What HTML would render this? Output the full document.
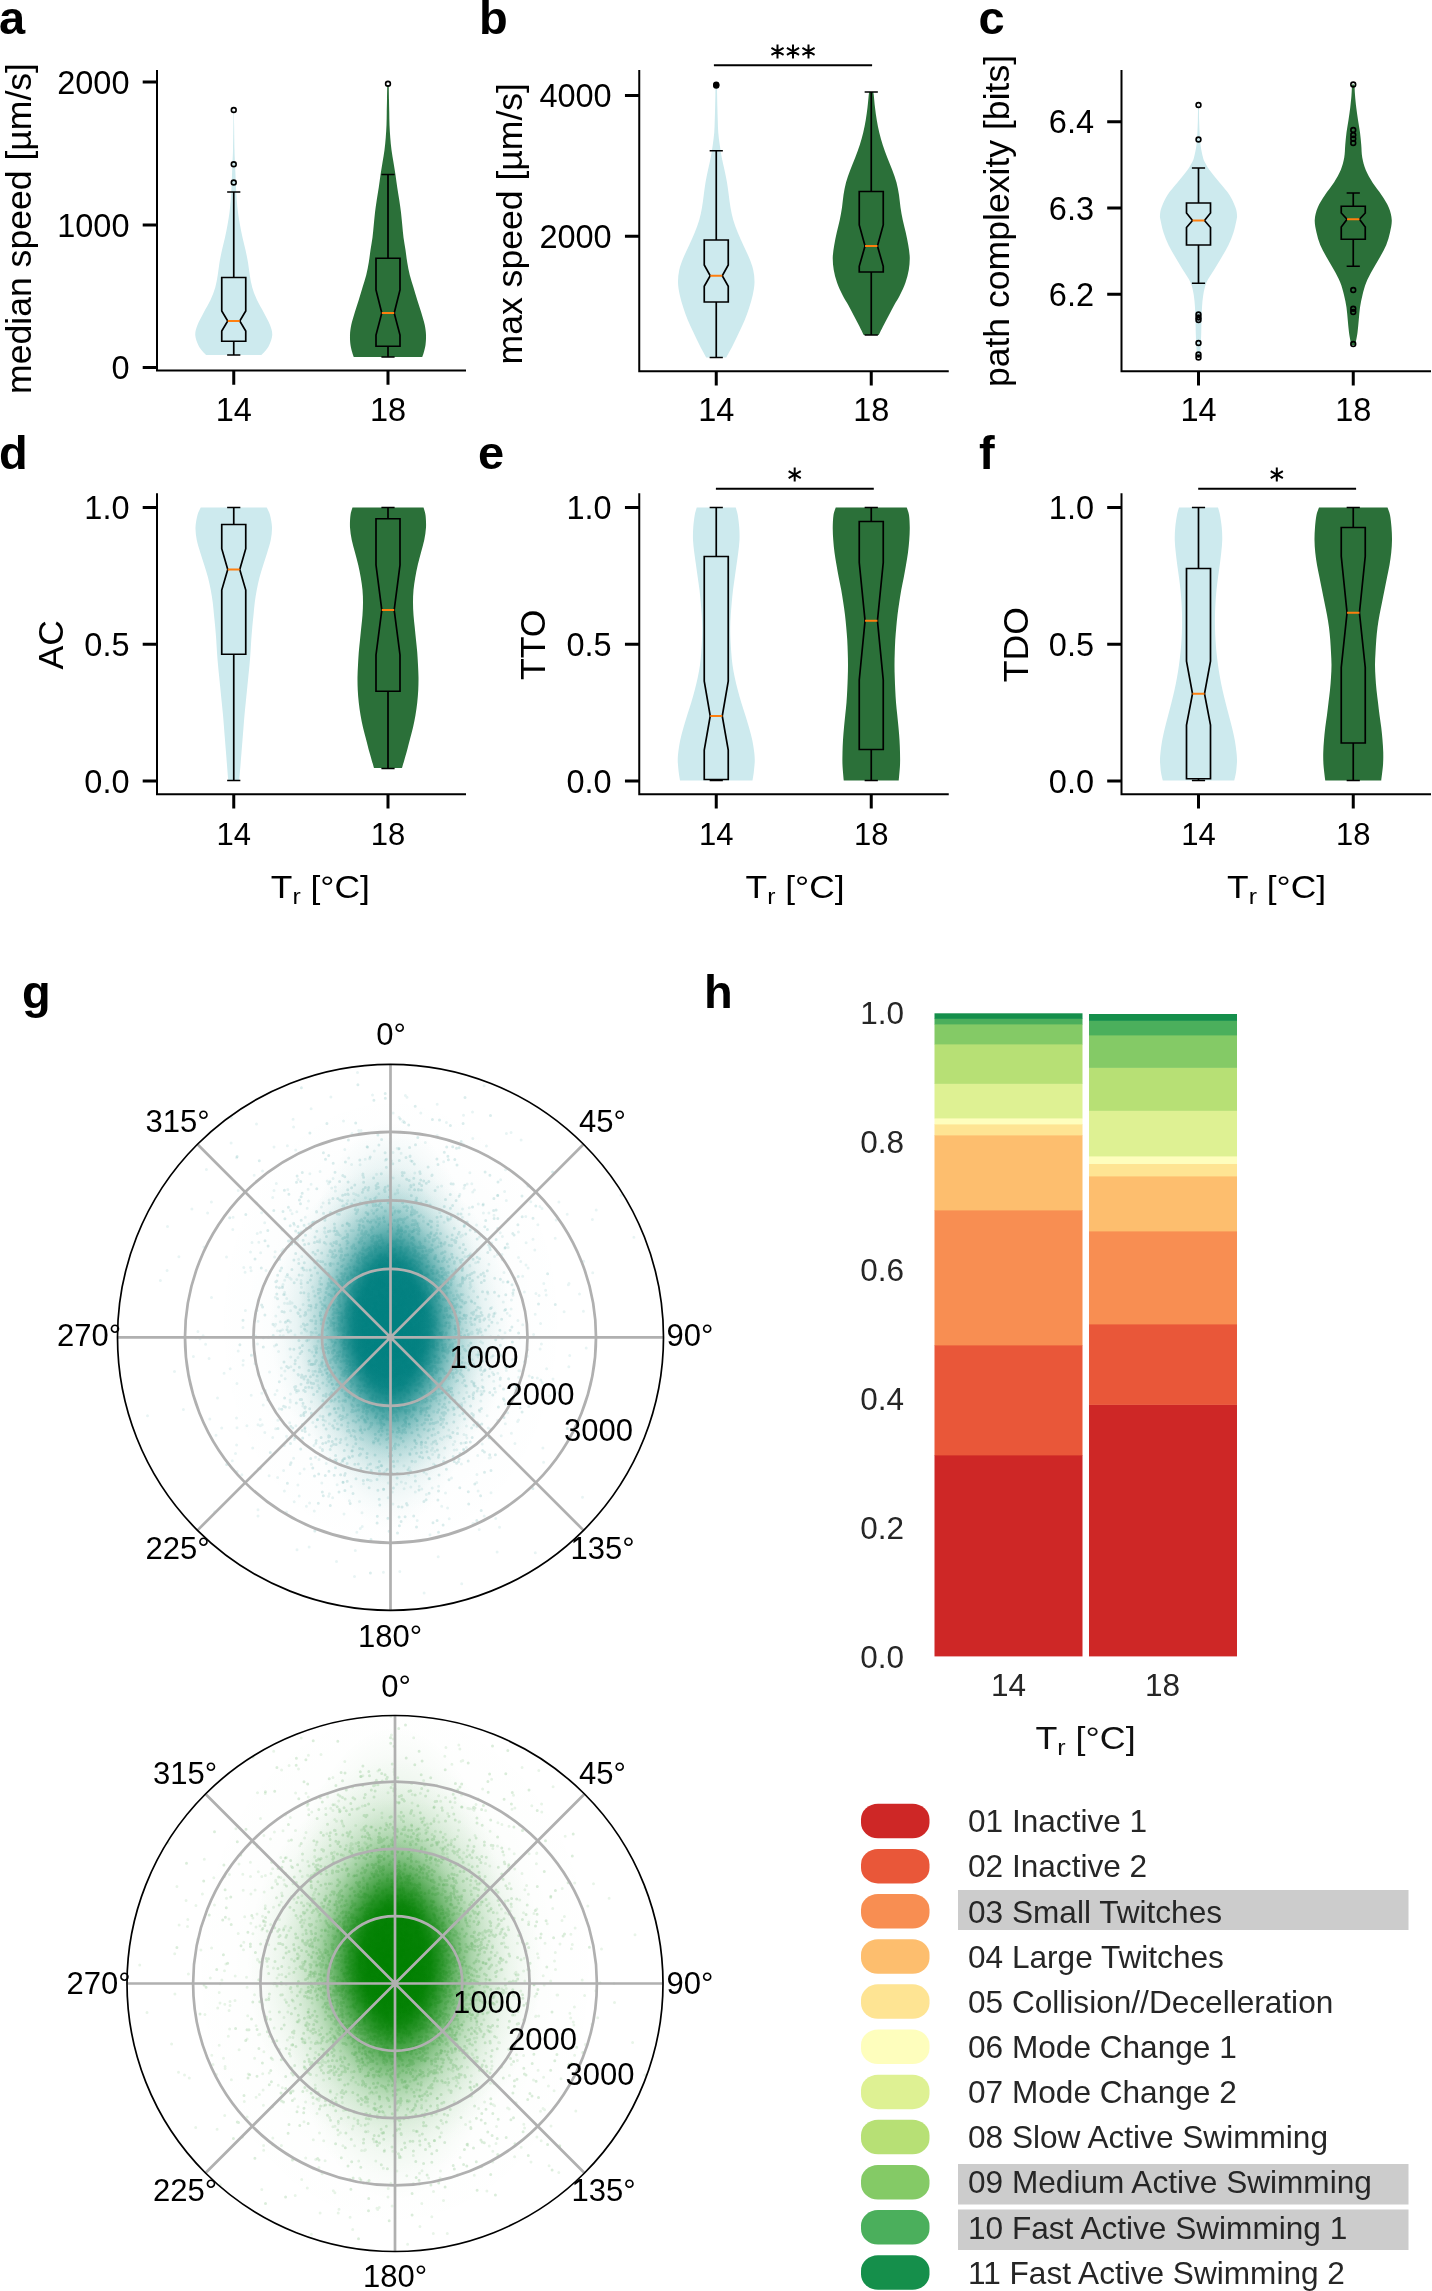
<!DOCTYPE html>
<html><head><meta charset="utf-8"><title>figure</title>
<style>html,body{margin:0;padding:0;background:#fff}svg{display:block;will-change:transform}text{font-family:"Liberation Sans", sans-serif}</style>
</head><body>
<svg width="1432" height="2291" viewBox="0 0 1432 2291">
<rect width="1432" height="2291" fill="#fff"/>
<path d="M233.5 110C233.48 112.5 233.46 118.33 233.38 125C233.29 131.67 233.15 143.75 233 150C232.85 156.25 232.67 158.33 232.5 162.5C232.33 166.67 232.17 170.83 232 175C231.83 179.17 231.71 183.33 231.5 187.5C231.29 191.67 231.08 195.83 230.75 200C230.42 204.17 230.04 208.33 229.5 212.5C228.96 216.67 228.25 220.83 227.5 225C226.75 229.17 225.92 233.33 225 237.5C224.08 241.67 222.92 245.83 222 250C221.08 254.17 220.21 258.33 219.5 262.5C218.79 266.67 218.46 270.83 217.75 275C217.04 279.17 216.46 283.33 215.25 287.5C214.04 291.67 212.42 295.83 210.5 300C208.58 304.17 205.92 308.33 203.75 312.5C201.58 316.67 198.92 321.25 197.5 325C196.08 328.75 195.12 331.67 195.25 335C195.38 338.33 197.04 342.29 198.25 345C199.46 347.71 201.17 349.58 202.5 351.25C203.83 352.92 205.62 354.38 206.25 355L261.25 355C261.88 354.38 263.67 352.92 265 351.25C266.33 349.58 268.04 347.71 269.25 345C270.46 342.29 272.12 338.33 272.25 335C272.38 331.67 271.42 328.75 270 325C268.58 321.25 265.92 316.67 263.75 312.5C261.58 308.33 258.92 304.17 257 300C255.08 295.83 253.46 291.67 252.25 287.5C251.04 283.33 250.46 279.17 249.75 275C249.04 270.83 248.71 266.67 248 262.5C247.29 258.33 246.42 254.17 245.5 250C244.58 245.83 243.42 241.67 242.5 237.5C241.58 233.33 240.75 229.17 240 225C239.25 220.83 238.54 216.67 238 212.5C237.46 208.33 237.08 204.17 236.75 200C236.42 195.83 236.21 191.67 236 187.5C235.79 183.33 235.67 179.17 235.5 175C235.33 170.83 235.17 166.67 235 162.5C234.83 158.33 234.65 156.25 234.5 150C234.35 143.75 234.21 131.67 234.12 125C234.04 118.33 234.02 112.5 234 110Z" fill="#cdeaee"/>
<path d="M387.25 85C387.21 87.5 387.08 95.42 387 100C386.92 104.58 386.83 108.33 386.75 112.5C386.67 116.67 386.67 120.83 386.5 125C386.33 129.17 386.08 133.33 385.75 137.5C385.42 141.67 385.04 145.83 384.5 150C383.96 154.17 383.17 158.33 382.5 162.5C381.83 166.67 381.12 170.83 380.5 175C379.88 179.17 379.38 183.33 378.75 187.5C378.12 191.67 377.38 195.83 376.75 200C376.12 204.17 375.5 208.33 375 212.5C374.5 216.67 374.17 220.83 373.75 225C373.33 229.17 373.04 233.33 372.5 237.5C371.96 241.67 371.12 245.83 370.5 250C369.88 254.17 369.46 258.33 368.75 262.5C368.04 266.67 367.29 270.83 366.25 275C365.21 279.17 363.75 283.33 362.5 287.5C361.25 291.67 360.04 295.83 358.75 300C357.46 304.17 356 308.33 354.75 312.5C353.5 316.67 352.04 321.25 351.25 325C350.46 328.75 350.12 331.67 350 335C349.88 338.33 350.12 342.08 350.5 345C350.88 347.92 351.71 350.5 352.25 352.5C352.79 354.5 353.5 356.25 353.75 357L422.25 357C422.5 356.25 423.21 354.5 423.75 352.5C424.29 350.5 425.12 347.92 425.5 345C425.88 342.08 426.12 338.33 426 335C425.88 331.67 425.54 328.75 424.75 325C423.96 321.25 422.5 316.67 421.25 312.5C420 308.33 418.54 304.17 417.25 300C415.96 295.83 414.75 291.67 413.5 287.5C412.25 283.33 410.79 279.17 409.75 275C408.71 270.83 407.96 266.67 407.25 262.5C406.54 258.33 406.12 254.17 405.5 250C404.88 245.83 404.04 241.67 403.5 237.5C402.96 233.33 402.67 229.17 402.25 225C401.83 220.83 401.5 216.67 401 212.5C400.5 208.33 399.88 204.17 399.25 200C398.62 195.83 397.88 191.67 397.25 187.5C396.62 183.33 396.12 179.17 395.5 175C394.88 170.83 394.17 166.67 393.5 162.5C392.83 158.33 392.04 154.17 391.5 150C390.96 145.83 390.58 141.67 390.25 137.5C389.92 133.33 389.67 129.17 389.5 125C389.33 120.83 389.33 116.67 389.25 112.5C389.17 108.33 389.08 104.58 389 100C388.92 95.42 388.79 87.5 388.75 85Z" fill="#2b7039"/>
<path d="M221.75 341.25 L245.75 341.25 L245.75 331 L239.75 321 L245.75 311 L245.75 277.5 L221.75 277.5 L221.75 311 L227.75 321 L221.75 331 Z" fill="none" stroke="#000" stroke-width="1.7" stroke-linejoin="miter"/>
<path d="M233.75 277.5 V192 M233.75 341.25 V355 M227.15 192 H240.35 M227.15 355 H240.35" stroke="#000" stroke-width="1.7" fill="none"/>
<path d="M227.75 321 H239.75" stroke="#ff7f0e" stroke-width="2"/>
<circle cx="233.75" cy="110" r="2.4" fill="none" stroke="#000" stroke-width="1.6"/>
<circle cx="233.75" cy="164.25" r="2.4" fill="none" stroke="#000" stroke-width="1.6"/>
<circle cx="233.75" cy="182.5" r="2.4" fill="none" stroke="#000" stroke-width="1.6"/>
<path d="M376 346.25 L400 346.25 L400 335 L394.2 313 L400 290 L400 258.25 L376 258.25 L376 290 L381.8 313 L376 335 Z" fill="none" stroke="#000" stroke-width="1.7" stroke-linejoin="miter"/>
<path d="M388 258.25 V174.5 M388 346.25 V357 M381.4 174.5 H394.6 M381.4 357 H394.6" stroke="#000" stroke-width="1.7" fill="none"/>
<path d="M381.8 313 H394.2" stroke="#ff7f0e" stroke-width="2"/>
<circle cx="388" cy="83.75" r="2.4" fill="none" stroke="#000" stroke-width="1.6"/>
<path d="M157 70 V370.5 H466" fill="none" stroke="#000" stroke-width="2" stroke-linejoin="miter"/>
<path d="M142.7 82H157M142.7 225H157M142.7 367.5H157M233.75 370.5V384.8M388 370.5V384.8" stroke="#000" stroke-width="3" fill="none"/>
<text x="129.5" y="93.6" font-size="32.5" text-anchor="end" font-weight="normal" fill="#000">2000</text>
<text x="129.5" y="236.6" font-size="32.5" text-anchor="end" font-weight="normal" fill="#000">1000</text>
<text x="129.5" y="379.1" font-size="32.5" text-anchor="end" font-weight="normal" fill="#000">0</text>
<text x="233.75" y="421.4" font-size="32.5" text-anchor="middle" font-weight="normal" fill="#000">14</text>
<text x="388" y="421.4" font-size="32.5" text-anchor="middle" font-weight="normal" fill="#000">18</text>
<text transform="translate(31.3 228.5) rotate(-90)" font-size="35.6" text-anchor="middle">median speed [µm/s]</text>
<text x="-1" y="34.3" font-size="47" text-anchor="start" font-weight="bold" fill="#000">a</text>
<path d="M715.5 85C715.48 86.67 715.44 91.25 715.38 95C715.31 98.75 715.23 103.33 715.12 107.5C715.02 111.67 714.9 115.83 714.75 120C714.6 124.17 714.58 128.33 714.25 132.5C713.92 136.67 713.33 140.83 712.75 145C712.17 149.17 711.54 153.33 710.75 157.5C709.96 161.67 708.88 165.83 708 170C707.12 174.17 706.21 178.33 705.5 182.5C704.79 186.67 704.33 190.83 703.75 195C703.17 199.17 702.75 203.33 702 207.5C701.25 211.67 700.46 215.83 699.25 220C698.04 224.17 696.42 228.33 694.75 232.5C693.08 236.67 691.12 240.83 689.25 245C687.38 249.17 685.17 253.33 683.5 257.5C681.83 261.67 680.17 265.83 679.25 270C678.33 274.17 677.92 278.33 678 282.5C678.08 286.67 678.88 290.83 679.75 295C680.62 299.17 681.92 303.33 683.25 307.5C684.58 311.67 686.04 315.83 687.75 320C689.46 324.17 691.54 328.33 693.5 332.5C695.46 336.67 697.38 340.83 699.5 345C701.62 349.17 705.12 355.42 706.25 357.5L726.25 357.5C727.38 355.42 730.88 349.17 733 345C735.12 340.83 737.04 336.67 739 332.5C740.96 328.33 743.04 324.17 744.75 320C746.46 315.83 747.92 311.67 749.25 307.5C750.58 303.33 751.88 299.17 752.75 295C753.62 290.83 754.42 286.67 754.5 282.5C754.58 278.33 754.17 274.17 753.25 270C752.33 265.83 750.67 261.67 749 257.5C747.33 253.33 745.12 249.17 743.25 245C741.38 240.83 739.42 236.67 737.75 232.5C736.08 228.33 734.46 224.17 733.25 220C732.04 215.83 731.25 211.67 730.5 207.5C729.75 203.33 729.33 199.17 728.75 195C728.17 190.83 727.71 186.67 727 182.5C726.29 178.33 725.38 174.17 724.5 170C723.62 165.83 722.54 161.67 721.75 157.5C720.96 153.33 720.33 149.17 719.75 145C719.17 140.83 718.58 136.67 718.25 132.5C717.92 128.33 717.9 124.17 717.75 120C717.6 115.83 717.48 111.67 717.38 107.5C717.27 103.33 717.19 98.75 717.12 95C717.06 91.25 717.02 86.67 717 85Z" fill="#cdeaee"/>
<path d="M869.25 92C869.17 92.5 869.04 92.42 868.75 95C868.46 97.58 868 103.33 867.5 107.5C867 111.67 866.46 115.83 865.75 120C865.04 124.17 864.25 128.33 863.25 132.5C862.25 136.67 861.08 140.83 859.75 145C858.42 149.17 856.83 153.33 855.25 157.5C853.67 161.67 851.79 165.83 850.25 170C848.71 174.17 847.12 178.33 846 182.5C844.88 186.67 844.17 190.83 843.5 195C842.83 199.17 842.62 203.33 842 207.5C841.38 211.67 840.62 215.83 839.75 220C838.88 224.17 837.67 228.33 836.75 232.5C835.83 236.67 834.92 240.83 834.25 245C833.58 249.17 832.83 253.33 832.75 257.5C832.67 261.67 833.04 265.83 833.75 270C834.46 274.17 835.54 278.33 837 282.5C838.46 286.67 840.62 291.25 842.5 295C844.38 298.75 846.42 301.67 848.25 305C850.08 308.33 851.75 311.67 853.5 315C855.25 318.33 857.04 321.67 858.75 325C860.46 328.33 862.92 333.33 863.75 335L878.75 335C879.58 333.33 882.04 328.33 883.75 325C885.46 321.67 887.25 318.33 889 315C890.75 311.67 892.42 308.33 894.25 305C896.08 301.67 898.12 298.75 900 295C901.88 291.25 904.04 286.67 905.5 282.5C906.96 278.33 908.04 274.17 908.75 270C909.46 265.83 909.83 261.67 909.75 257.5C909.67 253.33 908.92 249.17 908.25 245C907.58 240.83 906.67 236.67 905.75 232.5C904.83 228.33 903.62 224.17 902.75 220C901.88 215.83 901.12 211.67 900.5 207.5C899.88 203.33 899.67 199.17 899 195C898.33 190.83 897.62 186.67 896.5 182.5C895.38 178.33 893.79 174.17 892.25 170C890.71 165.83 888.83 161.67 887.25 157.5C885.67 153.33 884.08 149.17 882.75 145C881.42 140.83 880.25 136.67 879.25 132.5C878.25 128.33 877.46 124.17 876.75 120C876.04 115.83 875.5 111.67 875 107.5C874.5 103.33 874.04 97.58 873.75 95C873.46 92.42 873.33 92.5 873.25 92Z" fill="#2b7039"/>
<path d="M704.25 302 L728.25 302 L728.25 286.25 L722.25 275.75 L728.25 265 L728.25 240 L704.25 240 L704.25 265 L710.25 275.75 L704.25 286.25 Z" fill="none" stroke="#000" stroke-width="1.7" stroke-linejoin="miter"/>
<path d="M716.25 240 V150.75 M716.25 302 V357.5 M709.65 150.75 H722.85 M709.65 357.5 H722.85" stroke="#000" stroke-width="1.7" fill="none"/>
<path d="M710.25 275.75 H722.25" stroke="#ff7f0e" stroke-width="2"/>
<circle cx="716.25" cy="84.6" r="2.4" fill="none" stroke="#000" stroke-width="1.6"/>
<circle cx="716.25" cy="85.6" r="2.4" fill="none" stroke="#000" stroke-width="1.6"/>
<circle cx="716.25" cy="85.1" r="2.2" fill="#000"/>
<path d="M859.25 272 L883.25 272 L883.25 266.25 L877.45 246 L883.25 225 L883.25 191.5 L859.25 191.5 L859.25 225 L865.05 246 L859.25 266.25 Z" fill="none" stroke="#000" stroke-width="1.7" stroke-linejoin="miter"/>
<path d="M871.25 191.5 V92 M871.25 272 V335 M864.65 92 H877.85 M864.65 335 H877.85" stroke="#000" stroke-width="1.7" fill="none"/>
<path d="M865.05 246 H877.45" stroke="#ff7f0e" stroke-width="2"/>
<path d="M639.25 70 V371.25 H948.75" fill="none" stroke="#000" stroke-width="2" stroke-linejoin="miter"/>
<path d="M624.95 95.5H639.25M624.95 236.25H639.25M716.25 371.25V385.55M871.25 371.25V385.55" stroke="#000" stroke-width="3" fill="none"/>
<text x="611.7" y="107.1" font-size="32.5" text-anchor="end" font-weight="normal" fill="#000">4000</text>
<text x="611.7" y="247.85" font-size="32.5" text-anchor="end" font-weight="normal" fill="#000">2000</text>
<text x="716.25" y="421.4" font-size="32.5" text-anchor="middle" font-weight="normal" fill="#000">14</text>
<text x="871.25" y="421.4" font-size="32.5" text-anchor="middle" font-weight="normal" fill="#000">18</text>
<text transform="translate(522 223.75) rotate(-90)" font-size="35.6" text-anchor="middle">max speed [µm/s]</text>
<text x="479" y="34.3" font-size="47" text-anchor="start" font-weight="bold" fill="#000">b</text>
<path d="M713.9 65.2H872.1" stroke="#000" stroke-width="2.1"/>
<path d="M777.5 44.4V58.4M771.44 47.9L783.56 54.9M771.44 54.9L783.56 47.9M793 44.4V58.4M786.94 47.9L799.06 54.9M786.94 54.9L799.06 47.9M808.5 44.4V58.4M802.44 47.9L814.56 54.9M802.44 54.9L814.56 47.9" stroke="#000" stroke-width="2.0" fill="none"/>
<path d="M1198.12 105C1198.08 107.5 1198 115.42 1197.88 120C1197.75 124.58 1197.6 128.33 1197.38 132.5C1197.15 136.67 1197.06 140.83 1196.5 145C1195.94 149.17 1194.75 154.58 1194 157.5C1193.25 160.42 1193.08 160.42 1192 162.5C1190.92 164.58 1189.92 166.67 1187.5 170C1185.08 173.33 1180.83 178.33 1177.5 182.5C1174.17 186.67 1170.17 190.83 1167.5 195C1164.83 199.17 1162.75 204.17 1161.5 207.5C1160.25 210.83 1160.17 212.92 1160 215C1159.83 217.08 1159.92 217.08 1160.5 220C1161.08 222.92 1162.17 228.33 1163.5 232.5C1164.83 236.67 1166.5 240.83 1168.5 245C1170.5 249.17 1173.08 253.33 1175.5 257.5C1177.92 261.67 1180.5 265.83 1183 270C1185.5 274.17 1188.71 278.33 1190.5 282.5C1192.29 286.67 1193 290.83 1193.75 295C1194.5 299.17 1194.71 303.33 1195 307.5C1195.29 311.67 1195.38 315.83 1195.5 320C1195.62 324.17 1195.62 328.33 1195.75 332.5C1195.88 336.67 1196 340.83 1196.25 345C1196.5 349.17 1197.08 355.42 1197.25 357.5L1199.75 357.5C1199.92 355.42 1200.5 349.17 1200.75 345C1201 340.83 1201.12 336.67 1201.25 332.5C1201.38 328.33 1201.38 324.17 1201.5 320C1201.62 315.83 1201.71 311.67 1202 307.5C1202.29 303.33 1202.5 299.17 1203.25 295C1204 290.83 1204.71 286.67 1206.5 282.5C1208.29 278.33 1211.5 274.17 1214 270C1216.5 265.83 1219.08 261.67 1221.5 257.5C1223.92 253.33 1226.5 249.17 1228.5 245C1230.5 240.83 1232.17 236.67 1233.5 232.5C1234.83 228.33 1235.92 222.92 1236.5 220C1237.08 217.08 1237.17 217.08 1237 215C1236.83 212.92 1236.75 210.83 1235.5 207.5C1234.25 204.17 1232.17 199.17 1229.5 195C1226.83 190.83 1222.83 186.67 1219.5 182.5C1216.17 178.33 1211.92 173.33 1209.5 170C1207.08 166.67 1206.08 164.58 1205 162.5C1203.92 160.42 1203.75 160.42 1203 157.5C1202.25 154.58 1201.06 149.17 1200.5 145C1199.94 140.83 1199.85 136.67 1199.62 132.5C1199.4 128.33 1199.25 124.58 1199.12 120C1199 115.42 1198.92 107.5 1198.88 105Z" fill="#cdeaee"/>
<path d="M1352 84.5C1351.92 86.25 1351.79 91.17 1351.5 95C1351.21 98.83 1350.75 103.33 1350.25 107.5C1349.75 111.67 1349.12 115.83 1348.5 120C1347.88 124.17 1347.04 128.33 1346.5 132.5C1345.96 136.67 1345.62 140.83 1345.25 145C1344.88 149.17 1345 153.33 1344.25 157.5C1343.5 161.67 1342.46 165.83 1340.75 170C1339.04 174.17 1336.62 178.33 1334 182.5C1331.38 186.67 1327.71 190.83 1325 195C1322.29 199.17 1319.46 203.33 1317.75 207.5C1316.04 211.67 1314.96 215.83 1314.75 220C1314.54 224.17 1315.58 228.33 1316.5 232.5C1317.42 236.67 1318.54 240.83 1320.25 245C1321.96 249.17 1324.46 253.33 1326.75 257.5C1329.04 261.67 1331.75 265.83 1334 270C1336.25 274.17 1338.58 278.33 1340.25 282.5C1341.92 286.67 1342.96 290.83 1344 295C1345.04 299.17 1345.88 303.33 1346.5 307.5C1347.12 311.67 1347.33 315.83 1347.75 320C1348.17 324.17 1348.42 328.33 1349 332.5C1349.58 336.67 1350.88 342.92 1351.25 345L1355.25 345C1355.62 342.92 1356.92 336.67 1357.5 332.5C1358.08 328.33 1358.33 324.17 1358.75 320C1359.17 315.83 1359.38 311.67 1360 307.5C1360.62 303.33 1361.46 299.17 1362.5 295C1363.54 290.83 1364.58 286.67 1366.25 282.5C1367.92 278.33 1370.25 274.17 1372.5 270C1374.75 265.83 1377.46 261.67 1379.75 257.5C1382.04 253.33 1384.54 249.17 1386.25 245C1387.96 240.83 1389.08 236.67 1390 232.5C1390.92 228.33 1391.96 224.17 1391.75 220C1391.54 215.83 1390.46 211.67 1388.75 207.5C1387.04 203.33 1384.21 199.17 1381.5 195C1378.79 190.83 1375.12 186.67 1372.5 182.5C1369.88 178.33 1367.46 174.17 1365.75 170C1364.04 165.83 1363 161.67 1362.25 157.5C1361.5 153.33 1361.62 149.17 1361.25 145C1360.88 140.83 1360.54 136.67 1360 132.5C1359.46 128.33 1358.62 124.17 1358 120C1357.38 115.83 1356.75 111.67 1356.25 107.5C1355.75 103.33 1355.29 98.83 1355 95C1354.71 91.17 1354.58 86.25 1354.5 84.5Z" fill="#2b7039"/>
<path d="M1186.5 245 L1210.5 245 L1210.5 227.5 L1204.5 220.5 L1210.5 213 L1210.5 203 L1186.5 203 L1186.5 213 L1192.5 220.5 L1186.5 227.5 Z" fill="none" stroke="#000" stroke-width="1.7" stroke-linejoin="miter"/>
<path d="M1198.5 203 V168 M1198.5 245 V283.25 M1191.9 168 H1205.1 M1191.9 283.25 H1205.1" stroke="#000" stroke-width="1.7" fill="none"/>
<path d="M1192.5 220.5 H1204.5" stroke="#ff7f0e" stroke-width="2"/>
<circle cx="1198.5" cy="105" r="2.4" fill="none" stroke="#000" stroke-width="1.6"/>
<circle cx="1198.5" cy="139.5" r="2.4" fill="none" stroke="#000" stroke-width="1.6"/>
<circle cx="1198.5" cy="314.5" r="2.4" fill="none" stroke="#000" stroke-width="1.6"/>
<circle cx="1198.5" cy="317.5" r="2.4" fill="none" stroke="#000" stroke-width="1.6"/>
<circle cx="1198.5" cy="320" r="2.4" fill="none" stroke="#000" stroke-width="1.6"/>
<circle cx="1198.5" cy="343" r="2.4" fill="none" stroke="#000" stroke-width="1.6"/>
<circle cx="1198.5" cy="354.5" r="2.4" fill="none" stroke="#000" stroke-width="1.6"/>
<circle cx="1198.5" cy="357.5" r="2.4" fill="none" stroke="#000" stroke-width="1.6"/>
<path d="M1341.25 239.25 L1365.25 239.25 L1365.25 227 L1359.45 219.25 L1365.25 213 L1365.25 206.25 L1341.25 206.25 L1341.25 213 L1347.05 219.25 L1341.25 227 Z" fill="none" stroke="#000" stroke-width="1.7" stroke-linejoin="miter"/>
<path d="M1353.25 206.25 V193 M1353.25 239.25 V266.25 M1346.65 193 H1359.85 M1346.65 266.25 H1359.85" stroke="#000" stroke-width="1.7" fill="none"/>
<path d="M1347.05 219.25 H1359.45" stroke="#ff7f0e" stroke-width="2"/>
<circle cx="1353.25" cy="84.5" r="2.4" fill="none" stroke="#000" stroke-width="1.6"/>
<circle cx="1353.25" cy="130" r="2.4" fill="none" stroke="#000" stroke-width="1.6"/>
<circle cx="1353.25" cy="135" r="2.4" fill="none" stroke="#000" stroke-width="1.6"/>
<circle cx="1353.25" cy="138.75" r="2.4" fill="none" stroke="#000" stroke-width="1.6"/>
<circle cx="1353.25" cy="143" r="2.4" fill="none" stroke="#000" stroke-width="1.6"/>
<circle cx="1353.25" cy="290" r="2.4" fill="none" stroke="#000" stroke-width="1.6"/>
<circle cx="1353.25" cy="308.75" r="2.4" fill="none" stroke="#000" stroke-width="1.6"/>
<circle cx="1353.25" cy="312" r="2.4" fill="none" stroke="#000" stroke-width="1.6"/>
<circle cx="1353.25" cy="344" r="2.4" fill="none" stroke="#000" stroke-width="1.6"/>
<path d="M1121.5 70 V371.25 H1431" fill="none" stroke="#000" stroke-width="2" stroke-linejoin="miter"/>
<path d="M1107.2 121.75H1121.5M1107.2 208H1121.5M1107.2 294.25H1121.5M1198.5 371.25V385.55M1353.25 371.25V385.55" stroke="#000" stroke-width="3" fill="none"/>
<text x="1094" y="133.35" font-size="32.5" text-anchor="end" font-weight="normal" fill="#000">6.4</text>
<text x="1094" y="219.6" font-size="32.5" text-anchor="end" font-weight="normal" fill="#000">6.3</text>
<text x="1094" y="305.85" font-size="32.5" text-anchor="end" font-weight="normal" fill="#000">6.2</text>
<text x="1198.5" y="421.4" font-size="32.5" text-anchor="middle" font-weight="normal" fill="#000">14</text>
<text x="1353.25" y="421.4" font-size="32.5" text-anchor="middle" font-weight="normal" fill="#000">18</text>
<text transform="translate(1009 221) rotate(-90)" font-size="35.6" text-anchor="middle">path complexity [bits]</text>
<text x="978.5" y="34.3" font-size="47" text-anchor="start" font-weight="bold" fill="#000">c</text>
<path d="M200.75 507.5C200.21 508.75 198.38 511.67 197.5 515C196.62 518.33 195.62 523.33 195.5 527.5C195.38 531.67 195.96 535.83 196.75 540C197.54 544.17 199 548.33 200.25 552.5C201.5 556.67 202.96 560.83 204.25 565C205.54 569.17 206.92 573.33 208 577.5C209.08 581.67 209.96 585.83 210.75 590C211.54 594.17 212.21 598.33 212.75 602.5C213.29 606.67 213.58 610.83 214 615C214.42 619.17 214.88 623.33 215.25 627.5C215.62 631.67 215.96 635.83 216.25 640C216.54 644.17 216.71 648.33 217 652.5C217.29 656.67 217.62 660.83 218 665C218.38 669.17 218.83 673.33 219.25 677.5C219.67 681.67 220.08 685.83 220.5 690C220.92 694.17 221.33 698.33 221.75 702.5C222.17 706.67 222.62 710.83 223 715C223.38 719.17 223.67 723.33 224 727.5C224.33 731.67 224.67 735.83 225 740C225.33 744.17 225.67 748.33 226 752.5C226.33 756.67 226.62 760.33 227 765C227.38 769.67 228.04 777.92 228.25 780.5L239.25 780.5C239.46 777.92 240.12 769.67 240.5 765C240.88 760.33 241.17 756.67 241.5 752.5C241.83 748.33 242.17 744.17 242.5 740C242.83 735.83 243.17 731.67 243.5 727.5C243.83 723.33 244.12 719.17 244.5 715C244.88 710.83 245.33 706.67 245.75 702.5C246.17 698.33 246.58 694.17 247 690C247.42 685.83 247.83 681.67 248.25 677.5C248.67 673.33 249.12 669.17 249.5 665C249.88 660.83 250.21 656.67 250.5 652.5C250.79 648.33 250.96 644.17 251.25 640C251.54 635.83 251.88 631.67 252.25 627.5C252.62 623.33 253.08 619.17 253.5 615C253.92 610.83 254.21 606.67 254.75 602.5C255.29 598.33 255.96 594.17 256.75 590C257.54 585.83 258.42 581.67 259.5 577.5C260.58 573.33 261.96 569.17 263.25 565C264.54 560.83 266 556.67 267.25 552.5C268.5 548.33 269.96 544.17 270.75 540C271.54 535.83 272.12 531.67 272 527.5C271.88 523.33 270.88 518.33 270 515C269.12 511.67 267.29 508.75 266.75 507.5Z" fill="#cdeaee"/>
<path d="M352.5 507.5C352.17 508.75 350.92 511.67 350.5 515C350.08 518.33 349.79 523.33 350 527.5C350.21 531.67 350.92 535.83 351.75 540C352.58 544.17 353.92 548.33 355 552.5C356.08 556.67 357.29 560.83 358.25 565C359.21 569.17 360.04 573.33 360.75 577.5C361.46 581.67 362.12 585.83 362.5 590C362.88 594.17 363 598.33 363 602.5C363 606.67 362.79 610.83 362.5 615C362.21 619.17 361.67 623.33 361.25 627.5C360.83 631.67 360.42 635.83 360 640C359.58 644.17 359.08 648.33 358.75 652.5C358.42 656.67 358.21 660.83 358 665C357.79 669.17 357.54 673.33 357.5 677.5C357.46 681.67 357.54 685.83 357.75 690C357.96 694.17 358.29 698.33 358.75 702.5C359.21 706.67 359.79 710.83 360.5 715C361.21 719.17 362.04 723.33 363 727.5C363.96 731.67 365.17 735.83 366.25 740C367.33 744.17 368.21 747.83 369.5 752.5C370.79 757.17 373.25 765.42 374 768L402 768C402.75 765.42 405.21 757.17 406.5 752.5C407.79 747.83 408.67 744.17 409.75 740C410.83 735.83 412.04 731.67 413 727.5C413.96 723.33 414.79 719.17 415.5 715C416.21 710.83 416.79 706.67 417.25 702.5C417.71 698.33 418.04 694.17 418.25 690C418.46 685.83 418.54 681.67 418.5 677.5C418.46 673.33 418.21 669.17 418 665C417.79 660.83 417.58 656.67 417.25 652.5C416.92 648.33 416.42 644.17 416 640C415.58 635.83 415.17 631.67 414.75 627.5C414.33 623.33 413.79 619.17 413.5 615C413.21 610.83 413 606.67 413 602.5C413 598.33 413.12 594.17 413.5 590C413.88 585.83 414.54 581.67 415.25 577.5C415.96 573.33 416.79 569.17 417.75 565C418.71 560.83 419.92 556.67 421 552.5C422.08 548.33 423.42 544.17 424.25 540C425.08 535.83 425.79 531.67 426 527.5C426.21 523.33 425.92 518.33 425.5 515C425.08 511.67 423.83 508.75 423.5 507.5Z" fill="#2b7039"/>
<path d="M221.75 654.25 L245.75 654.25 L245.75 590 L239.75 569.5 L245.75 548.75 L245.75 524.5 L221.75 524.5 L221.75 548.75 L227.75 569.5 L221.75 590 Z" fill="none" stroke="#000" stroke-width="1.7" stroke-linejoin="miter"/>
<path d="M233.75 524.5 V507.5 M233.75 654.25 V780.5 M227.15 507.5 H240.35 M227.15 780.5 H240.35" stroke="#000" stroke-width="1.7" fill="none"/>
<path d="M227.75 569.5 H239.75" stroke="#ff7f0e" stroke-width="2"/>
<path d="M376 691.25 L400 691.25 L400 655 L394.2 610 L400 565 L400 518.75 L376 518.75 L376 565 L381.8 610 L376 655 Z" fill="none" stroke="#000" stroke-width="1.7" stroke-linejoin="miter"/>
<path d="M388 518.75 V507.5 M388 691.25 V768.5 M381.4 507.5 H394.6 M381.4 768.5 H394.6" stroke="#000" stroke-width="1.7" fill="none"/>
<path d="M381.8 610 H394.2" stroke="#ff7f0e" stroke-width="2"/>
<path d="M157 493.25 V794.25 H466" fill="none" stroke="#000" stroke-width="2" stroke-linejoin="miter"/>
<path d="M142.7 507.6H157M142.7 644.2H157M142.7 780.9H157M233.75 794.25V808.55M388 794.25V808.55" stroke="#000" stroke-width="3" fill="none"/>
<text x="129.5" y="519.2" font-size="32.5" text-anchor="end" font-weight="normal" fill="#000">1.0</text>
<text x="129.5" y="655.8" font-size="32.5" text-anchor="end" font-weight="normal" fill="#000">0.5</text>
<text x="129.5" y="792.5" font-size="32.5" text-anchor="end" font-weight="normal" fill="#000">0.0</text>
<text x="233.75" y="844.5" font-size="31" text-anchor="middle" font-weight="normal" fill="#000">14</text>
<text x="388" y="844.5" font-size="31" text-anchor="middle" font-weight="normal" fill="#000">18</text>
<text transform="translate(62.5 644.7) rotate(-90)" font-size="35.6" text-anchor="middle">AC</text>
<text x="-1" y="469.3" font-size="47" text-anchor="start" font-weight="bold" fill="#000">d</text>
<text transform="translate(320.3 897.5) scale(1.14 1)" font-size="31" text-anchor="middle">T<tspan dy="6" font-size="21.7">r</tspan><tspan dy="-6"> [°C]</tspan></text>
<path d="M696.75 507.5C696.42 508.75 695.33 511.67 694.75 515C694.17 518.33 693.54 523.33 693.25 527.5C692.96 531.67 692.83 535.83 693 540C693.17 544.17 693.75 548.33 694.25 552.5C694.75 556.67 695.42 560.83 696 565C696.58 569.17 697.17 573.33 697.75 577.5C698.33 581.67 699 585.83 699.5 590C700 594.17 700.38 598.33 700.75 602.5C701.12 606.67 701.5 610.83 701.75 615C702 619.17 702.21 623.33 702.25 627.5C702.29 631.67 702.17 635.83 702 640C701.83 644.17 701.58 648.33 701.25 652.5C700.92 656.67 700.58 660.83 700 665C699.42 669.17 698.62 673.33 697.75 677.5C696.88 681.67 695.83 685.83 694.75 690C693.67 694.17 692.5 698.33 691.25 702.5C690 706.67 688.54 710.83 687.25 715C685.96 719.17 684.67 723.33 683.5 727.5C682.33 731.67 681.12 735.83 680.25 740C679.38 744.17 678.67 749.17 678.25 752.5C677.83 755.83 677.79 757.92 677.75 760C677.71 762.08 677.83 762.92 678 765C678.17 767.08 678.42 769.92 678.75 772.5C679.08 775.08 679.79 779.17 680 780.5L752.5 780.5C752.71 779.17 753.42 775.08 753.75 772.5C754.08 769.92 754.33 767.08 754.5 765C754.67 762.92 754.79 762.08 754.75 760C754.71 757.92 754.67 755.83 754.25 752.5C753.83 749.17 753.12 744.17 752.25 740C751.38 735.83 750.17 731.67 749 727.5C747.83 723.33 746.54 719.17 745.25 715C743.96 710.83 742.5 706.67 741.25 702.5C740 698.33 738.83 694.17 737.75 690C736.67 685.83 735.62 681.67 734.75 677.5C733.88 673.33 733.08 669.17 732.5 665C731.92 660.83 731.58 656.67 731.25 652.5C730.92 648.33 730.67 644.17 730.5 640C730.33 635.83 730.21 631.67 730.25 627.5C730.29 623.33 730.5 619.17 730.75 615C731 610.83 731.38 606.67 731.75 602.5C732.12 598.33 732.5 594.17 733 590C733.5 585.83 734.17 581.67 734.75 577.5C735.33 573.33 735.92 569.17 736.5 565C737.08 560.83 737.75 556.67 738.25 552.5C738.75 548.33 739.33 544.17 739.5 540C739.67 535.83 739.54 531.67 739.25 527.5C738.96 523.33 738.33 518.33 737.75 515C737.17 511.67 736.08 508.75 735.75 507.5Z" fill="#cdeaee"/>
<path d="M835.75 507.5C835.38 508.75 834 511.67 833.5 515C833 518.33 832.79 523.33 832.75 527.5C832.71 531.67 832.96 535.83 833.25 540C833.54 544.17 833.96 548.33 834.5 552.5C835.04 556.67 835.79 560.83 836.5 565C837.21 569.17 837.96 573.33 838.75 577.5C839.54 581.67 840.5 585.83 841.25 590C842 594.17 842.62 598.33 843.25 602.5C843.88 606.67 844.5 610.83 845 615C845.5 619.17 845.88 623.33 846.25 627.5C846.62 631.67 847 635.83 847.25 640C847.5 644.17 847.62 648.33 847.75 652.5C847.88 656.67 848 660.83 848 665C848 669.17 847.88 673.33 847.75 677.5C847.62 681.67 847.46 685.83 847.25 690C847.04 694.17 846.83 698.33 846.5 702.5C846.17 706.67 845.67 710.83 845.25 715C844.83 719.17 844.38 723.33 844 727.5C843.62 731.67 843.25 735.83 843 740C842.75 744.17 842.58 748.33 842.5 752.5C842.42 756.67 842.29 760.33 842.5 765C842.71 769.67 843.54 777.92 843.75 780.5L898.75 780.5C898.96 777.92 899.79 769.67 900 765C900.21 760.33 900.08 756.67 900 752.5C899.92 748.33 899.75 744.17 899.5 740C899.25 735.83 898.88 731.67 898.5 727.5C898.12 723.33 897.67 719.17 897.25 715C896.83 710.83 896.33 706.67 896 702.5C895.67 698.33 895.46 694.17 895.25 690C895.04 685.83 894.88 681.67 894.75 677.5C894.62 673.33 894.5 669.17 894.5 665C894.5 660.83 894.62 656.67 894.75 652.5C894.88 648.33 895 644.17 895.25 640C895.5 635.83 895.88 631.67 896.25 627.5C896.62 623.33 897 619.17 897.5 615C898 610.83 898.62 606.67 899.25 602.5C899.88 598.33 900.5 594.17 901.25 590C902 585.83 902.96 581.67 903.75 577.5C904.54 573.33 905.29 569.17 906 565C906.71 560.83 907.46 556.67 908 552.5C908.54 548.33 908.96 544.17 909.25 540C909.54 535.83 909.79 531.67 909.75 527.5C909.71 523.33 909.5 518.33 909 515C908.5 511.67 907.12 508.75 906.75 507.5Z" fill="#2b7039"/>
<path d="M704.25 779.5 L728.25 779.5 L728.25 750 L722.25 716 L728.25 681.25 L728.25 556.5 L704.25 556.5 L704.25 681.25 L710.25 716 L704.25 750 Z" fill="none" stroke="#000" stroke-width="1.7" stroke-linejoin="miter"/>
<path d="M716.25 556.5 V507.5 M716.25 779.5 V780.5 M709.65 507.5 H722.85 M709.65 780.5 H722.85" stroke="#000" stroke-width="1.7" fill="none"/>
<path d="M710.25 716 H722.25" stroke="#ff7f0e" stroke-width="2"/>
<path d="M859.25 749.5 L883.25 749.5 L883.25 680 L877.45 620.75 L883.25 562.5 L883.25 521.5 L859.25 521.5 L859.25 562.5 L865.05 620.75 L859.25 680 Z" fill="none" stroke="#000" stroke-width="1.7" stroke-linejoin="miter"/>
<path d="M871.25 521.5 V507.5 M871.25 749.5 V780.5 M864.65 507.5 H877.85 M864.65 780.5 H877.85" stroke="#000" stroke-width="1.7" fill="none"/>
<path d="M865.05 620.75 H877.45" stroke="#ff7f0e" stroke-width="2"/>
<path d="M639.25 493.25 V794.25 H948.75" fill="none" stroke="#000" stroke-width="2" stroke-linejoin="miter"/>
<path d="M624.95 507.6H639.25M624.95 644.2H639.25M624.95 780.9H639.25M716.25 794.25V808.55M871.25 794.25V808.55" stroke="#000" stroke-width="3" fill="none"/>
<text x="611.7" y="519.2" font-size="32.5" text-anchor="end" font-weight="normal" fill="#000">1.0</text>
<text x="611.7" y="655.8" font-size="32.5" text-anchor="end" font-weight="normal" fill="#000">0.5</text>
<text x="611.7" y="792.5" font-size="32.5" text-anchor="end" font-weight="normal" fill="#000">0.0</text>
<text x="716.25" y="844.5" font-size="31" text-anchor="middle" font-weight="normal" fill="#000">14</text>
<text x="871.25" y="844.5" font-size="31" text-anchor="middle" font-weight="normal" fill="#000">18</text>
<text transform="translate(545.3 644.7) rotate(-90)" font-size="35.6" text-anchor="middle">TTO</text>
<text x="478" y="469.3" font-size="47" text-anchor="start" font-weight="bold" fill="#000">e</text>
<text transform="translate(795 897.5) scale(1.14 1)" font-size="31" text-anchor="middle">T<tspan dy="6" font-size="21.7">r</tspan><tspan dy="-6"> [°C]</tspan></text>
<path d="M715.9 488.8H873.8" stroke="#000" stroke-width="2.1"/>
<path d="M794.7 467.6V481.6M788.64 471.1L800.76 478.1M788.64 478.1L800.76 471.1" stroke="#000" stroke-width="2.0" fill="none"/>
<path d="M1179 507.5C1178.67 508.75 1177.62 511.67 1177 515C1176.38 518.33 1175.62 523.33 1175.25 527.5C1174.88 531.67 1174.67 535.83 1174.75 540C1174.83 544.17 1175.33 548.33 1175.75 552.5C1176.17 556.67 1176.71 560.83 1177.25 565C1177.79 569.17 1178.46 573.33 1179 577.5C1179.54 581.67 1180.08 585.83 1180.5 590C1180.92 594.17 1181.25 598.33 1181.5 602.5C1181.75 606.67 1181.92 610.83 1182 615C1182.08 619.17 1182.08 623.33 1182 627.5C1181.92 631.67 1181.75 635.83 1181.5 640C1181.25 644.17 1180.92 648.33 1180.5 652.5C1180.08 656.67 1179.58 660.83 1179 665C1178.42 669.17 1177.75 673.33 1177 677.5C1176.25 681.67 1175.42 685.83 1174.5 690C1173.58 694.17 1172.54 698.33 1171.5 702.5C1170.46 706.67 1169.33 710.83 1168.25 715C1167.17 719.17 1166 723.33 1165 727.5C1164 731.67 1163 735.83 1162.25 740C1161.5 744.17 1160.88 749.17 1160.5 752.5C1160.12 755.83 1160.04 757.92 1160 760C1159.96 762.08 1160.08 762.92 1160.25 765C1160.42 767.08 1160.58 769.92 1161 772.5C1161.42 775.08 1162.46 779.17 1162.75 780.5L1234.25 780.5C1234.54 779.17 1235.58 775.08 1236 772.5C1236.42 769.92 1236.58 767.08 1236.75 765C1236.92 762.92 1237.04 762.08 1237 760C1236.96 757.92 1236.88 755.83 1236.5 752.5C1236.12 749.17 1235.5 744.17 1234.75 740C1234 735.83 1233 731.67 1232 727.5C1231 723.33 1229.83 719.17 1228.75 715C1227.67 710.83 1226.54 706.67 1225.5 702.5C1224.46 698.33 1223.42 694.17 1222.5 690C1221.58 685.83 1220.75 681.67 1220 677.5C1219.25 673.33 1218.58 669.17 1218 665C1217.42 660.83 1216.92 656.67 1216.5 652.5C1216.08 648.33 1215.75 644.17 1215.5 640C1215.25 635.83 1215.08 631.67 1215 627.5C1214.92 623.33 1214.92 619.17 1215 615C1215.08 610.83 1215.25 606.67 1215.5 602.5C1215.75 598.33 1216.08 594.17 1216.5 590C1216.92 585.83 1217.46 581.67 1218 577.5C1218.54 573.33 1219.21 569.17 1219.75 565C1220.29 560.83 1220.83 556.67 1221.25 552.5C1221.67 548.33 1222.17 544.17 1222.25 540C1222.33 535.83 1222.12 531.67 1221.75 527.5C1221.38 523.33 1220.62 518.33 1220 515C1219.38 511.67 1218.33 508.75 1218 507.5Z" fill="#cdeaee"/>
<path d="M1319 507.5C1318.58 508.75 1317.17 511.67 1316.5 515C1315.83 518.33 1315.33 523.33 1315 527.5C1314.67 531.67 1314.46 535.83 1314.5 540C1314.54 544.17 1314.83 548.33 1315.25 552.5C1315.67 556.67 1316.29 560.83 1317 565C1317.71 569.17 1318.67 573.33 1319.5 577.5C1320.33 581.67 1321.17 585.83 1322 590C1322.83 594.17 1323.67 598.33 1324.5 602.5C1325.33 606.67 1326.25 610.83 1327 615C1327.75 619.17 1328.46 623.33 1329 627.5C1329.54 631.67 1329.92 635.83 1330.25 640C1330.58 644.17 1330.79 648.33 1331 652.5C1331.21 656.67 1331.5 660.83 1331.5 665C1331.5 669.17 1331.25 673.33 1331 677.5C1330.75 681.67 1330.42 685.83 1330 690C1329.58 694.17 1329 698.33 1328.5 702.5C1328 706.67 1327.54 710.83 1327 715C1326.46 719.17 1325.75 723.33 1325.25 727.5C1324.75 731.67 1324.33 735.83 1324 740C1323.67 744.17 1323.33 748.33 1323.25 752.5C1323.17 756.67 1323.17 760.33 1323.5 765C1323.83 769.67 1324.96 777.92 1325.25 780.5L1381.25 780.5C1381.54 777.92 1382.67 769.67 1383 765C1383.33 760.33 1383.33 756.67 1383.25 752.5C1383.17 748.33 1382.83 744.17 1382.5 740C1382.17 735.83 1381.75 731.67 1381.25 727.5C1380.75 723.33 1380.04 719.17 1379.5 715C1378.96 710.83 1378.5 706.67 1378 702.5C1377.5 698.33 1376.92 694.17 1376.5 690C1376.08 685.83 1375.75 681.67 1375.5 677.5C1375.25 673.33 1375 669.17 1375 665C1375 660.83 1375.29 656.67 1375.5 652.5C1375.71 648.33 1375.92 644.17 1376.25 640C1376.58 635.83 1376.96 631.67 1377.5 627.5C1378.04 623.33 1378.75 619.17 1379.5 615C1380.25 610.83 1381.17 606.67 1382 602.5C1382.83 598.33 1383.67 594.17 1384.5 590C1385.33 585.83 1386.17 581.67 1387 577.5C1387.83 573.33 1388.79 569.17 1389.5 565C1390.21 560.83 1390.83 556.67 1391.25 552.5C1391.67 548.33 1391.96 544.17 1392 540C1392.04 535.83 1391.83 531.67 1391.5 527.5C1391.17 523.33 1390.67 518.33 1390 515C1389.33 511.67 1387.92 508.75 1387.5 507.5Z" fill="#2b7039"/>
<path d="M1186.5 778.75 L1210.5 778.75 L1210.5 725 L1204.5 693.75 L1210.5 661.25 L1210.5 568.5 L1186.5 568.5 L1186.5 661.25 L1192.5 693.75 L1186.5 725 Z" fill="none" stroke="#000" stroke-width="1.7" stroke-linejoin="miter"/>
<path d="M1198.5 568.5 V507.5 M1198.5 778.75 V780.5 M1191.9 507.5 H1205.1 M1191.9 780.5 H1205.1" stroke="#000" stroke-width="1.7" fill="none"/>
<path d="M1192.5 693.75 H1204.5" stroke="#ff7f0e" stroke-width="2"/>
<path d="M1341.25 743 L1365.25 743 L1365.25 667.5 L1359.45 612.75 L1365.25 556.25 L1365.25 527.5 L1341.25 527.5 L1341.25 556.25 L1347.05 612.75 L1341.25 667.5 Z" fill="none" stroke="#000" stroke-width="1.7" stroke-linejoin="miter"/>
<path d="M1353.25 527.5 V507.5 M1353.25 743 V780.5 M1346.65 507.5 H1359.85 M1346.65 780.5 H1359.85" stroke="#000" stroke-width="1.7" fill="none"/>
<path d="M1347.05 612.75 H1359.45" stroke="#ff7f0e" stroke-width="2"/>
<path d="M1121.5 493.25 V794.25 H1431" fill="none" stroke="#000" stroke-width="2" stroke-linejoin="miter"/>
<path d="M1107.2 507.6H1121.5M1107.2 644.2H1121.5M1107.2 780.9H1121.5M1198.5 794.25V808.55M1353.25 794.25V808.55" stroke="#000" stroke-width="3" fill="none"/>
<text x="1094" y="519.2" font-size="32.5" text-anchor="end" font-weight="normal" fill="#000">1.0</text>
<text x="1094" y="655.8" font-size="32.5" text-anchor="end" font-weight="normal" fill="#000">0.5</text>
<text x="1094" y="792.5" font-size="32.5" text-anchor="end" font-weight="normal" fill="#000">0.0</text>
<text x="1198.5" y="844.5" font-size="31" text-anchor="middle" font-weight="normal" fill="#000">14</text>
<text x="1353.25" y="844.5" font-size="31" text-anchor="middle" font-weight="normal" fill="#000">18</text>
<text transform="translate(1027.5 644.7) rotate(-90)" font-size="35.6" text-anchor="middle">TDO</text>
<text x="979" y="469.3" font-size="47" text-anchor="start" font-weight="bold" fill="#000">f</text>
<text transform="translate(1276.5 897.5) scale(1.14 1)" font-size="31" text-anchor="middle">T<tspan dy="6" font-size="21.7">r</tspan><tspan dy="-6"> [°C]</tspan></text>
<path d="M1198.2 488.8H1356.1" stroke="#000" stroke-width="2.1"/>
<path d="M1276.8 467.6V481.6M1270.74 471.1L1282.86 478.1M1270.74 478.1L1282.86 471.1" stroke="#000" stroke-width="2.0" fill="none"/>
<defs>
<clipPath id="cpa"><circle cx="390.5" cy="1337.3" r="273"/></clipPath>
<radialGradient id="ga_0" cx="0.5" cy="0.5" r="0.5">
<stop offset="0" stop-color="#008080" stop-opacity="0.929"/>
<stop offset="0.31" stop-color="#008080" stop-opacity="0.859"/>
<stop offset="0.38" stop-color="#008080" stop-opacity="0.684"/>
<stop offset="0.44" stop-color="#008080" stop-opacity="0.520"/>
<stop offset="0.52" stop-color="#008080" stop-opacity="0.352"/>
<stop offset="0.6" stop-color="#008080" stop-opacity="0.225"/>
<stop offset="0.69" stop-color="#008080" stop-opacity="0.134"/>
<stop offset="0.78" stop-color="#008080" stop-opacity="0.067"/>
<stop offset="0.89" stop-color="#008080" stop-opacity="0.025"/>
<stop offset="1" stop-color="#008080" stop-opacity="0.000"/>
</radialGradient>
<radialGradient id="ga_1" cx="0.5" cy="0.5" r="0.5">
<stop offset="0" stop-color="#008080" stop-opacity="0.929"/>
<stop offset="0.31" stop-color="#008080" stop-opacity="0.859"/>
<stop offset="0.38" stop-color="#008080" stop-opacity="0.684"/>
<stop offset="0.44" stop-color="#008080" stop-opacity="0.520"/>
<stop offset="0.52" stop-color="#008080" stop-opacity="0.352"/>
<stop offset="0.6" stop-color="#008080" stop-opacity="0.225"/>
<stop offset="0.69" stop-color="#008080" stop-opacity="0.134"/>
<stop offset="0.78" stop-color="#008080" stop-opacity="0.067"/>
<stop offset="0.89" stop-color="#008080" stop-opacity="0.025"/>
<stop offset="1" stop-color="#008080" stop-opacity="0.000"/>
</radialGradient>
<radialGradient id="ga_2" cx="0.5" cy="0.5" r="0.5">
<stop offset="0" stop-color="#008080" stop-opacity="0.077"/>
<stop offset="0.04" stop-color="#008080" stop-opacity="0.076"/>
<stop offset="0.08" stop-color="#008080" stop-opacity="0.073"/>
<stop offset="0.12" stop-color="#008080" stop-opacity="0.068"/>
<stop offset="0.17" stop-color="#008080" stop-opacity="0.062"/>
<stop offset="0.21" stop-color="#008080" stop-opacity="0.055"/>
<stop offset="0.25" stop-color="#008080" stop-opacity="0.047"/>
<stop offset="0.29" stop-color="#008080" stop-opacity="0.040"/>
<stop offset="0.33" stop-color="#008080" stop-opacity="0.032"/>
<stop offset="0.38" stop-color="#008080" stop-opacity="0.026"/>
<stop offset="0.42" stop-color="#008080" stop-opacity="0.020"/>
<stop offset="0.46" stop-color="#008080" stop-opacity="0.015"/>
<stop offset="0.5" stop-color="#008080" stop-opacity="0.011"/>
<stop offset="0.54" stop-color="#008080" stop-opacity="0.008"/>
<stop offset="0.58" stop-color="#008080" stop-opacity="0.005"/>
<stop offset="0.62" stop-color="#008080" stop-opacity="0.004"/>
<stop offset="0.67" stop-color="#008080" stop-opacity="0.002"/>
<stop offset="0.71" stop-color="#008080" stop-opacity="0.001"/>
<stop offset="0.75" stop-color="#008080" stop-opacity="0.001"/>
<stop offset="0.79" stop-color="#008080" stop-opacity="0.001"/>
<stop offset="0.83" stop-color="#008080" stop-opacity="0.000"/>
<stop offset="0.88" stop-color="#008080" stop-opacity="0.000"/>
<stop offset="0.92" stop-color="#008080" stop-opacity="0.000"/>
<stop offset="0.96" stop-color="#008080" stop-opacity="0.000"/>
<stop offset="1" stop-color="#008080" stop-opacity="0.000"/>
</radialGradient>
</defs>
<g clip-path="url(#cpa)">
<ellipse cx="390.5" cy="1325.3" rx="91.16" ry="204.05" fill="url(#ga_0)"/>
<ellipse cx="390.5" cy="1325.3" rx="120.84" ry="159.53" fill="url(#ga_1)"/>
<ellipse cx="390.5" cy="1323.3" rx="248" ry="327.36" fill="url(#ga_2)"/>
<path d="M457.5 1433.5h0M393.9 1265.2h0M333.7 1325.7h0M337.4 1214.1h0M400.9 1333.4h0M418.9 1253.8h0M390.8 1318.4h0M312.2 1364.2h0M407.2 1504.9h0M401.1 1312.3h0M454.6 1338.4h0M437.8 1295.5h0M401.8 1401.1h0M426.7 1333.1h0M334.2 1357.1h0M394.5 1378.1h0M401.7 1406.0h0M387.8 1338.6h0M425.2 1240.7h0M369.6 1285.3h0M493.5 1316.2h0M424.4 1370.4h0M375.9 1205.4h0M440.7 1292.4h0M427.8 1224.1h0M367.7 1418.8h0M464.9 1224.3h0M321.2 1319.9h0M428.4 1335.5h0M406.3 1248.1h0M421.0 1408.2h0M367.8 1214.4h0M351.0 1381.2h0M300.3 1316.3h0M339.0 1313.3h0M377.8 1324.5h0M468.6 1355.3h0M459.9 1312.6h0M365.6 1352.1h0M243.0 1320.3h0M398.8 1229.4h0M414.6 1280.8h0M262.6 1307.1h0M339.6 1283.7h0M382.6 1418.4h0M395.9 1321.1h0M410.7 1185.6h0M455.0 1241.4h0M413.3 1237.7h0M339.7 1293.2h0M489.1 1376.3h0M359.1 1301.7h0M330.6 1320.7h0M360.7 1378.2h0M319.9 1297.9h0M346.7 1268.7h0M427.5 1332.9h0M420.9 1413.7h0M450.3 1219.0h0M418.4 1189.4h0M387.2 1469.2h0M380.4 1295.2h0M399.4 1324.7h0M391.9 1265.7h0M446.8 1390.9h0M379.5 1347.2h0M424.7 1401.7h0M410.9 1376.1h0M376.8 1242.0h0M364.7 1400.8h0M441.3 1334.4h0M361.0 1346.7h0M477.0 1426.2h0M355.0 1320.0h0M315.0 1237.0h0M400.3 1325.2h0M440.7 1419.6h0M433.9 1423.6h0M362.1 1237.5h0M416.5 1526.9h0M409.1 1235.8h0M403.1 1431.6h0M336.7 1384.4h0M358.7 1420.0h0M431.3 1346.4h0M494.5 1292.2h0M354.8 1464.3h0M344.9 1490.4h0M388.4 1244.5h0M390.4 1333.2h0M401.0 1308.7h0M446.7 1147.0h0M361.7 1303.4h0M485.1 1171.9h0M372.8 1236.4h0M355.9 1372.0h0M411.9 1432.7h0M359.3 1343.7h0M451.5 1392.0h0M373.0 1409.0h0M342.5 1460.4h0M398.5 1314.7h0M404.6 1387.8h0M481.1 1312.5h0M371.4 1367.9h0M345.2 1194.4h0M434.0 1294.5h0M449.1 1245.3h0M239.9 1344.8h0M398.6 1444.9h0M417.8 1346.8h0M421.0 1295.4h0M394.5 1220.6h0M417.5 1262.1h0M367.3 1376.5h0M438.1 1246.8h0M494.7 1278.3h0M433.9 1395.6h0M402.2 1336.4h0M484.0 1391.0h0M413.7 1184.7h0M351.7 1411.7h0M400.6 1250.7h0M357.1 1300.0h0M426.2 1352.7h0M442.4 1261.2h0M441.8 1285.2h0M375.0 1455.0h0M394.4 1312.7h0M379.6 1294.1h0M471.6 1427.9h0M427.8 1337.3h0M444.7 1317.4h0M414.0 1353.8h0M395.1 1448.6h0M481.8 1423.9h0M291.0 1462.8h0M427.0 1289.1h0M389.2 1409.8h0M451.6 1388.3h0M397.8 1326.0h0M433.8 1316.4h0M343.8 1275.9h0M383.2 1348.6h0M508.2 1219.2h0M415.3 1316.3h0M406.1 1426.2h0M455.1 1311.4h0M361.5 1219.7h0M386.8 1418.1h0M376.7 1376.8h0M427.3 1353.5h0M446.9 1314.7h0M347.4 1234.2h0M438.7 1295.8h0M374.3 1386.7h0M349.5 1457.8h0M425.1 1283.3h0M357.6 1405.5h0M328.9 1274.6h0M390.8 1338.7h0M391.3 1352.7h0M371.6 1314.1h0M456.3 1372.4h0M367.1 1453.6h0M287.0 1329.7h0M425.2 1397.2h0M396.3 1294.1h0M421.0 1308.6h0M415.2 1106.2h0M410.3 1263.2h0M439.4 1380.1h0M428.4 1292.6h0M413.1 1297.3h0M401.7 1313.0h0M345.2 1473.6h0M428.1 1167.0h0M437.0 1217.3h0M378.4 1279.1h0M362.7 1341.6h0M373.6 1213.2h0M390.2 1351.0h0M482.5 1291.8h0M328.7 1294.4h0M424.5 1256.1h0M353.0 1365.4h0M389.9 1340.2h0M357.8 1260.5h0M373.7 1311.6h0M373.1 1356.1h0M419.0 1365.0h0M415.4 1256.0h0M332.3 1384.2h0M391.2 1332.6h0M330.2 1307.2h0M357.3 1257.6h0M357.8 1209.7h0M394.9 1411.9h0M353.7 1330.5h0M333.7 1374.3h0M487.4 1229.5h0M378.7 1431.5h0M409.6 1332.0h0M284.2 1311.9h0M438.2 1432.4h0M423.8 1279.2h0M354.8 1185.0h0M334.6 1408.6h0M384.5 1221.5h0M459.1 1196.2h0M456.1 1298.8h0M408.1 1374.9h0M404.1 1419.9h0M391.3 1298.5h0M356.1 1213.5h0M354.4 1397.9h0M433.4 1429.1h0M532.3 1377.5h0M416.6 1223.4h0M377.9 1490.2h0M418.0 1312.8h0M406.6 1179.2h0M347.1 1223.8h0M279.3 1381.7h0M440.7 1309.9h0M408.5 1246.7h0M414.1 1381.3h0M470.3 1441.9h0M415.9 1313.6h0M347.5 1277.3h0M422.6 1366.3h0M391.5 1449.8h0M424.2 1324.5h0M380.6 1329.2h0M341.1 1248.8h0M408.6 1278.8h0M376.4 1416.1h0M380.5 1423.1h0M390.1 1438.6h0M414.6 1189.7h0M454.9 1307.6h0M288.4 1331.9h0M398.6 1225.2h0M358.9 1364.9h0M463.9 1410.0h0M454.1 1408.5h0M261.3 1268.1h0M400.2 1119.0h0M430.5 1391.0h0M350.2 1294.4h0M341.7 1321.9h0M388.4 1322.7h0M337.4 1352.7h0M372.8 1395.5h0M406.8 1210.5h0M315.5 1328.6h0M365.3 1359.0h0M432.4 1324.8h0M302.9 1232.5h0M420.3 1243.5h0M448.2 1316.4h0M417.5 1256.1h0M385.3 1098.2h0M379.7 1367.0h0M343.9 1259.3h0M387.7 1328.2h0M348.5 1374.7h0M304.9 1408.0h0M317.5 1260.7h0M459.8 1247.7h0M304.5 1329.1h0M342.7 1238.4h0M354.0 1266.8h0M339.8 1245.1h0M474.3 1272.2h0M441.0 1216.5h0M418.8 1228.3h0M366.7 1371.6h0M362.9 1174.0h0M361.8 1311.3h0M420.3 1247.4h0M375.0 1328.1h0M304.7 1315.2h0M347.4 1356.6h0M384.8 1310.6h0M264.9 1315.0h0M371.2 1251.6h0M364.0 1227.3h0M399.6 1373.4h0M421.6 1283.8h0M477.9 1388.2h0M341.2 1312.7h0M305.8 1314.3h0M427.6 1419.7h0M368.7 1187.4h0M381.7 1426.7h0M398.0 1420.2h0M433.5 1441.9h0M421.6 1272.8h0M413.7 1516.1h0M363.6 1182.2h0M499.9 1354.4h0M357.9 1277.2h0M310.4 1376.8h0M397.9 1275.2h0M368.5 1290.8h0M446.0 1309.4h0M462.2 1259.6h0M358.7 1286.6h0M362.5 1316.4h0M443.8 1415.3h0M334.7 1420.4h0M395.4 1444.0h0M381.8 1259.7h0M431.5 1370.7h0M366.7 1325.0h0M397.3 1346.9h0M301.3 1231.7h0M393.4 1343.1h0M363.2 1189.5h0M460.4 1299.9h0M336.1 1444.5h0M449.4 1402.2h0M433.9 1366.5h0M339.9 1325.6h0M409.0 1371.4h0M415.2 1246.7h0M359.0 1298.1h0M380.3 1256.9h0M295.7 1230.9h0M406.5 1322.5h0M420.7 1179.9h0M368.9 1391.0h0M288.5 1241.0h0M303.9 1415.4h0M392.1 1279.7h0M398.3 1316.4h0M437.6 1412.2h0M438.1 1349.4h0M430.2 1385.1h0M451.1 1183.7h0M408.5 1329.3h0M398.8 1304.4h0M386.7 1360.9h0M400.8 1333.0h0M334.7 1227.8h0M351.6 1187.8h0M363.6 1258.8h0M297.1 1175.9h0M366.1 1279.2h0M503.5 1388.9h0M349.9 1285.3h0M337.9 1263.4h0M372.3 1319.6h0M358.1 1385.8h0M424.0 1472.0h0M322.4 1374.7h0M371.0 1201.2h0M374.8 1198.4h0M389.1 1531.3h0M458.4 1461.7h0M452.6 1205.6h0M412.0 1334.1h0M413.1 1244.4h0M287.4 1483.2h0M452.5 1346.6h0M365.0 1337.2h0M326.0 1396.2h0M399.1 1311.9h0M368.1 1318.2h0M397.4 1292.7h0M440.5 1339.3h0M385.6 1257.8h0M453.8 1421.9h0M426.3 1183.2h0M372.4 1398.7h0M392.4 1420.3h0M367.7 1383.8h0M417.8 1137.4h0M369.4 1305.3h0M357.9 1255.4h0M473.2 1314.2h0M431.6 1221.5h0M282.4 1287.4h0M411.7 1268.3h0M418.1 1384.3h0M367.2 1318.8h0M352.1 1405.4h0M482.5 1361.0h0M364.2 1269.7h0M376.0 1390.9h0M351.1 1435.7h0M326.9 1322.7h0M459.0 1458.9h0M369.3 1383.5h0M522.1 1412.1h0M276.5 1344.7h0M514.1 1235.0h0M438.0 1164.6h0M473.1 1259.2h0M432.5 1392.6h0M245.8 1214.6h0M407.7 1207.6h0M389.5 1251.3h0M460.3 1284.6h0M342.9 1372.1h0M454.1 1311.4h0M405.1 1360.8h0M364.8 1233.0h0M418.2 1296.5h0M319.3 1388.3h0M413.1 1334.1h0M351.3 1306.4h0M422.2 1360.2h0M347.6 1254.7h0M408.3 1337.3h0M434.6 1235.3h0M438.4 1457.3h0M439.9 1333.3h0M437.6 1225.5h0M367.4 1479.8h0M305.5 1235.3h0M433.3 1273.4h0M361.1 1238.2h0M478.0 1277.0h0M376.1 1185.5h0M430.5 1322.6h0M416.4 1443.4h0M398.5 1232.7h0M337.8 1329.6h0M459.2 1232.2h0M377.7 1312.3h0M424.7 1255.6h0M406.7 1382.9h0M388.5 1315.8h0M422.7 1367.5h0M455.9 1241.3h0M454.5 1305.9h0M331.3 1281.3h0M326.4 1308.1h0M444.3 1152.3h0M329.0 1381.7h0M374.8 1383.5h0M321.5 1319.3h0M255.0 1259.0h0M429.0 1415.7h0M475.3 1319.0h0M344.9 1294.0h0M290.8 1426.2h0M451.8 1254.2h0M485.7 1220.5h0M419.6 1261.8h0M300.1 1353.4h0M330.2 1414.0h0M343.7 1331.3h0M365.6 1333.6h0M357.6 1385.7h0M422.2 1328.6h0M383.9 1473.1h0M354.3 1289.9h0M430.7 1322.5h0M305.5 1312.5h0M370.5 1247.7h0M400.6 1236.9h0M377.5 1237.0h0M471.7 1301.8h0M413.5 1345.0h0M427.2 1311.8h0M429.7 1332.8h0M263.3 1347.0h0M323.3 1395.5h0M401.9 1295.0h0M259.3 1160.8h0M329.3 1294.5h0M318.7 1474.1h0M414.3 1316.6h0M339.2 1297.5h0M378.1 1289.6h0M386.5 1384.5h0M298.9 1340.5h0M447.8 1219.3h0M380.6 1294.2h0M331.0 1395.5h0M373.5 1410.3h0M411.9 1302.1h0M405.4 1294.7h0M305.2 1431.4h0M409.5 1411.2h0M296.3 1402.9h0M433.4 1320.2h0M280.2 1330.9h0M355.8 1308.6h0M393.4 1254.5h0M383.7 1324.2h0M466.4 1315.6h0M512.8 1233.4h0M383.4 1417.5h0M308.8 1370.4h0M411.0 1277.5h0M378.0 1440.8h0M367.2 1344.5h0M413.0 1415.1h0M283.0 1211.4h0M320.7 1302.0h0M422.4 1386.5h0M375.6 1438.4h0M386.6 1375.8h0M351.0 1386.6h0M353.1 1411.4h0M435.4 1465.4h0M368.4 1235.0h0M433.6 1347.4h0M363.0 1221.6h0M432.1 1175.1h0M366.3 1404.6h0M377.4 1358.1h0M416.0 1368.4h0M445.6 1373.0h0M371.0 1229.7h0M375.7 1273.4h0M411.5 1416.8h0M431.2 1270.4h0M401.0 1323.7h0M366.0 1422.1h0M422.5 1350.8h0M326.9 1123.6h0M352.3 1409.9h0M379.3 1321.4h0M376.8 1359.8h0M390.0 1453.6h0M384.2 1303.3h0M464.4 1380.4h0M426.7 1363.4h0M388.5 1347.4h0M418.4 1331.4h0M292.8 1428.0h0M365.5 1280.1h0M372.7 1268.4h0M344.9 1316.9h0M436.5 1300.8h0M415.1 1220.6h0M429.8 1236.9h0M426.9 1267.0h0M359.3 1227.8h0M324.5 1306.3h0M339.8 1306.4h0M449.6 1259.2h0M374.0 1315.6h0M358.3 1320.8h0M402.6 1402.5h0M352.7 1306.9h0M382.1 1415.9h0M338.4 1336.2h0M430.5 1367.9h0M353.7 1244.7h0M294.2 1282.7h0M377.2 1209.5h0M434.3 1335.7h0M378.0 1283.0h0M415.1 1301.5h0M416.8 1286.8h0M445.5 1199.5h0M334.8 1460.1h0M444.8 1448.0h0M349.3 1378.6h0M442.5 1392.8h0M381.0 1435.1h0M412.1 1224.8h0M518.6 1332.9h0M455.8 1270.6h0M341.9 1390.4h0M433.2 1266.7h0M403.3 1222.3h0M283.6 1406.3h0M331.0 1379.7h0M445.9 1351.5h0M469.4 1350.9h0M405.7 1323.4h0M412.3 1350.1h0M341.8 1319.7h0M371.0 1539.4h0M454.3 1263.3h0M421.4 1190.1h0M393.4 1461.4h0M394.8 1420.8h0M371.4 1358.1h0M410.0 1156.4h0M348.8 1467.4h0M347.2 1414.8h0M479.9 1319.8h0M442.7 1351.1h0M359.6 1367.8h0M413.1 1248.3h0M367.4 1220.8h0M373.0 1320.2h0M339.6 1181.5h0M425.5 1419.6h0M343.2 1328.8h0M355.7 1123.0h0M500.4 1345.3h0M317.3 1419.7h0M428.1 1430.7h0M428.6 1363.6h0M465.2 1302.4h0M402.9 1240.7h0M330.9 1339.3h0M402.6 1202.8h0M409.9 1400.2h0M325.2 1297.5h0M479.7 1258.7h0M420.2 1383.0h0M399.8 1334.4h0M420.0 1345.1h0M398.3 1211.1h0M403.2 1263.4h0M468.3 1491.8h0M448.4 1159.8h0M442.4 1332.3h0M333.9 1230.9h0M445.6 1274.0h0M386.3 1328.3h0M439.5 1119.9h0M454.5 1261.7h0M369.4 1370.3h0M409.6 1147.6h0M421.8 1311.6h0M336.9 1276.7h0M307.5 1382.8h0M467.3 1275.4h0M366.0 1212.5h0M353.8 1245.8h0M391.7 1455.4h0M445.3 1397.6h0M340.0 1386.8h0M353.1 1255.9h0M428.6 1315.6h0M519.7 1337.8h0M374.6 1380.1h0M330.2 1375.0h0M471.7 1312.9h0M363.7 1408.8h0M332.3 1351.7h0M363.1 1346.1h0M349.6 1369.4h0M419.7 1456.7h0M371.5 1356.9h0M298.8 1263.5h0M404.3 1219.2h0M384.9 1255.0h0M415.4 1368.9h0M365.9 1373.2h0M361.6 1332.0h0M417.6 1365.7h0M421.4 1452.4h0M356.9 1311.5h0M295.3 1389.6h0M332.1 1278.1h0M363.9 1355.0h0M375.8 1301.7h0M394.5 1297.8h0M389.3 1248.7h0M361.9 1230.7h0M435.0 1391.9h0M425.0 1348.7h0M359.1 1365.5h0M309.9 1133.1h0M328.7 1436.9h0M403.2 1441.3h0M353.4 1400.2h0M473.3 1398.6h0M405.3 1405.3h0M366.8 1457.4h0M330.5 1265.6h0M391.7 1265.0h0M481.7 1374.4h0M352.4 1450.7h0M461.0 1294.5h0M471.8 1413.4h0M364.4 1280.8h0M406.7 1410.6h0M472.2 1437.6h0M365.3 1187.6h0M302.7 1438.1h0M445.5 1413.3h0M390.4 1329.8h0M415.8 1358.4h0M394.7 1249.5h0M319.2 1335.1h0M382.3 1431.0h0M335.0 1172.3h0M288.3 1320.6h0M477.7 1297.1h0M354.0 1352.1h0M470.6 1405.9h0M436.2 1394.1h0M375.4 1329.9h0M412.0 1461.2h0M275.8 1281.8h0M409.9 1304.8h0M383.8 1303.1h0M340.8 1361.6h0M457.9 1295.9h0M413.4 1407.7h0M356.4 1316.4h0M322.7 1443.5h0M480.0 1308.0h0M494.4 1388.4h0M295.3 1360.5h0M403.6 1361.8h0M426.0 1288.8h0M449.6 1347.2h0M489.1 1314.7h0M260.1 1468.6h0M419.4 1183.5h0M358.9 1262.8h0M439.2 1275.4h0M450.9 1284.8h0M440.5 1276.9h0M328.4 1368.3h0M378.4 1362.7h0M304.6 1244.4h0M372.4 1473.1h0M411.3 1195.5h0M226.7 1464.6h0M407.8 1227.1h0M441.9 1388.2h0M502.2 1338.1h0M364.7 1385.6h0M320.2 1289.3h0M338.5 1279.8h0M323.5 1213.2h0M332.7 1353.0h0M392.1 1317.5h0M415.0 1380.4h0M415.4 1480.9h0M405.3 1352.4h0M365.1 1405.9h0M465.0 1097.5h0M433.1 1239.8h0M408.8 1329.7h0M324.9 1220.3h0M377.1 1522.9h0M326.0 1292.4h0M375.4 1303.0h0M449.0 1479.8h0M388.1 1354.8h0M373.6 1443.1h0M387.6 1375.4h0M380.4 1409.0h0M387.1 1259.1h0M489.9 1175.3h0M399.5 1296.3h0M343.1 1482.2h0M408.1 1291.9h0M344.3 1349.0h0M390.3 1305.0h0M355.9 1439.3h0M401.8 1309.0h0M325.3 1264.2h0M428.6 1266.1h0M424.5 1314.8h0M411.1 1349.8h0M367.8 1303.2h0M386.9 1373.3h0M515.7 1389.6h0M322.3 1492.0h0M384.4 1270.5h0M397.0 1319.0h0M403.7 1321.1h0M389.1 1419.6h0M478.8 1330.8h0M473.1 1394.3h0M452.7 1343.7h0M401.3 1384.0h0M340.5 1327.7h0M331.6 1392.8h0M401.6 1368.6h0M373.0 1264.8h0M440.5 1290.5h0M379.4 1326.0h0M414.8 1327.9h0M336.4 1243.6h0M443.4 1299.4h0M378.0 1256.0h0M439.0 1358.9h0M362.4 1192.3h0M484.3 1280.6h0M329.9 1285.9h0M331.2 1322.7h0M361.7 1233.1h0M426.0 1258.3h0M293.9 1349.2h0M361.9 1240.6h0M303.8 1269.9h0M359.0 1286.5h0M364.3 1419.5h0M445.6 1347.2h0M419.9 1288.6h0M314.8 1363.8h0M462.1 1270.4h0M354.5 1270.1h0M321.7 1365.1h0M334.0 1427.9h0M477.1 1329.8h0M388.3 1258.4h0M437.5 1329.8h0M313.0 1252.3h0M414.9 1285.5h0M413.4 1342.2h0M465.2 1315.8h0M445.6 1407.4h0M459.3 1297.1h0M405.1 1516.8h0M380.4 1277.3h0M396.8 1233.7h0M346.1 1290.8h0M375.8 1399.7h0M333.4 1309.3h0M404.1 1301.1h0M429.1 1493.2h0M334.3 1257.2h0M363.9 1282.0h0M362.3 1355.4h0M481.2 1510.6h0M386.3 1167.2h0M471.7 1324.4h0M369.0 1406.8h0M384.6 1306.2h0M345.0 1393.4h0M434.4 1258.6h0M361.3 1417.5h0M353.1 1291.6h0M350.6 1305.1h0M435.2 1327.9h0M442.3 1369.0h0M285.4 1322.2h0M389.4 1196.9h0M431.2 1319.4h0M364.3 1362.8h0M440.5 1378.2h0M363.2 1320.5h0M517.9 1224.8h0M394.3 1325.8h0M468.6 1370.0h0M402.1 1300.8h0M455.0 1328.6h0M385.5 1336.1h0M426.3 1326.2h0M403.9 1383.8h0M352.9 1305.2h0M394.2 1375.3h0M419.6 1286.7h0M336.8 1294.9h0M364.5 1391.0h0M423.6 1328.2h0M334.4 1224.1h0M396.9 1369.7h0M410.1 1304.0h0M420.2 1173.5h0M450.2 1437.6h0M399.6 1341.6h0M379.7 1391.3h0M342.9 1279.5h0M411.2 1215.1h0M416.1 1358.1h0M389.9 1285.6h0M481.3 1282.6h0M398.5 1384.6h0M389.8 1403.0h0M390.6 1342.8h0M390.1 1373.3h0M356.9 1391.0h0M444.2 1244.1h0M312.7 1222.5h0M349.0 1375.7h0M393.9 1466.3h0M472.5 1206.9h0M370.3 1300.4h0M474.0 1382.9h0M438.7 1261.5h0M496.1 1239.4h0M392.0 1250.2h0M343.9 1342.5h0M343.9 1375.4h0M417.5 1327.6h0M423.6 1408.9h0M447.2 1236.8h0M424.5 1391.2h0M371.0 1293.9h0M453.3 1373.5h0M397.3 1432.2h0M438.9 1455.1h0M370.3 1398.1h0M287.4 1274.4h0M477.3 1249.7h0M382.6 1296.9h0M415.4 1410.0h0M473.8 1311.9h0M408.0 1389.9h0M450.7 1302.2h0M461.0 1214.0h0M405.0 1218.7h0M366.5 1263.3h0M482.6 1450.4h0M431.0 1335.6h0M288.9 1194.2h0M400.2 1378.8h0M417.2 1268.1h0M350.2 1364.4h0M508.6 1378.7h0M388.5 1314.9h0M413.5 1346.8h0M316.2 1440.5h0M414.2 1365.6h0M367.1 1407.5h0M443.1 1268.2h0M443.9 1269.2h0M294.6 1387.0h0M338.9 1281.3h0M341.9 1317.7h0M371.9 1335.5h0M415.0 1447.2h0M414.2 1362.0h0M416.0 1385.1h0M437.3 1345.2h0M330.1 1250.5h0M405.4 1299.3h0M369.2 1283.8h0M353.2 1406.4h0M431.2 1226.9h0M400.4 1322.0h0M366.5 1402.9h0M407.1 1328.9h0M345.9 1395.5h0M403.4 1344.8h0M354.6 1436.8h0M229.7 1217.8h0M304.1 1225.3h0M337.1 1284.8h0M373.2 1338.1h0M460.8 1366.2h0M397.0 1311.8h0M410.2 1384.6h0M352.5 1456.2h0M389.8 1388.3h0M263.3 1337.8h0M370.2 1426.8h0M443.2 1347.6h0M423.2 1299.8h0M343.5 1410.2h0M328.1 1283.4h0M329.9 1251.4h0M369.2 1386.8h0M340.1 1379.0h0M293.9 1260.1h0M345.4 1373.8h0M459.2 1147.7h0M394.3 1446.2h0M391.8 1448.2h0M450.6 1345.0h0M317.5 1273.1h0M470.8 1255.9h0M334.3 1288.9h0M456.2 1331.3h0M311.4 1275.6h0M425.6 1410.6h0M469.8 1362.2h0M414.8 1249.9h0M361.3 1219.8h0M383.1 1354.1h0M393.0 1252.0h0M420.2 1393.0h0M454.8 1159.6h0M265.0 1240.7h0M418.4 1401.5h0M428.4 1326.2h0M403.5 1304.7h0M355.4 1248.5h0M555.3 1304.5h0M419.5 1364.8h0M437.0 1319.6h0M439.0 1475.0h0M357.4 1279.5h0M338.8 1296.4h0M326.9 1348.4h0M425.2 1415.3h0M457.4 1295.0h0M400.4 1263.1h0M393.8 1330.4h0M416.5 1318.8h0M335.2 1399.2h0M383.5 1218.3h0M301.8 1375.0h0M298.1 1374.4h0M469.0 1363.8h0M432.7 1366.5h0M359.6 1340.1h0M293.9 1370.2h0M423.8 1334.6h0M446.7 1310.6h0M302.2 1430.5h0M395.7 1277.0h0M363.7 1295.6h0M401.2 1227.7h0M396.2 1296.7h0M424.3 1299.3h0M423.4 1256.9h0M408.9 1300.7h0M445.6 1351.6h0M443.2 1287.3h0M359.4 1321.2h0M337.4 1302.8h0M455.6 1242.4h0M361.3 1329.3h0M474.8 1484.0h0M362.0 1288.4h0M404.1 1274.1h0M288.4 1367.7h0M409.8 1344.7h0M418.7 1337.4h0M358.2 1370.8h0M388.8 1335.9h0M334.2 1330.0h0M387.9 1258.8h0M351.2 1291.1h0M391.1 1276.3h0M334.1 1328.8h0M328.0 1347.5h0M346.3 1308.4h0M447.9 1156.2h0M321.6 1284.2h0M383.0 1257.5h0M342.0 1276.9h0M338.7 1330.7h0M355.0 1311.3h0M392.5 1374.0h0M358.2 1291.4h0M412.1 1161.3h0M393.3 1255.6h0M435.2 1298.7h0M345.4 1401.4h0M362.1 1257.3h0M413.8 1178.3h0M381.6 1375.9h0M326.1 1394.0h0M374.9 1281.9h0M304.8 1428.7h0M459.1 1297.5h0M409.2 1180.4h0M393.8 1350.9h0M351.3 1275.1h0M379.9 1261.8h0M304.0 1379.0h0M434.9 1366.3h0M427.2 1400.3h0M373.9 1100.3h0M391.1 1280.9h0M330.5 1359.9h0M338.1 1233.4h0M512.9 1293.0h0M398.4 1366.4h0M420.7 1314.9h0M416.3 1315.7h0M366.9 1302.9h0M421.8 1374.3h0M412.5 1209.4h0M378.9 1360.9h0M370.2 1359.8h0M396.2 1412.0h0M273.2 1335.5h0M444.7 1373.4h0M364.0 1306.6h0M372.4 1355.1h0M428.3 1279.7h0M444.7 1357.5h0M283.7 1294.5h0M383.7 1272.6h0M394.9 1319.1h0M385.5 1302.2h0M404.8 1278.7h0M418.4 1190.1h0M393.9 1286.9h0M370.7 1344.3h0M357.9 1084.7h0M315.7 1307.6h0M376.1 1286.7h0M357.2 1374.2h0M390.7 1245.1h0M346.2 1394.0h0M395.7 1350.2h0M391.3 1338.9h0M362.7 1249.9h0M340.4 1257.4h0M480.6 1369.9h0M393.2 1314.8h0M307.9 1380.0h0M301.6 1399.6h0M364.7 1218.1h0M465.5 1249.6h0M376.6 1311.3h0M314.3 1356.1h0M322.3 1308.7h0M332.2 1441.6h0M392.6 1431.8h0M363.3 1340.0h0M417.7 1328.1h0M376.5 1406.8h0M409.6 1328.0h0M432.4 1119.4h0M337.3 1359.3h0M371.7 1302.7h0M314.9 1295.9h0M460.6 1285.9h0M339.2 1301.6h0M444.3 1274.6h0M306.7 1340.7h0M372.6 1334.1h0M303.1 1240.2h0M374.6 1348.3h0M479.6 1425.3h0M448.6 1394.5h0M443.6 1370.9h0M422.7 1293.9h0M365.3 1421.1h0M330.8 1279.9h0M378.8 1337.1h0M355.9 1288.8h0M349.9 1267.3h0M370.4 1573.0h0M330.3 1505.4h0M326.9 1336.4h0M386.7 1369.9h0M374.9 1242.7h0M362.1 1298.7h0M314.4 1316.3h0M395.2 1210.9h0M322.8 1382.9h0M341.9 1273.8h0M360.1 1275.8h0M417.6 1339.9h0M498.8 1295.9h0M409.2 1271.2h0M439.1 1209.5h0M347.8 1306.8h0M532.9 1488.6h0M491.9 1322.2h0M311.2 1364.4h0M445.5 1272.7h0M491.0 1470.4h0M303.9 1292.7h0M376.8 1303.9h0M382.7 1326.1h0M377.3 1516.3h0M366.4 1231.7h0M450.8 1398.1h0M332.1 1256.7h0M345.4 1161.9h0M322.9 1357.2h0M322.4 1304.5h0M376.1 1279.0h0M414.8 1336.2h0M454.3 1348.9h0M359.6 1448.6h0M406.1 1360.2h0M405.5 1298.7h0M342.6 1416.2h0M352.7 1300.3h0M435.8 1398.0h0M391.7 1472.9h0M379.2 1499.3h0M461.3 1337.5h0M378.6 1407.8h0M303.3 1377.0h0M425.7 1442.6h0M462.8 1346.3h0M415.1 1251.3h0M418.9 1265.5h0M320.4 1455.4h0M482.1 1315.2h0M406.5 1503.4h0M321.1 1437.6h0M374.6 1371.2h0M386.6 1439.6h0M453.1 1311.5h0M452.3 1395.3h0M463.4 1244.4h0M435.5 1324.1h0M403.9 1206.8h0M501.6 1319.3h0M414.2 1212.4h0M380.3 1337.1h0M397.0 1239.8h0M408.8 1293.0h0M437.2 1237.7h0M451.5 1245.8h0M332.8 1359.1h0M422.1 1356.1h0M361.5 1301.7h0M343.5 1408.0h0M299.3 1233.0h0M330.2 1362.6h0M313.6 1383.4h0M302.2 1193.2h0M407.6 1354.1h0M371.5 1424.8h0M368.0 1284.3h0M381.1 1424.6h0M381.7 1465.8h0M461.7 1405.7h0M437.6 1421.9h0M415.5 1144.8h0M400.0 1313.5h0M329.9 1181.8h0M397.8 1240.3h0M390.6 1261.2h0M407.9 1250.0h0M402.7 1320.0h0M366.7 1303.4h0M404.5 1122.6h0M290.8 1330.7h0M391.8 1341.4h0M408.1 1249.5h0M457.6 1380.5h0M408.2 1304.8h0M353.6 1278.3h0M410.1 1331.1h0M433.2 1341.6h0M367.5 1411.5h0M316.9 1221.4h0M410.2 1286.7h0M316.5 1211.5h0M390.5 1426.6h0M464.1 1315.4h0M377.0 1260.7h0M488.5 1316.6h0M371.0 1381.1h0M450.0 1325.9h0M454.3 1228.2h0M413.7 1368.5h0M411.8 1373.3h0M399.7 1366.9h0M281.6 1268.1h0M434.8 1239.5h0M344.6 1475.3h0M394.0 1344.0h0M410.0 1454.5h0M376.8 1260.8h0M404.5 1429.6h0M298.3 1313.5h0M370.0 1333.9h0M424.5 1346.9h0M309.0 1305.5h0M383.7 1319.6h0M445.6 1298.8h0M357.6 1310.8h0M392.0 1376.0h0M301.2 1220.2h0M386.2 1393.5h0M387.6 1341.3h0M480.9 1332.0h0M405.7 1320.2h0M441.0 1362.0h0M377.4 1377.2h0M413.8 1287.0h0M429.0 1478.7h0M333.9 1242.4h0M384.7 1308.2h0M402.9 1320.8h0M398.9 1408.7h0M457.0 1165.0h0M418.8 1325.6h0M418.6 1327.4h0M409.2 1306.8h0M357.3 1311.1h0M432.6 1326.4h0M386.8 1418.2h0M435.3 1256.7h0M349.4 1310.5h0M415.8 1401.8h0M302.4 1424.5h0M393.6 1340.0h0M433.5 1344.5h0M400.7 1398.3h0M451.8 1239.5h0M308.7 1243.8h0M404.3 1304.1h0M380.2 1285.9h0M346.7 1363.5h0M388.4 1346.0h0M418.4 1435.1h0M500.4 1279.2h0M457.3 1337.4h0M413.5 1409.2h0M360.2 1313.8h0M441.2 1368.9h0M484.8 1370.6h0M397.4 1314.8h0M421.7 1185.5h0M457.5 1348.3h0M358.6 1330.7h0M418.7 1234.1h0M436.9 1159.0h0M465.8 1302.2h0M403.6 1303.6h0M359.5 1396.7h0M340.9 1317.7h0M418.6 1231.6h0M422.6 1255.8h0M436.0 1297.8h0M457.7 1319.1h0M338.6 1397.1h0M452.7 1395.0h0M314.4 1242.6h0M438.7 1359.6h0M374.7 1309.4h0M399.3 1160.6h0M328.3 1231.6h0M444.3 1294.7h0M282.0 1311.4h0M371.9 1268.5h0M315.3 1254.2h0M405.8 1290.0h0M430.0 1423.8h0M372.7 1203.2h0M339.5 1328.3h0M429.1 1309.0h0M387.8 1339.9h0M453.3 1377.2h0M371.4 1277.7h0M388.5 1276.9h0M339.2 1401.2h0M400.3 1241.1h0M411.6 1243.1h0M339.8 1199.9h0M328.8 1285.8h0M403.0 1315.1h0M404.6 1325.7h0M366.4 1410.9h0M332.5 1245.7h0M495.7 1339.8h0M401.1 1521.6h0M333.6 1444.2h0M387.9 1307.4h0M338.6 1317.5h0M428.2 1321.0h0M365.1 1352.1h0M455.1 1326.1h0M367.9 1292.3h0M409.8 1277.4h0M462.3 1279.7h0M445.4 1308.6h0M427.9 1235.3h0M378.8 1247.0h0M349.2 1319.0h0M328.9 1471.3h0M477.1 1391.1h0M390.5 1278.1h0M301.0 1384.3h0M328.7 1318.3h0M358.6 1322.2h0M476.7 1315.9h0M379.9 1391.8h0M362.9 1175.2h0M350.0 1303.5h0M349.3 1397.2h0M451.8 1245.6h0M392.1 1338.4h0M368.2 1273.7h0M412.5 1291.8h0M483.9 1320.1h0M390.4 1336.8h0M401.3 1290.1h0M420.1 1384.4h0M401.4 1353.3h0M318.3 1289.6h0M394.5 1297.7h0M446.3 1350.5h0M388.6 1271.5h0M369.7 1302.5h0M475.5 1231.4h0M438.1 1293.9h0M473.8 1392.8h0M345.5 1348.7h0M317.1 1375.9h0M382.9 1242.8h0M387.4 1366.5h0M516.3 1386.7h0M409.5 1317.5h0M273.8 1210.5h0M267.8 1230.6h0M441.2 1419.2h0M404.4 1291.8h0M426.1 1499.8h0M398.1 1427.9h0M460.2 1260.2h0M396.8 1259.9h0M407.1 1289.7h0M341.8 1375.1h0M386.6 1304.1h0M434.9 1356.4h0M454.2 1461.5h0M325.4 1358.4h0M298.4 1390.7h0M490.2 1249.7h0M452.9 1374.3h0M410.1 1155.9h0M335.5 1293.7h0M393.5 1332.0h0M432.0 1332.6h0M380.7 1247.5h0M350.5 1307.6h0M505.8 1294.8h0M386.0 1397.9h0M431.6 1370.2h0M395.0 1445.5h0M360.1 1430.1h0M470.8 1343.1h0M362.5 1275.5h0M404.2 1172.8h0M457.0 1258.0h0M326.5 1360.9h0M393.9 1257.3h0M458.4 1233.9h0M360.4 1202.9h0M480.8 1367.3h0M315.7 1361.4h0M358.6 1258.6h0M381.3 1173.8h0M400.3 1322.8h0M467.8 1256.4h0M317.8 1250.5h0M359.9 1386.4h0M506.0 1367.3h0M412.6 1237.6h0M316.8 1231.2h0M424.5 1408.7h0M378.9 1224.2h0M430.1 1314.8h0M351.7 1204.0h0M295.0 1437.6h0M365.6 1345.8h0M415.4 1390.0h0M505.6 1309.5h0M452.4 1257.2h0M315.9 1321.0h0M288.4 1207.2h0M349.9 1370.5h0M378.3 1187.3h0M388.4 1278.6h0M363.0 1278.5h0M384.5 1381.0h0M416.7 1325.4h0M346.8 1203.8h0M489.1 1437.8h0M301.8 1351.6h0M411.0 1331.3h0M399.7 1291.8h0M464.5 1349.2h0M442.3 1344.7h0M400.7 1289.0h0M453.2 1183.9h0M461.4 1306.9h0M403.8 1283.0h0M295.7 1253.6h0M411.7 1288.4h0M415.4 1255.9h0M297.9 1312.7h0M367.8 1264.5h0M464.7 1185.2h0M396.5 1300.6h0M458.3 1332.8h0M408.5 1342.3h0M401.7 1306.1h0M381.9 1386.9h0M505.3 1247.6h0M402.9 1241.1h0M489.7 1454.8h0M402.9 1430.6h0M401.6 1234.0h0M483.0 1204.9h0M336.0 1412.4h0M436.3 1368.4h0M370.9 1269.5h0M329.1 1415.0h0M419.0 1490.0h0M413.9 1365.1h0M362.2 1287.1h0M416.8 1262.8h0M444.4 1404.3h0M325.2 1370.1h0M403.6 1339.5h0M372.9 1411.1h0M401.7 1372.6h0M410.4 1274.8h0M330.2 1449.5h0M479.9 1321.6h0M446.7 1423.2h0M469.1 1396.6h0M384.5 1376.1h0M364.7 1342.1h0M342.2 1200.7h0M343.9 1205.8h0M412.4 1374.7h0M414.6 1265.7h0M389.2 1225.0h0M412.2 1366.7h0M489.8 1247.4h0M382.8 1315.6h0M512.4 1342.1h0M414.7 1211.2h0M383.7 1489.3h0M461.7 1374.7h0M371.6 1255.6h0M403.4 1277.8h0M508.0 1281.8h0M365.8 1380.9h0M403.8 1256.4h0M322.8 1261.8h0M472.5 1280.4h0M382.6 1393.3h0M474.2 1385.7h0M411.2 1278.6h0M343.3 1335.6h0M387.9 1341.4h0M284.9 1218.8h0M432.0 1435.3h0M399.8 1230.2h0M422.0 1258.2h0M376.4 1303.6h0M430.2 1406.1h0M422.8 1251.2h0M446.0 1287.4h0M313.6 1394.5h0M488.7 1245.1h0M371.0 1278.7h0M366.5 1413.8h0M433.2 1337.7h0M399.8 1267.1h0M364.1 1271.4h0M421.8 1374.2h0M372.4 1378.6h0M347.2 1481.3h0M336.1 1283.0h0M386.7 1385.9h0M404.8 1258.0h0M421.0 1383.9h0M333.2 1163.2h0M420.8 1246.3h0M443.6 1461.4h0M457.1 1348.0h0M435.2 1311.5h0M346.6 1314.0h0M369.0 1341.8h0M330.7 1243.7h0M395.7 1331.3h0M393.1 1394.3h0M315.3 1371.3h0M377.2 1320.8h0M446.4 1333.1h0M436.8 1443.7h0M388.1 1186.1h0M364.0 1288.4h0M401.7 1262.7h0M398.0 1341.7h0M290.5 1443.6h0M359.8 1221.1h0M349.9 1379.0h0M552.6 1172.1h0M355.8 1410.8h0M355.6 1327.5h0M368.1 1321.0h0M405.6 1249.1h0M339.3 1214.2h0M402.0 1507.1h0M450.2 1316.1h0M457.3 1370.9h0M374.7 1275.3h0M397.9 1262.4h0M389.1 1355.3h0M326.4 1236.5h0M375.3 1262.3h0M385.4 1347.5h0M408.5 1375.3h0M394.4 1344.9h0M384.6 1329.7h0M386.7 1323.2h0M373.2 1346.5h0M432.7 1423.2h0M471.8 1381.6h0M359.0 1224.8h0M308.8 1299.9h0M400.3 1399.5h0M395.3 1324.1h0M328.3 1376.5h0M487.5 1292.0h0M500.2 1379.2h0M347.8 1371.2h0M402.8 1351.3h0M328.2 1351.6h0M436.5 1233.3h0M415.5 1418.8h0M407.4 1271.6h0M379.9 1379.9h0M419.4 1315.8h0M357.3 1270.1h0M380.9 1234.9h0M410.5 1471.1h0M379.8 1319.6h0M396.7 1368.6h0M376.9 1364.0h0M346.9 1241.0h0M359.9 1361.3h0M357.2 1267.9h0M402.2 1172.5h0M367.1 1146.8h0M358.3 1464.0h0M305.3 1407.1h0M358.9 1281.3h0M371.1 1470.5h0M360.7 1327.9h0M365.3 1303.1h0M427.9 1345.4h0M396.1 1272.0h0M400.3 1306.8h0M388.0 1329.3h0M363.2 1226.1h0M411.0 1186.8h0M436.2 1279.6h0M342.9 1400.7h0M356.5 1327.7h0M343.2 1354.5h0M406.9 1303.2h0M378.7 1205.6h0M448.3 1272.6h0M383.1 1285.9h0M402.4 1305.6h0M370.7 1300.0h0M400.8 1438.2h0M331.6 1400.5h0M394.9 1356.8h0M355.2 1397.3h0M428.8 1181.4h0M300.7 1449.0h0M359.9 1304.5h0M312.0 1320.7h0M392.6 1285.1h0M455.9 1306.6h0M433.1 1325.2h0M399.1 1301.2h0M360.8 1429.3h0M448.1 1410.1h0M355.7 1291.3h0M398.0 1295.8h0M421.3 1444.4h0M361.4 1291.5h0M311.7 1415.5h0M399.3 1347.9h0M355.4 1323.8h0M374.5 1271.4h0M417.2 1420.6h0M454.0 1299.2h0M547.6 1273.8h0M391.2 1224.0h0M375.9 1345.5h0M358.3 1314.9h0M339.9 1290.2h0M326.7 1288.5h0M279.7 1259.2h0M366.0 1310.7h0M454.5 1240.3h0M352.5 1384.1h0M342.6 1294.4h0M301.4 1087.7h0M500.4 1378.1h0M494.0 1313.8h0M315.8 1348.9h0M341.3 1338.6h0M409.9 1365.6h0M348.6 1332.1h0M409.1 1423.9h0M370.5 1463.9h0M422.2 1352.0h0M358.4 1347.4h0M422.0 1247.7h0M423.0 1342.7h0M376.3 1261.3h0M379.6 1373.1h0M477.9 1333.3h0M372.7 1373.9h0M439.2 1378.7h0M381.6 1139.5h0M399.3 1317.5h0M330.6 1325.5h0M338.3 1298.9h0M453.2 1278.5h0M267.8 1399.7h0M383.9 1322.2h0M296.5 1182.3h0M370.7 1281.7h0M397.9 1305.9h0M406.5 1289.8h0M408.2 1283.3h0M414.5 1369.3h0M310.7 1320.4h0M370.6 1321.0h0M484.4 1275.9h0M380.9 1338.9h0M278.0 1428.6h0M420.8 1310.1h0M437.1 1520.4h0M348.1 1422.9h0M478.2 1262.0h0M414.5 1224.7h0M404.0 1271.3h0M420.2 1293.5h0M454.2 1414.4h0M478.1 1316.4h0M374.4 1300.4h0M358.4 1314.9h0M338.8 1303.5h0M432.0 1396.8h0M411.7 1207.0h0M468.2 1460.9h0M435.1 1293.6h0M424.0 1316.4h0M309.7 1408.8h0M435.2 1362.4h0M426.3 1326.5h0M329.6 1436.5h0M374.1 1299.3h0M415.8 1200.5h0M379.3 1367.2h0M378.9 1145.1h0M399.4 1390.0h0M323.3 1495.8h0M400.1 1327.9h0M414.5 1400.4h0M404.4 1318.9h0M409.2 1234.6h0M493.9 1198.6h0M382.6 1266.8h0M397.3 1317.0h0M444.0 1317.4h0M377.0 1479.5h0M339.2 1324.0h0M372.1 1397.8h0M391.2 1415.1h0M353.0 1346.6h0M420.3 1324.9h0M406.4 1206.2h0M416.7 1303.4h0M487.8 1252.6h0M314.5 1476.1h0M490.5 1308.4h0M291.9 1269.5h0M406.2 1356.8h0M442.0 1413.0h0M423.6 1310.9h0M461.1 1443.2h0M410.1 1295.8h0M431.6 1336.1h0M389.6 1332.5h0M450.8 1437.5h0M443.4 1356.0h0M373.3 1205.7h0M380.3 1361.2h0M346.6 1355.5h0M349.5 1343.6h0M251.4 1355.2h0M428.0 1326.1h0M426.2 1250.7h0M395.0 1293.1h0M394.2 1323.0h0M399.3 1267.7h0M368.1 1189.9h0M377.9 1135.1h0M408.0 1469.7h0M366.0 1290.7h0M395.0 1355.8h0M428.6 1284.2h0M375.3 1355.1h0M412.2 1231.8h0M416.5 1453.2h0M300.7 1292.7h0M375.4 1245.6h0M322.4 1449.4h0M400.6 1355.2h0M440.6 1233.4h0M454.3 1276.4h0M445.8 1322.9h0M461.5 1367.0h0M389.9 1399.1h0M359.2 1373.0h0M320.6 1312.6h0M489.8 1392.4h0M341.6 1424.9h0M375.5 1354.8h0M372.7 1371.0h0M364.7 1429.7h0M375.8 1278.7h0M370.6 1222.3h0M426.4 1408.6h0M462.1 1362.4h0M383.7 1424.2h0M465.7 1277.9h0M327.4 1288.0h0M391.3 1408.7h0M447.6 1353.1h0M450.8 1305.5h0M386.4 1159.3h0M365.4 1307.2h0M452.4 1317.7h0M373.7 1335.3h0M373.6 1178.1h0M357.9 1313.6h0M381.4 1275.9h0M368.5 1369.3h0M316.3 1304.8h0M361.3 1306.9h0M394.0 1376.6h0M256.9 1310.5h0M332.9 1198.4h0M400.3 1332.4h0M354.4 1308.1h0M348.7 1430.2h0M479.3 1410.0h0M331.0 1376.5h0M408.5 1330.5h0M383.8 1304.6h0M361.2 1273.6h0M350.2 1503.6h0M419.5 1274.0h0M357.9 1365.3h0M484.4 1452.1h0M342.5 1225.6h0M358.9 1347.2h0M363.9 1281.5h0M497.7 1228.6h0M425.9 1312.7h0M360.9 1468.4h0M325.6 1344.4h0M382.5 1272.4h0M369.4 1330.6h0M524.6 1361.8h0M377.8 1218.9h0M402.7 1384.3h0M535.8 1205.9h0M316.8 1188.8h0M311.4 1413.3h0M385.4 1270.1h0M398.2 1317.3h0M383.5 1411.4h0M435.3 1296.4h0M454.8 1400.5h0M377.8 1289.6h0M371.3 1253.4h0M281.8 1409.2h0M461.2 1141.6h0M375.3 1251.5h0M370.4 1353.3h0M447.2 1361.0h0M427.4 1408.0h0M405.0 1410.6h0M437.2 1272.5h0M429.7 1294.0h0M444.5 1412.5h0M319.8 1369.0h0M341.5 1284.7h0M366.7 1363.6h0M425.5 1320.5h0M284.0 1362.1h0M450.4 1125.4h0M360.1 1279.8h0M403.5 1302.6h0M443.5 1294.0h0M344.8 1176.7h0M294.8 1306.6h0M423.3 1246.4h0M423.8 1292.9h0M435.5 1422.8h0M414.6 1253.4h0M444.6 1338.5h0M393.6 1352.3h0M426.4 1412.2h0M323.0 1416.5h0M403.8 1424.9h0M385.6 1385.0h0M440.9 1424.4h0M375.2 1434.3h0M365.6 1233.8h0M349.2 1225.4h0M463.8 1398.4h0M295.7 1307.2h0M404.2 1340.1h0M363.5 1271.5h0M434.8 1317.2h0M345.0 1344.4h0M357.0 1304.3h0M430.8 1308.3h0M522.2 1216.7h0M340.1 1442.4h0M401.6 1310.9h0M440.8 1309.7h0M340.8 1439.5h0M396.6 1338.8h0M400.1 1320.5h0M346.8 1248.2h0M305.2 1391.5h0M395.2 1307.9h0M314.7 1221.7h0M369.9 1348.5h0M382.0 1317.1h0M345.0 1383.0h0M405.6 1421.7h0M418.1 1247.4h0M358.0 1310.4h0M449.2 1327.8h0M390.2 1430.7h0M436.6 1372.6h0M300.0 1309.7h0M493.8 1374.5h0M456.6 1463.3h0M431.9 1175.4h0M409.8 1309.0h0M345.5 1401.0h0M353.2 1420.7h0M414.6 1286.0h0M347.1 1463.5h0M380.1 1350.7h0M389.7 1260.0h0M373.9 1309.3h0M303.0 1267.9h0M344.0 1348.0h0M398.3 1231.3h0M358.7 1330.7h0M348.3 1194.5h0M435.2 1323.4h0M373.3 1288.0h0M408.1 1291.6h0M392.7 1407.3h0M463.6 1449.2h0M338.9 1320.2h0M324.3 1242.5h0M318.4 1293.2h0M367.3 1249.4h0M385.4 1361.9h0M364.1 1260.1h0M430.4 1305.7h0M401.9 1243.2h0M419.5 1385.9h0M336.4 1241.6h0M369.1 1367.8h0M429.3 1408.0h0M342.8 1175.5h0M344.0 1327.7h0M412.8 1220.4h0M387.6 1295.9h0M413.6 1255.2h0M380.8 1297.3h0M403.3 1323.3h0M410.3 1338.1h0M432.7 1250.0h0M567.3 1428.4h0M319.1 1371.8h0M365.0 1262.6h0M452.7 1146.8h0M349.5 1361.5h0M303.7 1390.2h0M366.4 1322.8h0M466.8 1330.5h0M443.5 1427.3h0M361.5 1292.6h0M460.9 1370.3h0M468.7 1503.9h0M344.4 1317.5h0M414.6 1224.0h0M340.7 1210.7h0M375.6 1330.0h0M476.8 1520.4h0M382.4 1311.6h0M405.3 1352.2h0M387.4 1434.0h0M451.3 1279.6h0M273.0 1324.3h0M466.2 1442.5h0M366.7 1279.7h0M394.1 1276.5h0M342.1 1277.2h0M486.0 1435.0h0M407.1 1391.6h0M363.6 1277.6h0M426.9 1359.3h0M323.1 1419.7h0M277.6 1275.3h0M452.9 1432.6h0M538.5 1304.0h0M383.2 1356.6h0M395.4 1241.8h0M375.5 1296.7h0M441.3 1306.2h0M396.8 1321.3h0M374.6 1405.6h0M366.3 1361.5h0M455.5 1311.5h0M448.5 1287.7h0M407.3 1217.2h0M442.7 1412.9h0M389.3 1202.6h0M374.1 1324.6h0M456.5 1148.2h0M404.5 1332.4h0M313.2 1374.8h0M299.3 1367.2h0M441.5 1253.4h0M334.8 1250.4h0M366.3 1360.4h0M424.6 1291.8h0M419.6 1241.9h0M384.4 1189.8h0M464.2 1226.1h0M344.3 1450.6h0M441.2 1243.5h0M438.5 1532.3h0M406.0 1252.0h0M359.3 1455.2h0M363.4 1261.2h0M522.0 1195.9h0M347.9 1194.1h0M354.1 1286.3h0M414.7 1210.8h0M425.8 1275.5h0M464.7 1279.3h0M390.8 1177.2h0M295.0 1363.7h0M497.6 1195.4h0M375.4 1307.4h0M392.4 1373.6h0M422.7 1380.6h0M256.5 1203.0h0M504.0 1417.6h0M301.1 1283.6h0M413.3 1260.6h0M365.4 1203.3h0M334.2 1475.2h0M396.2 1315.7h0M421.9 1263.8h0M407.9 1316.3h0M424.8 1247.4h0M380.5 1410.5h0M418.3 1253.9h0M286.7 1366.6h0M410.3 1278.2h0M338.0 1317.7h0M403.0 1370.9h0M414.5 1353.0h0M355.5 1350.7h0M386.9 1290.2h0M399.1 1517.0h0M360.6 1302.5h0M394.7 1310.6h0M380.8 1362.3h0M340.9 1368.3h0M443.1 1278.6h0M496.1 1210.0h0M414.2 1333.3h0M406.6 1264.4h0M316.7 1348.6h0M296.8 1390.6h0M430.5 1333.2h0M427.8 1345.6h0M403.0 1321.7h0M355.4 1308.8h0M388.8 1277.9h0M388.0 1231.3h0M411.1 1316.1h0M277.5 1298.7h0M336.2 1312.8h0M477.1 1257.3h0M401.0 1247.2h0M370.6 1377.9h0M411.1 1318.3h0M439.1 1404.0h0M498.0 1182.1h0M310.5 1228.0h0M349.5 1392.4h0M394.3 1276.5h0M374.4 1246.9h0M437.3 1343.4h0M385.2 1187.3h0M357.2 1211.6h0M359.8 1371.0h0M345.6 1371.9h0M340.6 1463.7h0M381.4 1281.8h0M430.3 1387.5h0M338.3 1234.6h0M329.3 1367.4h0M356.2 1284.3h0M406.8 1257.6h0M410.2 1354.6h0M355.3 1254.1h0M450.3 1194.6h0M400.3 1454.8h0M363.0 1234.2h0M422.2 1322.0h0M343.7 1360.9h0M381.6 1427.8h0M427.1 1254.9h0M426.0 1352.2h0M379.5 1240.6h0M428.6 1339.7h0M345.5 1310.7h0M404.4 1394.9h0M473.8 1425.1h0M365.1 1400.4h0M334.2 1312.4h0M417.0 1302.5h0M360.2 1325.0h0M465.8 1367.6h0M347.3 1430.9h0M376.3 1324.9h0M401.1 1331.9h0M343.4 1287.9h0M379.1 1385.3h0M295.8 1386.5h0M465.8 1234.1h0M389.8 1284.8h0M323.6 1425.1h0M414.7 1440.2h0M464.6 1411.4h0M388.4 1381.9h0M415.0 1315.2h0M425.6 1285.9h0M385.1 1365.0h0M438.0 1349.6h0M348.2 1345.8h0M499.9 1330.3h0M430.7 1233.8h0M409.9 1356.0h0M358.7 1327.6h0M383.3 1375.7h0M399.9 1211.2h0M423.9 1501.6h0M317.2 1241.4h0M362.9 1248.7h0M336.6 1338.5h0M503.5 1398.8h0M380.7 1344.6h0M431.1 1368.7h0M377.1 1236.0h0M335.5 1467.7h0M427.9 1348.4h0M434.1 1266.3h0M369.7 1330.0h0M321.7 1253.1h0M404.0 1291.6h0M304.3 1262.7h0M408.4 1302.2h0M460.0 1453.6h0M350.2 1377.1h0M386.6 1270.3h0M430.8 1400.8h0M300.5 1203.7h0M450.7 1388.4h0M439.3 1394.1h0M357.0 1261.4h0M348.1 1371.6h0M435.1 1190.5h0M308.7 1361.2h0M338.9 1355.4h0M339.4 1250.9h0M333.3 1346.3h0M420.7 1271.2h0M370.5 1293.3h0M405.9 1320.1h0M396.5 1278.3h0M387.8 1317.2h0M383.5 1342.8h0M326.8 1373.1h0M455.8 1333.7h0M304.4 1412.6h0M380.8 1334.3h0M397.1 1478.0h0M339.0 1329.9h0M373.7 1381.0h0M433.6 1398.7h0M408.8 1355.6h0M413.8 1367.6h0M417.7 1292.1h0M515.3 1358.9h0M253.1 1336.3h0M404.2 1240.1h0M389.0 1324.3h0M356.9 1350.3h0M316.0 1426.8h0M299.4 1199.9h0M402.4 1175.4h0M438.9 1380.9h0M430.1 1205.1h0M413.7 1250.4h0M433.9 1390.2h0M310.2 1270.1h0M315.9 1443.3h0M452.2 1235.0h0M385.2 1093.5h0M431.1 1361.5h0M339.7 1351.7h0M365.5 1250.2h0M381.6 1336.0h0M448.0 1349.4h0M373.9 1372.8h0M411.2 1327.0h0M415.8 1401.3h0M397.3 1407.0h0M389.4 1293.2h0M330.0 1231.1h0M528.0 1186.0h0M396.5 1344.2h0M351.8 1246.7h0M448.5 1266.2h0M393.9 1313.1h0M356.5 1332.7h0M398.9 1350.0h0M439.3 1297.9h0M416.6 1197.9h0M406.2 1263.0h0M396.9 1240.1h0M462.5 1277.4h0M493.6 1210.6h0M360.0 1379.1h0M488.8 1325.9h0M367.5 1292.6h0M301.1 1196.8h0M533.0 1218.3h0M370.0 1372.6h0M419.4 1324.1h0M387.2 1429.9h0M510.1 1330.2h0M329.2 1202.9h0M376.9 1413.7h0M412.0 1304.4h0M416.6 1343.7h0M400.0 1368.9h0M420.3 1332.0h0M348.0 1347.9h0M332.5 1352.8h0M372.4 1226.9h0M513.6 1290.0h0M441.3 1268.5h0M392.9 1406.6h0M328.1 1328.1h0M462.5 1281.4h0M417.9 1306.3h0M364.5 1277.4h0M395.3 1324.1h0M367.7 1358.5h0M383.4 1343.1h0M429.1 1333.9h0M381.2 1237.2h0M370.2 1156.9h0M321.3 1323.7h0M405.6 1390.5h0M389.6 1189.8h0M411.5 1362.6h0M335.4 1343.1h0M312.0 1223.0h0M391.0 1357.3h0M428.8 1357.9h0M372.4 1351.6h0M414.7 1260.7h0M390.7 1385.4h0M445.0 1251.8h0M400.3 1286.8h0M416.8 1390.7h0M363.0 1332.6h0M397.4 1352.5h0M417.5 1342.7h0M392.2 1387.6h0M237.1 1156.6h0M337.3 1284.7h0M371.7 1347.2h0M359.8 1252.7h0M362.4 1259.2h0M401.5 1389.9h0M414.6 1372.0h0M423.3 1308.5h0M293.7 1223.2h0M353.0 1361.8h0M412.2 1348.6h0M443.3 1285.9h0M383.5 1343.4h0M383.5 1283.8h0M303.3 1324.1h0M423.8 1181.0h0M389.1 1367.5h0M423.9 1368.4h0M371.8 1365.5h0M429.4 1377.8h0M366.1 1342.8h0M400.1 1293.7h0M351.2 1371.6h0M333.8 1388.5h0M320.3 1312.8h0M387.9 1289.9h0M452.3 1303.4h0M391.4 1272.6h0M302.4 1345.4h0M363.1 1411.7h0M434.9 1256.4h0M310.8 1305.6h0M426.1 1295.4h0M474.8 1303.3h0M365.6 1352.2h0M387.3 1400.8h0M376.2 1248.9h0M410.8 1333.7h0M410.1 1311.8h0M484.8 1226.8h0M331.9 1251.7h0M450.4 1208.3h0M370.4 1199.5h0M424.7 1296.8h0M317.2 1391.4h0M369.2 1253.0h0M406.5 1322.9h0M401.7 1363.0h0M325.3 1475.4h0M479.6 1316.3h0M285.4 1407.0h0M358.5 1405.2h0M380.7 1254.3h0M359.8 1160.1h0M337.5 1429.2h0M492.8 1395.1h0M342.6 1337.6h0M412.6 1314.6h0M261.7 1305.0h0M361.3 1364.6h0M316.3 1352.7h0M379.8 1505.0h0M469.1 1255.9h0M336.7 1309.5h0M394.6 1393.7h0M344.9 1337.9h0M382.6 1321.9h0M421.0 1203.1h0M395.9 1289.5h0M385.2 1376.9h0M268.1 1246.0h0M328.7 1435.7h0M465.7 1350.8h0M353.3 1369.0h0M337.7 1198.6h0M439.2 1291.7h0M333.0 1318.5h0M453.2 1355.2h0M385.1 1152.8h0M406.0 1417.6h0M400.3 1274.6h0M380.7 1401.0h0M347.7 1189.8h0M371.9 1423.2h0M514.8 1278.6h0M415.0 1253.5h0M372.2 1240.4h0M341.7 1316.7h0M477.0 1317.3h0M377.9 1318.1h0M344.7 1458.4h0M481.4 1408.5h0M370.0 1334.9h0M299.7 1347.8h0M448.2 1350.7h0M369.8 1247.8h0M370.9 1423.2h0M365.3 1312.8h0M470.2 1230.1h0M276.4 1287.1h0M380.5 1310.0h0M462.5 1283.0h0M396.8 1336.3h0M391.1 1248.9h0M442.6 1407.0h0M299.1 1275.1h0M344.9 1273.5h0M314.8 1531.1h0M408.5 1315.0h0M478.3 1316.4h0M389.3 1456.2h0M347.4 1236.9h0M421.0 1276.8h0M417.9 1233.5h0M290.3 1464.5h0M452.0 1369.6h0M400.8 1300.5h0M431.0 1251.6h0M348.1 1301.8h0M393.7 1281.2h0M340.9 1330.1h0M356.7 1308.1h0M382.0 1320.0h0M341.6 1251.4h0M418.5 1375.4h0M298.4 1375.1h0M460.0 1318.0h0M401.2 1251.9h0M494.1 1218.6h0M462.6 1318.8h0M421.8 1349.9h0M402.6 1426.0h0M358.6 1389.6h0M392.7 1289.3h0M427.8 1333.4h0M367.1 1278.6h0M447.9 1282.6h0M331.3 1295.8h0M459.1 1364.1h0M320.5 1261.5h0M335.7 1461.0h0M311.5 1383.3h0M459.1 1324.2h0M420.0 1303.0h0M400.1 1323.5h0M326.1 1428.9h0M405.6 1432.6h0M402.7 1269.4h0M444.3 1259.8h0M346.7 1361.0h0M437.4 1450.1h0M405.1 1276.0h0M418.0 1338.4h0M352.0 1368.0h0M472.0 1273.3h0M444.3 1463.3h0M518.2 1276.5h0M315.7 1323.4h0M418.1 1296.7h0M433.4 1322.3h0M367.8 1369.2h0M366.8 1205.0h0M395.3 1376.1h0M484.7 1318.7h0M379.3 1461.4h0M374.5 1246.1h0M469.7 1278.2h0M369.1 1487.7h0M332.7 1425.8h0M337.1 1328.1h0M409.1 1410.4h0M346.0 1311.0h0M397.6 1417.4h0M332.7 1367.4h0M399.1 1148.4h0M320.2 1315.2h0M419.5 1351.9h0M340.0 1383.8h0M405.9 1413.3h0M388.2 1202.8h0M433.3 1241.0h0M391.6 1214.7h0M448.9 1389.6h0M371.5 1266.3h0M404.6 1253.5h0M456.1 1200.6h0M308.8 1387.3h0M391.3 1372.7h0M404.0 1297.9h0M355.2 1209.6h0M350.6 1326.1h0M441.4 1339.2h0M343.2 1372.5h0M402.6 1383.1h0M393.7 1365.3h0M335.6 1455.6h0M435.7 1255.4h0M358.8 1229.7h0M340.9 1282.3h0M367.3 1258.0h0M376.1 1373.6h0M322.8 1400.7h0M478.1 1354.6h0M414.4 1213.8h0M375.3 1288.6h0M373.2 1357.3h0M333.9 1323.0h0M270.3 1452.5h0M300.2 1399.5h0M375.7 1370.3h0M350.8 1373.6h0M367.9 1321.2h0M302.3 1172.4h0M462.8 1413.6h0M372.0 1348.6h0M408.7 1125.1h0M376.3 1188.4h0M444.3 1206.6h0M332.1 1341.4h0M466.3 1385.9h0M497.8 1218.5h0M445.1 1296.1h0M392.2 1248.6h0M410.2 1283.5h0M422.4 1342.2h0M384.3 1370.1h0M304.8 1325.3h0M276.8 1294.1h0M394.7 1332.3h0M362.2 1432.7h0M395.1 1338.6h0M363.3 1480.5h0M383.5 1368.7h0M372.0 1409.7h0M411.9 1215.0h0M428.2 1261.4h0M398.7 1371.8h0M457.7 1356.7h0M367.6 1386.3h0M378.9 1338.6h0M366.4 1350.5h0M453.2 1456.4h0M424.2 1429.3h0M344.1 1340.2h0M452.0 1306.5h0M422.6 1298.1h0M353.3 1308.0h0M396.4 1297.2h0M398.5 1506.7h0M333.8 1304.8h0M318.3 1503.2h0M450.1 1308.3h0M362.8 1326.4h0M360.7 1345.5h0M343.5 1295.8h0M445.0 1242.4h0M416.9 1212.2h0M393.0 1410.7h0M360.2 1392.9h0M481.2 1394.8h0M512.0 1284.8h0M399.9 1344.2h0M290.0 1348.9h0M332.9 1253.9h0M403.8 1328.6h0M444.9 1288.9h0M334.1 1345.2h0M342.6 1356.6h0M424.4 1361.1h0M393.6 1358.9h0M321.1 1371.4h0M462.9 1252.4h0M403.3 1261.0h0M371.2 1292.8h0M373.2 1383.9h0M260.9 1208.0h0M424.1 1334.5h0M309.2 1350.2h0M410.4 1277.8h0M511.9 1327.1h0M432.6 1374.7h0M390.1 1365.0h0M371.4 1237.6h0M356.8 1372.7h0M477.1 1238.9h0M484.8 1370.4h0M409.9 1370.3h0M318.5 1336.5h0M366.5 1312.9h0M477.8 1307.3h0M284.4 1190.2h0M459.9 1321.9h0M322.3 1366.3h0M389.8 1304.2h0M371.9 1240.9h0M368.0 1299.5h0M452.6 1349.4h0M360.5 1454.0h0M457.0 1304.4h0M425.8 1295.6h0M363.3 1379.0h0M381.4 1338.2h0M335.8 1362.6h0M439.9 1311.0h0M387.9 1518.2h0M391.2 1295.2h0M387.9 1386.4h0M396.9 1260.6h0M462.6 1268.1h0M458.0 1213.9h0M360.8 1240.6h0M419.7 1296.1h0M333.6 1283.0h0M375.7 1417.6h0M402.0 1433.0h0M441.2 1419.1h0M300.7 1181.6h0M335.8 1234.6h0M319.5 1242.0h0M323.4 1152.8h0M456.7 1237.7h0M410.2 1332.8h0M414.3 1163.9h0M428.4 1457.5h0M445.3 1325.8h0M393.4 1488.1h0M428.8 1371.1h0M429.6 1237.6h0M429.2 1250.1h0M428.3 1360.3h0M351.1 1260.3h0M457.3 1320.6h0M326.1 1365.4h0M356.5 1372.4h0M376.4 1397.1h0M438.9 1305.1h0M419.6 1258.2h0M284.6 1398.1h0M373.6 1259.9h0M463.3 1453.6h0M355.8 1443.7h0M428.2 1274.8h0M376.7 1346.9h0M390.8 1282.9h0M381.9 1307.0h0M443.7 1419.2h0M389.1 1345.1h0M417.3 1363.8h0M426.1 1317.9h0M409.5 1365.6h0M359.3 1370.4h0M342.5 1276.5h0M314.9 1267.8h0M381.3 1309.5h0M438.8 1409.7h0M354.7 1319.0h0M447.2 1261.7h0M328.8 1309.4h0M460.8 1262.3h0M381.7 1207.3h0M336.2 1292.5h0M291.6 1244.3h0M367.9 1309.0h0M362.5 1449.0h0M393.3 1374.7h0M427.9 1437.9h0M392.8 1163.7h0M325.2 1217.7h0M399.3 1431.5h0M311.1 1332.2h0M415.4 1298.9h0M462.0 1300.7h0M432.4 1378.5h0M328.7 1155.6h0M415.8 1221.6h0M395.7 1266.3h0M416.2 1295.3h0M375.4 1305.2h0M404.4 1298.2h0M430.0 1221.0h0M346.8 1315.2h0M360.5 1238.7h0M361.3 1272.8h0M427.3 1394.8h0M380.6 1278.8h0M401.8 1219.5h0M410.2 1323.4h0M276.8 1280.9h0M490.1 1368.6h0M352.1 1248.1h0M325.4 1348.0h0M400.2 1321.3h0M377.4 1347.8h0M420.3 1342.0h0M329.4 1278.9h0M417.3 1429.4h0M446.9 1293.0h0M331.2 1445.9h0M441.6 1276.3h0M473.4 1414.8h0M359.1 1311.4h0M410.7 1305.6h0M356.0 1478.7h0M341.4 1255.2h0M324.3 1300.1h0M341.6 1283.5h0M392.9 1241.6h0M404.7 1231.9h0M353.0 1288.8h0M378.3 1467.2h0M463.1 1123.5h0M493.0 1355.7h0M378.0 1237.1h0M480.9 1274.4h0M380.3 1203.4h0M325.5 1159.3h0M341.4 1285.1h0M393.0 1418.0h0M460.3 1373.6h0M388.6 1438.3h0M395.8 1254.6h0M434.7 1286.3h0M484.5 1472.3h0M366.7 1392.7h0M450.4 1372.4h0M445.3 1310.7h0M337.3 1384.3h0M399.9 1219.0h0M391.7 1282.7h0M490.5 1115.4h0M464.7 1335.5h0M443.4 1350.4h0M336.0 1439.0h0M347.1 1444.7h0M348.4 1139.9h0M379.5 1218.4h0M398.2 1372.8h0M321.7 1407.3h0M379.7 1263.9h0M431.3 1419.4h0M397.9 1219.9h0M455.7 1368.4h0M331.7 1282.3h0M392.9 1412.7h0M328.4 1352.8h0M495.4 1454.7h0M353.2 1430.6h0M363.9 1361.0h0M437.4 1370.4h0M458.0 1406.9h0M430.1 1320.3h0M346.5 1317.5h0M460.8 1336.2h0M369.1 1255.3h0M334.8 1360.8h0M334.4 1350.6h0M387.0 1447.6h0M406.1 1226.2h0M414.7 1339.4h0M371.0 1348.7h0M379.4 1471.0h0M430.5 1361.5h0M329.8 1394.8h0M470.0 1274.8h0M344.7 1237.5h0M357.7 1358.0h0M367.3 1256.4h0M468.3 1334.5h0M370.8 1316.4h0M370.1 1343.8h0M406.0 1157.6h0M446.1 1299.9h0M346.7 1367.2h0M432.2 1333.2h0M400.3 1236.8h0M312.0 1387.8h0M405.6 1367.3h0M360.2 1366.9h0M507.3 1244.1h0M339.2 1300.1h0M480.6 1495.7h0M368.5 1428.7h0M379.2 1313.5h0M347.6 1314.0h0M268.5 1337.2h0M385.0 1191.6h0M391.3 1248.6h0M372.7 1238.6h0M426.3 1201.4h0M352.4 1353.9h0M425.7 1275.6h0M369.1 1370.9h0M483.3 1273.1h0M415.5 1347.9h0M362.4 1416.5h0M449.4 1323.1h0M341.6 1386.3h0M396.7 1415.6h0M280.2 1270.8h0M346.0 1360.6h0M397.1 1320.8h0M432.0 1245.1h0M348.6 1298.0h0M419.8 1171.8h0M441.3 1246.1h0M401.5 1403.2h0M420.5 1411.5h0M382.7 1260.4h0M437.1 1270.8h0M398.1 1231.0h0M467.2 1222.0h0M365.9 1280.0h0M483.1 1387.5h0M355.9 1422.0h0M362.3 1289.2h0M395.1 1278.7h0M398.3 1299.9h0M325.8 1442.8h0M357.9 1279.5h0M445.2 1344.6h0M476.2 1310.1h0M421.3 1409.7h0M418.9 1216.3h0M307.2 1324.5h0M379.8 1365.1h0M358.9 1242.1h0M377.7 1183.6h0M393.2 1242.9h0M397.5 1533.0h0M310.7 1458.5h0M341.2 1419.4h0M338.3 1408.2h0M349.2 1224.5h0M455.6 1349.6h0M445.9 1280.0h0M373.0 1345.9h0M394.0 1323.4h0M401.3 1356.3h0M347.0 1388.4h0M345.2 1371.0h0M341.5 1266.4h0M382.2 1409.3h0M422.0 1424.8h0M465.6 1318.2h0M498.4 1407.1h0M410.1 1369.3h0M367.0 1468.0h0M404.2 1309.8h0M385.8 1318.2h0M387.7 1311.9h0M438.4 1280.3h0M408.6 1392.2h0M418.5 1379.1h0M372.2 1298.7h0M417.7 1225.9h0M361.5 1390.7h0M385.0 1278.3h0M332.1 1322.8h0M406.4 1301.9h0M405.9 1423.8h0M415.5 1367.6h0M397.3 1473.4h0M349.9 1394.1h0M359.4 1301.3h0M413.7 1330.3h0M303.0 1403.3h0M414.0 1239.9h0M392.7 1349.0h0M435.5 1441.0h0M362.3 1253.8h0M350.6 1308.8h0M391.1 1160.8h0M405.6 1231.5h0M379.8 1376.9h0M345.9 1304.1h0M310.4 1280.1h0M334.7 1372.8h0M297.9 1226.4h0M401.6 1230.8h0M448.8 1338.8h0M397.2 1356.6h0M322.2 1362.9h0M445.7 1286.4h0M307.7 1282.6h0M316.3 1360.4h0M421.3 1442.6h0M347.7 1235.3h0M306.4 1228.2h0M485.5 1329.9h0M365.1 1258.0h0M411.4 1238.5h0M380.4 1420.4h0M397.9 1226.7h0M341.9 1345.3h0M376.7 1339.0h0M435.6 1349.6h0M382.3 1239.8h0M376.3 1327.2h0M423.9 1315.3h0M340.6 1474.7h0M353.0 1493.6h0M386.1 1266.2h0M381.4 1280.9h0M443.8 1258.6h0M348.1 1181.9h0M373.0 1349.0h0M370.3 1249.0h0M305.5 1387.6h0M395.9 1370.0h0M330.7 1263.5h0M366.8 1330.6h0M305.6 1412.1h0M391.3 1273.8h0M361.6 1233.5h0M436.1 1297.5h0M337.0 1270.0h0M416.8 1229.4h0M394.6 1398.0h0M359.5 1284.1h0M459.8 1487.7h0M398.1 1272.0h0M372.1 1362.9h0M433.6 1321.9h0M464.5 1419.1h0M385.1 1312.8h0M383.6 1364.8h0M328.1 1273.4h0M365.1 1311.7h0M371.2 1280.8h0M324.7 1228.1h0M376.0 1222.0h0M424.5 1422.9h0M437.9 1499.9h0M410.0 1300.0h0M290.7 1240.3h0M390.0 1328.8h0M337.0 1231.5h0M422.2 1278.2h0M339.2 1304.4h0M379.1 1360.6h0M442.6 1252.7h0M421.6 1394.6h0M373.3 1345.8h0M365.7 1337.0h0M438.5 1491.0h0M451.4 1216.4h0M388.5 1259.4h0M340.2 1415.5h0M342.6 1195.2h0M391.8 1228.7h0M330.5 1212.4h0M353.7 1348.1h0M279.4 1287.8h0M364.4 1282.5h0M342.8 1205.9h0M342.4 1209.4h0M473.5 1364.5h0M487.3 1270.8h0M385.4 1298.0h0M381.3 1300.9h0M404.7 1322.2h0M328.6 1441.2h0M406.5 1365.2h0M426.9 1451.7h0M381.0 1305.4h0M335.9 1255.4h0M316.6 1211.9h0M364.4 1243.2h0M345.3 1255.3h0M399.4 1525.8h0M392.0 1359.6h0M375.8 1365.5h0M442.3 1271.9h0M353.7 1369.8h0M431.6 1288.4h0M336.0 1356.1h0M385.4 1278.5h0M465.6 1367.6h0M358.5 1410.0h0M420.0 1331.8h0M422.6 1457.7h0M345.5 1269.0h0M393.2 1349.7h0M367.1 1293.2h0M324.7 1352.4h0M392.3 1321.1h0M459.8 1353.7h0M463.2 1376.4h0M300.9 1415.6h0M411.5 1211.4h0M410.8 1260.8h0M431.8 1368.6h0M361.9 1417.1h0M433.0 1522.8h0M470.9 1318.2h0M348.1 1242.6h0M375.6 1382.8h0M359.7 1321.9h0M446.4 1469.3h0M320.9 1278.1h0M365.8 1231.4h0M305.6 1376.3h0M413.2 1315.0h0M330.0 1360.7h0M332.9 1314.6h0M385.3 1211.0h0M414.0 1230.4h0M443.1 1525.0h0M363.6 1177.3h0M339.0 1492.0h0M409.7 1349.1h0M453.3 1354.0h0M322.5 1450.6h0M477.4 1422.7h0M433.8 1347.5h0M301.3 1377.2h0M364.4 1333.6h0M365.5 1316.0h0M290.2 1225.7h0M438.5 1362.6h0M368.5 1321.6h0M312.8 1467.9h0" stroke="#008080" stroke-opacity="0.14" stroke-width="3.0" stroke-linecap="round" fill="none"/>
<path d="M441.9 1439.4h0M274.7 1326.0h0M437.6 1221.8h0M407.0 1097.3h0M391.4 1213.1h0M426.3 1494.5h0M400.6 1358.8h0M388.2 1341.7h0M309.0 1364.3h0M363.3 1266.0h0M440.9 1268.3h0M518.5 1419.9h0M275.3 1297.2h0M413.8 1378.6h0M409.7 1427.2h0M388.1 1497.7h0M448.8 1430.1h0M456.4 1291.0h0M405.4 1095.5h0M410.8 1160.8h0M404.0 1465.7h0M444.1 1350.3h0M353.2 1230.7h0M411.5 1326.0h0M347.8 1200.6h0M418.2 1223.4h0M372.5 1094.9h0M436.6 1401.1h0M472.7 1192.0h0M250.5 1251.9h0M491.8 1307.4h0M373.2 1441.4h0M374.6 1406.2h0M362.3 1319.5h0M462.9 1357.8h0M461.7 1403.4h0M371.1 1480.8h0M603.7 1422.4h0M351.3 1403.9h0M415.0 1054.2h0M255.5 1335.7h0M465.2 1367.5h0M243.2 1360.5h0M317.6 1380.8h0M298.0 1357.6h0M473.4 1383.9h0M351.5 1371.2h0M374.4 1306.4h0M535.3 1552.8h0M304.2 1468.9h0M545.6 1290.2h0M400.5 1282.7h0M426.6 1266.3h0M405.6 1324.6h0M351.0 1230.6h0M383.4 1416.2h0M383.9 1284.4h0M388.6 1246.2h0M216.0 1435.3h0M540.6 1323.4h0M428.8 1241.7h0M290.4 1210.2h0M401.3 1482.1h0M444.3 1457.8h0M583.7 1261.2h0M421.3 1272.3h0M350.6 1272.7h0M279.2 1408.8h0M464.5 1443.1h0M243.0 1365.0h0M261.6 1212.8h0M526.0 1265.1h0M381.7 1280.7h0M401.5 1358.6h0M340.1 1294.9h0M357.3 1415.9h0M422.0 1398.5h0M360.3 1528.4h0M396.0 1375.3h0M432.5 1307.6h0M457.9 1285.6h0M302.7 1248.7h0M470.0 1254.8h0M462.5 1382.7h0M338.7 1428.9h0M178.9 1256.7h0M325.4 1315.3h0M320.3 1316.1h0M412.3 1362.3h0M366.0 1276.8h0M402.2 1408.9h0M237.0 1427.8h0M380.9 1465.5h0M276.3 1183.6h0M274.0 1147.1h0M365.0 1337.3h0M388.8 1324.5h0M453.4 1295.4h0M275.7 1324.3h0M448.2 1387.1h0M258.0 1509.7h0M476.9 1474.5h0M328.5 1183.7h0M423.4 1217.0h0M488.0 1293.8h0M374.3 1352.4h0M459.8 1404.2h0M376.7 1284.5h0M510.8 1386.1h0M401.3 1331.9h0M206.4 1169.5h0M236.6 1157.8h0M405.7 1483.2h0M313.6 1291.2h0M283.2 1249.4h0M456.8 1449.8h0M405.6 1297.1h0M568.8 1366.8h0M345.8 1231.0h0M512.5 1359.4h0M413.0 1231.2h0M308.1 1189.3h0M485.3 1354.2h0M434.8 1451.6h0M382.4 1374.6h0M345.1 1295.9h0M314.4 1262.3h0M394.7 1248.9h0M462.4 1235.2h0M437.7 1186.9h0M429.4 1378.9h0M346.0 1417.6h0M311.4 1464.2h0M387.8 1310.6h0M504.8 1248.3h0M252.0 1242.5h0M490.7 1336.7h0M393.1 1112.9h0M336.5 1561.4h0M224.9 1118.0h0M226.5 1256.9h0M306.6 1270.2h0M469.2 1207.7h0M301.4 1287.2h0M318.1 1341.3h0M289.4 1407.4h0M511.4 1433.3h0M409.7 1261.7h0M358.3 1195.5h0M366.6 1307.0h0M447.1 1322.5h0M559.2 1113.5h0M409.9 1231.1h0M415.1 1335.6h0M402.8 1121.8h0M488.9 1212.9h0M362.2 1526.5h0M281.8 1251.1h0M514.9 1443.4h0M338.7 1416.9h0M379.8 1221.9h0M343.5 1121.0h0M407.5 1316.2h0M389.4 1043.4h0M469.1 1214.3h0M403.8 1362.8h0M282.1 1230.0h0M376.4 1310.4h0M447.6 1508.0h0M465.3 1362.9h0M380.2 1429.2h0M537.9 1224.7h0M361.5 1336.6h0M395.7 1349.4h0M260.4 1425.8h0M344.0 1348.5h0M403.2 1366.5h0M364.7 1236.2h0M497.3 1254.6h0M290.1 1301.7h0M455.1 1329.1h0M378.4 1343.7h0M474.6 1319.4h0M309.2 1434.8h0M428.6 1224.5h0M360.1 1164.7h0M490.6 1429.3h0M403.3 1120.9h0M409.0 1413.9h0M277.1 1390.6h0M395.0 1291.2h0M447.9 1373.4h0M528.1 1267.9h0M369.0 1357.2h0M360.5 1426.7h0M444.1 1437.1h0M338.4 1311.5h0M460.3 1306.7h0M303.9 1249.4h0M168.0 1501.2h0M347.1 1244.3h0M319.8 1283.9h0M375.6 1417.3h0M412.8 1278.0h0M325.2 1305.1h0M413.5 1291.2h0M316.4 1332.7h0M272.7 1437.4h0M372.5 1289.7h0M568.4 1284.8h0M433.6 1346.6h0M211.4 1202.0h0M402.8 1359.8h0M349.4 1365.9h0M332.1 1384.0h0M348.3 1293.0h0M235.5 1453.6h0M404.1 1488.7h0M312.8 1422.6h0M533.6 1334.4h0M368.5 1247.6h0M396.3 1246.7h0M438.2 1292.8h0M392.3 1297.2h0M395.7 1276.3h0M378.5 1296.5h0M335.3 1230.4h0M280.2 1336.8h0M408.6 1474.7h0M367.8 1342.0h0M579.5 1293.9h0M481.4 1358.2h0M360.6 1272.0h0M357.5 1282.7h0M394.0 1344.3h0M231.5 1117.7h0M327.1 1379.0h0M367.5 1374.9h0M336.6 1462.4h0M342.4 1260.4h0M236.9 1383.4h0M484.2 1516.0h0M375.9 1211.1h0M533.0 1239.2h0M432.6 1454.5h0M262.2 1424.8h0M464.9 1402.0h0M518.9 1370.7h0M411.7 1449.3h0M344.8 1149.6h0M327.1 1368.6h0M539.9 1206.4h0M252.7 1447.9h0M444.6 1284.2h0M398.4 1312.4h0M365.5 1336.2h0M260.6 1252.8h0M355.9 1206.3h0M438.1 1337.7h0M503.1 1282.1h0M378.7 1329.0h0M243.8 1267.5h0M405.4 1447.1h0M275.8 1316.1h0M264.7 1222.7h0M513.0 1295.3h0M368.1 1213.2h0M326.2 1463.6h0M404.4 1398.1h0M295.7 1150.1h0M424.9 1398.2h0M438.6 1357.7h0M419.6 1309.6h0M393.0 1152.5h0M386.7 1419.8h0M457.6 1428.0h0M392.7 1364.6h0M341.9 1314.3h0M483.2 1371.4h0M653.2 1417.0h0M291.0 1279.0h0M308.3 1340.0h0M357.8 1298.6h0M352.0 1133.5h0M258.1 1321.3h0M393.2 1178.0h0M383.5 1489.3h0M359.5 1501.5h0M362.8 1439.5h0M280.3 1321.7h0M413.0 1348.9h0M447.2 1275.9h0M504.5 1310.6h0M317.6 1419.6h0M306.5 964.0h0M505.5 1169.8h0M522.7 1324.7h0M333.4 1323.5h0M432.8 1270.2h0M290.1 1400.0h0M408.7 1368.6h0M374.1 1220.0h0M369.6 1158.7h0M464.2 1315.0h0M441.3 1384.6h0M437.4 1312.7h0M383.8 1216.5h0M436.9 1135.7h0M287.5 1326.7h0M374.7 1366.2h0M439.1 1368.7h0M399.8 1571.6h0M537.3 1377.9h0M606.6 1435.7h0M363.3 1247.1h0M296.8 1211.8h0M412.2 1276.1h0M508.2 1247.4h0M417.4 1306.9h0M518.5 1257.4h0M451.5 1477.9h0M368.5 1221.9h0M363.8 1254.6h0M433.8 1411.8h0M421.3 1274.2h0M396.6 1436.8h0M254.2 1175.2h0M340.5 1273.2h0M336.5 1459.6h0M556.2 1220.0h0M332.3 1288.9h0M420.5 1271.1h0M442.4 1276.2h0M401.9 1343.1h0M322.1 1361.5h0M358.7 1130.5h0M221.7 1427.9h0M465.8 1322.5h0M404.3 1358.8h0M385.0 1415.5h0M458.7 1320.7h0M499.5 1527.3h0M297.6 1240.0h0M423.5 1221.2h0M409.3 1189.5h0M399.3 1332.0h0M392.1 1307.4h0M401.8 1230.3h0M411.2 1309.9h0M557.1 1392.4h0M432.2 1487.9h0M427.1 1447.4h0M421.8 1442.1h0M376.3 1197.0h0M435.3 1258.9h0M282.6 1286.0h0M494.5 1256.4h0M480.8 1341.8h0M460.5 1332.5h0M452.4 1271.3h0M236.6 1445.0h0M379.5 1279.3h0M507.2 1313.3h0M497.9 1195.3h0M438.7 1322.9h0M405.4 1334.1h0M388.7 1325.2h0M392.0 1271.5h0M407.9 1243.0h0M362.3 1330.6h0M392.5 1328.7h0M372.4 1309.7h0M449.5 1391.6h0M485.7 1299.3h0M330.9 1282.8h0M407.5 1326.2h0M167.1 1270.6h0M348.2 1264.2h0M258.0 1515.9h0M430.0 1534.7h0M275.0 1394.4h0M365.1 1324.8h0M490.5 1457.4h0M309.0 1224.0h0M534.8 1249.9h0M237.2 1471.6h0M282.5 1329.7h0M463.8 1450.6h0M390.4 1360.5h0M360.3 1317.5h0M592.4 1219.4h0M390.9 1266.8h0M313.2 1332.8h0M494.0 1215.3h0M344.0 1514.1h0M422.3 1400.2h0M449.2 1338.9h0M388.6 1285.3h0M349.4 1500.7h0M543.6 1462.2h0M415.3 1492.0h0M334.1 1408.9h0M346.0 1438.0h0M309.9 1360.5h0M352.0 1317.4h0M340.4 1280.5h0M314.3 1346.5h0M449.5 1377.1h0M382.3 1315.0h0M472.9 1523.5h0M372.7 1335.7h0M376.5 1174.2h0M371.9 1308.8h0M409.2 1325.2h0M340.3 1235.5h0M444.2 1222.3h0M269.5 1371.9h0M504.3 1400.5h0M462.2 1269.5h0M305.8 1330.5h0M303.2 1413.8h0M274.6 1257.0h0M367.0 1289.3h0M400.5 1200.3h0M495.7 1518.6h0M419.2 1486.2h0M319.0 1459.5h0M366.5 1289.6h0M295.4 1243.7h0M203.1 1335.8h0M504.8 1359.8h0M466.7 1392.4h0M478.1 1491.1h0M348.3 1396.3h0M432.6 1448.2h0M415.7 1461.5h0M353.3 1313.5h0M413.1 1367.5h0M507.8 1367.2h0M278.6 1306.9h0M260.6 1232.3h0M311.1 1108.7h0M333.1 1178.5h0M353.4 1308.1h0M334.3 1298.2h0M296.4 1392.3h0M426.5 1402.3h0M437.2 1135.5h0M392.1 1264.2h0M283.6 1470.4h0M462.5 1208.9h0M530.8 1201.7h0M437.2 1104.2h0M246.9 1425.8h0M449.5 1435.8h0M325.9 1244.0h0M376.3 1467.6h0M286.9 1321.0h0M393.1 1207.4h0M257.5 1343.9h0M483.3 1204.0h0M459.9 1194.3h0M450.7 1316.8h0M421.7 1371.7h0M378.9 1283.3h0M553.9 1401.8h0M365.5 1312.7h0M301.1 1326.6h0M482.6 1342.9h0M363.5 1483.7h0M238.2 1350.9h0M348.5 1456.4h0M506.4 1133.6h0M414.1 1640.8h0M580.5 1435.3h0M377.4 1244.3h0M400.8 1280.9h0M394.4 1271.3h0M360.9 1371.2h0M380.1 1052.9h0M608.4 1535.9h0M409.8 1394.5h0M375.0 1303.7h0M309.6 1502.9h0M335.8 1391.7h0M294.4 1224.9h0M394.3 1213.1h0M361.0 1243.3h0M393.4 1306.0h0M348.6 1321.9h0M540.1 1349.1h0M392.3 1492.1h0M511.1 1309.1h0M352.7 984.3h0M256.5 1124.0h0M269.1 1475.8h0M160.4 1280.5h0M408.8 1391.7h0M337.1 1484.7h0M367.6 1147.2h0M384.4 1424.8h0M328.6 1496.2h0M427.9 1469.2h0M345.4 1339.3h0M340.8 1385.9h0M397.2 1437.1h0M361.5 1058.0h0M462.7 1302.4h0M472.8 1138.4h0M345.4 1417.6h0M335.3 1187.1h0M347.3 1223.0h0M379.7 1292.8h0M356.0 1335.6h0M567.2 1214.2h0M419.1 1384.1h0M425.9 1397.8h0M241.9 1474.7h0M431.4 1450.3h0M503.6 1337.5h0M387.2 1246.9h0M360.3 1311.9h0M456.1 1269.0h0M191.9 1209.0h0M441.8 1341.1h0M174.5 1371.4h0M405.4 1411.8h0M295.0 1335.1h0M374.9 1249.5h0M433.8 1411.5h0M500.6 1179.7h0M412.3 1259.2h0M318.0 1385.6h0M373.4 1228.7h0M442.4 1325.9h0M367.9 1363.2h0M478.4 1351.8h0M433.6 1463.9h0M342.7 1461.6h0M336.2 1323.0h0M446.4 1122.6h0M287.5 1303.5h0M383.4 1572.3h0M398.6 1338.5h0M397.2 1148.3h0M343.8 1287.2h0M410.4 1374.3h0M428.6 1415.2h0M387.1 1323.0h0M257.2 1233.6h0M463.5 1115.2h0M394.5 1255.9h0M505.5 1404.1h0M224.1 1373.2h0M479.2 1529.5h0M405.7 1322.2h0M258.0 1424.7h0M298.6 1259.2h0M405.7 1366.6h0M258.8 1242.3h0M376.4 1260.8h0M378.0 1323.4h0M472.5 1111.9h0M396.1 1200.5h0M420.3 1436.7h0M302.8 1406.0h0M357.5 1072.5h0M328.6 1406.2h0M362.8 1330.7h0M329.7 1458.6h0M391.4 1377.1h0M344.7 1369.9h0M366.8 1416.7h0M438.5 1272.0h0M381.8 1268.6h0M284.6 1292.2h0M308.9 1339.8h0M387.8 1310.0h0M343.0 1265.6h0M472.3 1359.7h0M374.3 1335.6h0M379.1 1398.1h0M466.4 1447.4h0M311.4 1401.8h0M351.6 1164.6h0M397.8 1230.1h0M280.1 1335.7h0M358.2 1348.8h0M433.4 1355.2h0M586.2 1347.9h0M475.6 1386.3h0M344.1 1298.1h0M290.0 1303.5h0M432.7 1289.7h0M422.0 1320.2h0M395.0 1329.9h0M400.6 1230.9h0M378.8 1193.7h0M428.2 1381.7h0M297.0 1549.7h0M470.5 1253.7h0M325.0 1232.8h0M470.9 1286.6h0M233.1 1217.3h0M405.8 1352.4h0M438.3 1297.1h0M200.0 1338.8h0M416.8 1420.8h0M337.2 1423.8h0M504.6 1191.6h0M399.9 1390.0h0M380.5 1312.7h0M442.7 1422.2h0M371.8 1210.4h0M385.6 1376.3h0M457.3 1364.5h0M417.2 1425.5h0M338.5 1366.9h0M211.5 1297.6h0M375.4 1343.7h0M390.4 1259.9h0M277.8 1420.3h0M369.8 1480.2h0M446.1 1463.0h0M320.1 1447.6h0M495.2 1313.0h0M330.7 1401.7h0M362.8 1363.2h0M442.7 1348.2h0M333.3 1264.0h0M291.2 1279.3h0M450.8 1292.4h0M312.4 1286.9h0M444.6 1256.6h0M424.9 1282.8h0M421.3 1411.4h0M356.9 1220.7h0M305.3 1217.2h0M415.6 1407.5h0M464.0 1188.3h0M236.5 1418.1h0M313.0 1364.4h0M437.2 1357.2h0M407.6 1343.3h0M395.5 1317.8h0M420.8 1113.0h0M397.6 1461.2h0M364.4 1266.0h0M399.9 1304.3h0M399.1 1185.6h0M377.7 1274.2h0M183.4 1409.5h0M321.8 1483.0h0M402.9 1293.0h0M360.9 1430.6h0M447.2 1436.1h0M407.1 1405.9h0M301.8 1256.4h0M375.7 1404.3h0M203.9 1247.0h0M427.1 1287.7h0M284.5 1303.2h0M633.9 1237.2h0M364.7 1420.6h0M396.0 1385.5h0M505.1 1591.7h0M332.8 1305.4h0M399.7 1380.9h0M381.4 1287.5h0M441.6 1186.0h0M441.6 1381.8h0M472.0 1332.1h0M546.2 1295.1h0M492.4 1372.4h0M444.7 1399.1h0M432.2 1273.1h0M278.5 1351.4h0M424.1 1593.1h0M308.2 1309.9h0M290.7 1356.9h0M368.2 1464.8h0M245.4 1310.5h0M425.0 1294.5h0M286.7 1298.6h0M290.6 1310.8h0M400.2 1348.8h0M461.1 1235.9h0M190.7 1113.5h0M314.3 1511.1h0M307.2 1208.3h0M439.7 1325.3h0M420.9 1215.1h0M450.3 1315.6h0M415.1 1441.5h0M420.0 1230.4h0M359.2 1132.9h0M400.4 1352.6h0M482.0 1351.9h0M440.9 1384.6h0M458.4 1219.4h0M412.6 1237.4h0M432.3 1538.8h0M424.4 1394.1h0M478.3 1203.9h0M376.2 1346.2h0M401.8 1385.4h0M357.0 1270.9h0M470.7 1333.1h0M507.5 1282.3h0M506.3 1200.5h0M297.9 1238.9h0M390.4 1142.8h0M406.7 1297.2h0M232.3 1460.7h0M414.1 1228.4h0M372.8 1387.4h0M272.7 1197.4h0M412.6 1330.5h0M312.0 1351.9h0M245.1 1272.3h0M425.3 1142.5h0M282.7 1229.4h0M495.8 1249.6h0M477.7 1455.6h0M348.7 1158.0h0M341.1 1260.2h0M379.2 1337.7h0M189.6 1376.6h0M541.4 1344.1h0M446.1 1295.7h0M264.8 1432.4h0M354.4 1289.2h0M436.6 1355.6h0M439.8 1212.4h0M502.1 1259.8h0M435.6 1247.9h0M380.4 1255.9h0M480.8 1401.0h0M558.8 1054.2h0M286.5 1512.0h0M474.6 1324.4h0M290.3 1402.1h0M520.3 1407.8h0M313.1 1221.9h0M464.2 1226.3h0M368.9 1384.1h0M464.0 1303.7h0M355.9 1238.7h0M461.7 1583.8h0M345.7 1439.1h0M558.9 1202.1h0M434.5 1360.0h0M290.9 1366.8h0M413.8 1409.1h0M251.2 1395.2h0M361.1 1439.1h0M482.2 1380.1h0M439.4 1388.9h0M258.3 1468.8h0M368.7 1276.1h0M387.8 1400.5h0M371.9 1232.3h0M292.1 1213.7h0M360.4 1437.9h0M431.8 1249.3h0M435.9 1321.3h0M243.0 1327.4h0M468.5 1345.5h0M360.3 1225.2h0M419.4 1294.1h0M439.2 1239.6h0M431.2 1232.2h0M368.9 1349.3h0M440.8 1464.3h0M402.0 1387.8h0M374.3 1150.9h0M405.4 1422.2h0M365.0 1237.2h0M354.5 1293.4h0M293.1 1119.2h0M410.4 1252.4h0M392.9 1504.0h0M410.7 1296.2h0M443.7 1315.4h0M265.5 1390.6h0M435.7 1257.7h0M469.8 1287.9h0M434.3 1357.4h0M447.4 1307.4h0M299.9 1473.4h0M207.6 1212.9h0M408.7 1269.2h0M258.7 1375.5h0M391.9 1048.3h0M450.8 1338.8h0M377.8 1369.2h0M433.4 1284.7h0M335.0 1341.8h0M527.3 1356.2h0M437.2 1229.8h0M281.3 1368.1h0M319.3 1365.6h0M423.0 1312.3h0M476.6 1224.9h0M360.6 1353.7h0M467.1 1184.0h0M342.0 1405.4h0M205.6 1344.3h0M298.1 1179.4h0M425.0 1378.1h0M389.3 1308.7h0M517.9 1320.6h0M469.9 1266.1h0M299.2 1496.1h0M437.0 1361.9h0M353.5 1193.4h0M251.1 1270.8h0M388.3 1482.9h0M505.3 1423.8h0M471.1 1300.6h0M448.3 1220.4h0M440.3 1417.1h0M400.1 1411.1h0M266.0 1270.4h0M459.8 1415.6h0M289.7 1422.7h0M501.7 1039.0h0M403.7 1303.3h0M385.4 1299.6h0M462.9 1294.4h0M476.3 1354.7h0M376.6 1216.4h0M290.3 1322.0h0M280.6 1419.7h0M389.8 1366.1h0M520.7 1261.5h0M343.5 1459.0h0M497.8 1373.3h0M366.1 1388.0h0M337.9 1357.0h0M388.9 1335.0h0M409.4 1424.3h0M364.9 1422.1h0M283.4 1335.7h0M392.7 1307.0h0M217.5 1397.9h0M263.2 1405.1h0M405.8 1418.9h0M209.8 1419.0h0M309.9 1173.7h0M284.7 1280.3h0M445.6 1335.3h0M389.2 1228.6h0M511.9 1364.6h0M493.7 1381.3h0M542.9 1447.9h0M395.2 1368.5h0M441.8 1392.8h0M380.0 1443.9h0M378.6 1317.0h0M395.9 1244.5h0M479.3 1424.8h0M362.0 1512.8h0M469.7 1265.4h0M284.9 1294.2h0M429.8 1478.4h0M440.4 1438.6h0M583.4 1311.2h0M528.8 1406.4h0M356.8 1532.2h0M439.0 1296.5h0M287.4 1439.3h0M277.6 1477.6h0M325.4 1421.0h0M482.2 1444.1h0M454.2 1449.9h0M434.2 1326.1h0M421.5 1447.4h0M518.6 1377.2h0M452.6 1407.5h0M455.9 1381.6h0M294.4 1439.5h0M356.6 1292.7h0M323.5 1320.4h0M275.1 1251.8h0M306.4 1506.3h0M365.4 1197.7h0M507.6 1412.7h0M287.4 1145.8h0M438.6 1486.3h0M470.2 1284.6h0M405.1 1322.0h0M443.7 1161.7h0M526.1 1242.7h0M480.0 1411.5h0M569.7 1355.6h0M250.5 1267.6h0M339.6 1280.4h0M518.4 1232.1h0M441.7 1334.6h0M473.9 1523.5h0M445.3 1390.3h0M329.1 1199.9h0M351.6 1451.0h0M395.9 1356.8h0M399.1 1429.4h0M394.9 1380.2h0M480.2 1328.7h0M195.6 1337.7h0M491.0 1492.7h0M254.9 1363.8h0M354.4 1200.1h0M298.2 1233.1h0M260.2 1419.6h0M500.2 1232.7h0M326.6 1407.0h0M462.4 1329.0h0M448.9 1378.4h0M540.8 1379.9h0M431.0 1285.7h0M365.3 1257.6h0M382.3 1274.0h0M497.5 1322.9h0M491.2 1357.3h0M355.1 1431.4h0M331.7 1187.9h0M372.3 1398.5h0M374.3 1441.5h0M347.6 1377.6h0M430.8 1248.6h0M353.1 1446.7h0M335.3 1289.4h0M363.4 1301.1h0M197.9 1331.4h0M524.4 1292.1h0M320.1 1416.0h0M301.8 1268.1h0M238.2 1190.6h0M209.1 1358.5h0M329.4 1493.8h0M334.2 1317.4h0M542.0 1208.4h0M329.4 1423.8h0M341.6 1320.8h0M479.5 1236.9h0M397.8 1192.7h0M396.0 1349.7h0M356.6 1276.6h0M321.1 1347.9h0M428.7 1252.4h0M415.5 1390.8h0M309.9 1382.0h0M349.3 1322.3h0M378.0 1316.3h0M230.2 1368.7h0M348.4 1309.8h0M472.2 1333.6h0M415.5 1250.9h0M294.2 1501.7h0M285.1 1378.8h0M301.4 1333.0h0M277.5 1330.8h0M357.1 1304.9h0M343.0 1418.4h0M358.1 1234.9h0M366.8 1348.4h0M466.2 1435.3h0M440.6 1333.2h0M274.0 1190.4h0M462.7 1278.3h0M374.3 1235.4h0M311.2 1307.2h0M473.4 1416.8h0M382.1 1337.6h0M421.8 1488.9h0M482.1 1386.6h0M366.3 1364.7h0M354.1 1285.9h0M438.2 1556.7h0M303.1 1304.4h0M311.2 1335.3h0M431.3 1331.4h0M417.4 1390.1h0M309.1 1546.9h0M440.7 1242.4h0M463.9 1434.4h0M379.8 1418.4h0M408.8 1414.0h0M455.6 1320.6h0M386.2 1345.8h0M329.4 1413.8h0M397.5 1190.1h0M417.2 1622.7h0M296.8 1279.5h0M429.5 1429.6h0M340.8 1305.4h0M431.7 1444.1h0M349.8 1432.4h0M385.3 1160.2h0M441.7 1506.2h0M463.3 1144.0h0M409.2 1467.5h0M396.7 1484.3h0M232.8 1229.4h0M327.8 1255.4h0M447.3 1217.3h0M305.0 1427.5h0M365.2 1159.2h0M434.5 1296.4h0M355.8 1364.0h0M425.2 1301.5h0M292.1 1302.9h0M365.6 1273.7h0M394.0 1362.0h0M378.0 1356.6h0M422.0 1364.7h0M474.4 1189.9h0M326.8 1385.4h0M621.0 1195.3h0M426.3 1285.4h0M425.3 1446.7h0M381.9 1422.6h0M478.9 1355.6h0M422.6 1316.8h0M399.0 1117.3h0M427.1 1273.5h0M387.8 1322.1h0M389.9 1251.7h0M379.5 1259.1h0M328.5 1339.1h0M461.4 1464.1h0M377.5 1423.3h0M535.2 1314.2h0M368.5 1352.6h0M308.4 1296.4h0M430.8 1325.6h0M404.2 1373.8h0M321.4 1207.1h0M354.9 1285.2h0M505.0 1332.7h0M373.1 1346.7h0M324.5 1231.8h0M454.8 1441.6h0M193.4 1356.4h0M470.5 1322.0h0M582.5 1497.3h0M333.7 1349.8h0M352.2 1288.1h0M470.2 1282.3h0M503.3 1301.9h0M449.2 1518.8h0M312.8 1371.3h0M495.4 1392.1h0M476.8 1482.4h0M343.1 1351.8h0M362.2 1354.3h0M261.8 1393.3h0M484.1 1085.7h0M395.1 1194.0h0M379.5 1388.7h0M520.0 1370.8h0M389.9 1442.4h0M517.6 1421.4h0M401.3 1271.7h0M434.4 1357.2h0M306.7 1331.1h0M553.0 1379.0h0M464.9 1256.8h0M404.8 1383.2h0M417.2 1520.6h0M295.9 1425.7h0M355.9 1194.5h0M275.7 1428.7h0M361.1 1130.5h0M491.8 1243.0h0M449.7 1351.8h0M442.3 1349.7h0M415.2 1461.7h0M397.9 1351.1h0M342.9 1482.2h0M319.9 1239.7h0M408.6 1321.7h0M370.6 1275.1h0M453.2 1444.6h0M542.2 1382.6h0M394.0 1391.4h0M449.2 1339.8h0M396.5 1380.8h0M485.1 1369.6h0M370.9 1335.9h0M502.4 1236.5h0M409.7 1453.2h0M511.4 1299.9h0M355.3 1550.6h0M345.4 1386.3h0M501.2 1435.7h0M310.5 1310.0h0M289.9 1277.9h0M462.4 1217.2h0M488.3 1428.0h0M354.5 1576.4h0M529.2 1375.9h0M429.8 1458.7h0M287.8 1189.5h0M543.8 1283.5h0M506.3 1370.5h0M569.0 1283.6h0M343.4 1343.0h0M521.1 1139.9h0M411.2 1373.8h0M448.9 1317.9h0M433.8 1379.1h0M440.2 1325.1h0M549.7 1395.8h0M382.6 1295.9h0M396.0 1333.7h0M293.6 1127.1h0M403.1 1328.5h0M400.2 1351.0h0M478.1 1357.1h0M473.6 1291.3h0M378.7 1439.1h0M486.4 1146.0h0M416.7 1201.1h0M347.3 1279.0h0M397.5 1222.3h0M527.5 1349.8h0M371.8 1220.5h0M377.5 1226.7h0M420.5 1375.4h0M422.2 1403.3h0M415.2 1476.1h0M497.6 1420.3h0M407.3 1312.8h0M451.4 1282.6h0M320.1 1171.4h0M466.4 1426.1h0M315.5 1457.3h0M418.9 1278.2h0M316.3 1380.5h0M427.3 1408.1h0M400.0 1247.7h0M592.7 1272.8h0M345.0 1399.7h0M364.8 1274.5h0M333.6 1288.1h0M435.1 1434.4h0M386.0 1399.9h0M353.9 1275.1h0M335.4 1191.1h0M323.1 1202.9h0M371.1 1381.7h0M385.7 1331.8h0M498.3 1335.9h0M398.3 1039.1h0M330.9 1096.9h0M564.1 1311.7h0M293.0 1060.6h0M480.9 1391.3h0M422.3 1350.0h0M422.6 1411.0h0M432.7 1278.5h0M334.0 1401.2h0M308.5 1293.7h0M469.9 1172.7h0M475.6 1262.7h0M502.0 1254.6h0M392.3 1214.4h0M319.7 1281.2h0M284.4 1490.9h0M458.8 1392.8h0M493.8 1440.5h0M411.4 1213.8h0M340.3 1341.7h0M425.0 1238.5h0M388.9 1224.3h0M370.4 1322.5h0M358.9 1318.9h0M262.5 1171.0h0M482.3 1335.7h0M332.6 1497.7h0M422.5 1278.5h0M361.5 1390.6h0M455.9 1341.9h0M406.9 1316.3h0M509.9 1315.8h0M284.9 1371.0h0M362.6 1406.3h0M489.1 1458.0h0M522.7 1276.2h0M287.4 1276.5h0M437.7 1260.9h0M359.8 1276.5h0M413.7 1322.5h0M395.5 1307.7h0M167.5 1226.4h0M466.9 1437.9h0M489.5 1319.7h0M330.6 1347.9h0M371.5 1365.8h0M290.5 1393.9h0M370.5 1336.5h0M231.1 1142.9h0M460.8 1236.7h0M430.0 1327.7h0M214.6 1511.7h0M371.8 1245.4h0M321.4 1363.3h0M310.7 1364.1h0M482.3 1393.4h0M371.3 1404.8h0M500.0 1385.8h0M487.1 1415.7h0M375.5 1203.8h0M401.1 1153.3h0M398.7 1262.6h0M511.1 1132.4h0M375.6 1322.7h0M444.9 1058.7h0M302.2 1275.3h0M464.8 1385.6h0M407.1 1418.8h0M435.1 1372.1h0M596.2 1209.9h0M497.1 1552.1h0M408.7 1399.8h0M488.9 1264.2h0M389.0 1356.1h0M347.6 1426.6h0M366.8 1336.0h0M316.5 1345.9h0M361.0 1380.2h0M408.3 1272.3h0M525.8 1216.4h0M439.3 1242.5h0M379.7 1475.3h0M370.0 1280.8h0M410.8 1487.0h0M347.5 1334.2h0M301.1 1280.4h0M351.1 1390.3h0M392.0 1265.9h0M293.6 1458.3h0M395.8 1355.7h0M386.2 1415.2h0M416.8 1400.1h0M329.6 1264.0h0M426.5 1473.9h0M313.9 1445.5h0M325.2 1329.8h0M436.3 1273.7h0M281.4 1375.5h0M398.9 1258.4h0M284.4 1445.6h0M354.1 1308.1h0M286.5 1436.2h0M395.2 1362.0h0M501.1 1355.7h0M308.5 1201.0h0M414.8 1172.9h0M539.1 1295.6h0M351.2 1486.5h0M385.7 1471.1h0M324.8 1269.3h0M546.6 1368.7h0M535.9 1293.6h0M386.6 1352.9h0M400.0 1253.0h0M483.4 1212.9h0M359.6 1242.9h0M147.5 1415.8h0M391.6 1227.3h0M473.1 1396.5h0M504.0 1272.4h0M398.7 1149.1h0M555.2 1238.2h0M376.9 1331.6h0M372.3 1336.8h0M459.0 1306.8h0M445.5 1492.9h0M398.8 1212.4h0M274.4 1346.0h0M311.1 1184.2h0M379.5 1266.0h0M288.7 1246.2h0M297.9 1484.9h0M363.8 1385.7h0M419.5 1359.9h0M286.1 1276.7h0M440.0 1400.6h0M471.8 1183.7h0M316.2 1351.5h0M283.0 1284.4h0M327.2 1181.0h0M468.6 1297.1h0M421.6 1312.2h0M320.7 1291.7h0M453.5 1409.7h0M327.2 1373.6h0M459.5 1359.9h0" stroke="#008080" stroke-opacity="0.09" stroke-width="3.0" stroke-linecap="round" fill="none"/>
</g>
<path d="M390.5 1064.3L390.5 1610.3M583.54 1144.26L197.46 1530.34M663.5 1337.3L117.5 1337.3M583.54 1530.34L197.46 1144.26" stroke="#b0b0b0" stroke-width="2.7" fill="none"/>
<circle cx="390.5" cy="1337.3" r="68.5" fill="none" stroke="#b0b0b0" stroke-width="2.7"/>
<circle cx="390.5" cy="1337.3" r="137" fill="none" stroke="#b0b0b0" stroke-width="2.7"/>
<circle cx="390.5" cy="1337.3" r="205.5" fill="none" stroke="#b0b0b0" stroke-width="2.7"/>
<circle cx="390.5" cy="1337.3" r="273" fill="none" stroke="#000" stroke-width="1.7"/>
<text x="391" y="1045" font-size="31" text-anchor="middle" font-weight="normal" fill="#000">0°</text>
<text x="602.5" y="1132" font-size="31" text-anchor="middle" font-weight="normal" fill="#000">45°</text>
<text x="690" y="1346" font-size="31" text-anchor="middle" font-weight="normal" fill="#000">90°</text>
<text x="602.5" y="1558.5" font-size="31" text-anchor="middle" font-weight="normal" fill="#000">135°</text>
<text x="390" y="1647" font-size="31" text-anchor="middle" font-weight="normal" fill="#000">180°</text>
<text x="177.5" y="1558.5" font-size="31" text-anchor="middle" font-weight="normal" fill="#000">225°</text>
<text x="89" y="1346" font-size="31" text-anchor="middle" font-weight="normal" fill="#000">270°</text>
<text x="177.5" y="1132" font-size="31" text-anchor="middle" font-weight="normal" fill="#000">315°</text>
<text x="484" y="1367.5" font-size="31" text-anchor="middle" font-weight="normal" fill="#000">1000</text>
<text x="540" y="1404.5" font-size="31" text-anchor="middle" font-weight="normal" fill="#000">2000</text>
<text x="598.5" y="1441" font-size="31" text-anchor="middle" font-weight="normal" fill="#000">3000</text>
<defs>
<clipPath id="cpb"><circle cx="395" cy="1983.5" r="268"/></clipPath>
<radialGradient id="gb_0" cx="0.5" cy="0.5" r="0.5">
<stop offset="0" stop-color="#008000" stop-opacity="0.929"/>
<stop offset="0.24" stop-color="#008000" stop-opacity="0.859"/>
<stop offset="0.3" stop-color="#008000" stop-opacity="0.700"/>
<stop offset="0.37" stop-color="#008000" stop-opacity="0.520"/>
<stop offset="0.44" stop-color="#008000" stop-opacity="0.368"/>
<stop offset="0.51" stop-color="#008000" stop-opacity="0.252"/>
<stop offset="0.59" stop-color="#008000" stop-opacity="0.157"/>
<stop offset="0.68" stop-color="#008000" stop-opacity="0.094"/>
<stop offset="0.78" stop-color="#008000" stop-opacity="0.051"/>
<stop offset="0.89" stop-color="#008000" stop-opacity="0.020"/>
<stop offset="1" stop-color="#008000" stop-opacity="0.000"/>
</radialGradient>
<radialGradient id="gb_1" cx="0.5" cy="0.5" r="0.5">
<stop offset="0" stop-color="#008000" stop-opacity="0.929"/>
<stop offset="0.24" stop-color="#008000" stop-opacity="0.859"/>
<stop offset="0.3" stop-color="#008000" stop-opacity="0.700"/>
<stop offset="0.37" stop-color="#008000" stop-opacity="0.520"/>
<stop offset="0.44" stop-color="#008000" stop-opacity="0.368"/>
<stop offset="0.51" stop-color="#008000" stop-opacity="0.252"/>
<stop offset="0.59" stop-color="#008000" stop-opacity="0.157"/>
<stop offset="0.68" stop-color="#008000" stop-opacity="0.094"/>
<stop offset="0.78" stop-color="#008000" stop-opacity="0.051"/>
<stop offset="0.89" stop-color="#008000" stop-opacity="0.020"/>
<stop offset="1" stop-color="#008000" stop-opacity="0.000"/>
</radialGradient>
<radialGradient id="gb_2" cx="0.5" cy="0.5" r="0.5">
<stop offset="0" stop-color="#008000" stop-opacity="0.086"/>
<stop offset="0.04" stop-color="#008000" stop-opacity="0.085"/>
<stop offset="0.08" stop-color="#008000" stop-opacity="0.082"/>
<stop offset="0.12" stop-color="#008000" stop-opacity="0.076"/>
<stop offset="0.17" stop-color="#008000" stop-opacity="0.070"/>
<stop offset="0.21" stop-color="#008000" stop-opacity="0.062"/>
<stop offset="0.25" stop-color="#008000" stop-opacity="0.053"/>
<stop offset="0.29" stop-color="#008000" stop-opacity="0.045"/>
<stop offset="0.33" stop-color="#008000" stop-opacity="0.036"/>
<stop offset="0.38" stop-color="#008000" stop-opacity="0.029"/>
<stop offset="0.42" stop-color="#008000" stop-opacity="0.022"/>
<stop offset="0.46" stop-color="#008000" stop-opacity="0.017"/>
<stop offset="0.5" stop-color="#008000" stop-opacity="0.012"/>
<stop offset="0.54" stop-color="#008000" stop-opacity="0.009"/>
<stop offset="0.58" stop-color="#008000" stop-opacity="0.006"/>
<stop offset="0.62" stop-color="#008000" stop-opacity="0.004"/>
<stop offset="0.67" stop-color="#008000" stop-opacity="0.003"/>
<stop offset="0.71" stop-color="#008000" stop-opacity="0.002"/>
<stop offset="0.75" stop-color="#008000" stop-opacity="0.001"/>
<stop offset="0.79" stop-color="#008000" stop-opacity="0.001"/>
<stop offset="0.83" stop-color="#008000" stop-opacity="0.000"/>
<stop offset="0.88" stop-color="#008000" stop-opacity="0.000"/>
<stop offset="0.92" stop-color="#008000" stop-opacity="0.000"/>
<stop offset="0.96" stop-color="#008000" stop-opacity="0.000"/>
<stop offset="1" stop-color="#008000" stop-opacity="0.000"/>
</radialGradient>
</defs>
<g clip-path="url(#cpb)">
<ellipse cx="395" cy="1963.5" rx="111.8" ry="237.38" fill="url(#gb_0)"/>
<ellipse cx="395" cy="1963.5" rx="148.2" ry="185.59" fill="url(#gb_1)"/>
<ellipse cx="395" cy="1967.5" rx="272" ry="353.6" fill="url(#gb_2)"/>
<path d="M535.3 1910.5h0M418.7 1980.1h0M445.1 1846.9h0M370.1 1902.9h0M330.5 1894.9h0M364.3 1942.8h0M340.6 2003.8h0M362.1 1692.5h0M466.4 1933.8h0M350.4 1990.6h0M408.8 1972.0h0M343.7 1984.0h0M302.8 2091.6h0M319.1 1949.7h0M396.1 1986.3h0M380.2 2009.0h0M176.9 1947.4h0M377.6 1919.0h0M479.0 1872.3h0M382.2 1781.1h0M403.6 1816.1h0M292.5 2159.9h0M429.6 1955.4h0M397.4 1831.3h0M323.4 1992.9h0M258.8 1979.8h0M281.8 1966.6h0M319.5 2109.0h0M448.9 1911.2h0M272.1 1887.7h0M383.6 1869.5h0M404.4 2042.5h0M383.7 1918.3h0M434.7 1930.3h0M438.8 1928.4h0M485.6 1931.9h0M322.6 1964.7h0M348.6 1874.3h0M379.5 2021.8h0M255.4 1952.5h0M378.0 1943.7h0M436.3 1842.4h0M427.7 1936.8h0M394.3 1937.6h0M367.5 1911.2h0M412.9 2141.2h0M452.3 2032.2h0M422.3 1916.3h0M425.4 2139.4h0M310.6 2031.1h0M450.8 1983.7h0M437.3 2080.9h0M524.4 2073.9h0M490.8 1989.6h0M440.7 1976.3h0M408.6 1921.1h0M432.2 2088.1h0M381.6 1984.3h0M429.3 1964.4h0M448.7 1985.3h0M321.0 1873.7h0M436.2 2018.4h0M459.3 1985.6h0M404.9 1827.1h0M477.2 1884.1h0M455.9 1865.2h0M352.7 1978.0h0M367.2 1904.0h0M447.4 2023.6h0M417.1 1935.7h0M343.4 1923.8h0M361.7 1963.0h0M440.0 1950.8h0M345.8 1912.0h0M471.2 1979.9h0M408.0 1990.2h0M429.8 1978.2h0M465.2 2036.7h0M223.4 1954.7h0M572.3 1855.9h0M402.2 2060.2h0M394.6 2082.5h0M318.5 1858.9h0M383.4 1903.4h0M330.1 2016.4h0M411.1 1968.2h0M370.5 1990.2h0M387.7 1904.5h0M425.8 1999.5h0M399.9 2027.3h0M328.5 1955.0h0M363.5 2082.2h0M425.5 2149.6h0M489.4 1935.6h0M329.3 2009.1h0M378.0 1953.9h0M331.3 2019.2h0M406.2 2002.2h0M413.6 1889.8h0M260.6 1944.1h0M356.9 1922.0h0M452.6 1958.9h0M485.6 1983.1h0M436.3 2011.1h0M443.3 1859.3h0M460.4 1976.8h0M336.4 2020.3h0M415.7 2078.2h0M438.9 1999.0h0M297.0 2111.7h0M484.2 2034.2h0M422.7 2072.2h0M343.0 2027.8h0M396.4 1881.3h0M417.1 1997.8h0M497.2 2048.7h0M298.8 1798.7h0M390.3 1949.5h0M338.8 1842.1h0M383.3 1867.9h0M353.5 2041.6h0M409.3 1902.6h0M327.6 1951.4h0M499.0 1923.9h0M498.9 1899.8h0M382.4 2027.3h0M348.6 1972.2h0M313.7 2024.4h0M464.5 1911.6h0M406.1 1932.3h0M265.5 2203.5h0M432.7 2038.6h0M418.3 1982.4h0M537.2 1810.4h0M376.2 1931.3h0M382.5 2027.3h0M351.7 1853.3h0M327.2 2006.8h0M452.1 2037.0h0M490.8 1922.8h0M454.5 2026.4h0M385.0 1902.7h0M447.7 1908.9h0M377.3 1883.7h0M499.8 1962.9h0M365.0 1946.1h0M381.3 1975.1h0M292.5 1867.4h0M425.3 2060.6h0M334.2 1977.1h0M360.3 1771.7h0M376.2 1874.0h0M447.2 1949.3h0M392.6 1841.5h0M403.5 1799.8h0M408.1 2085.9h0M322.1 2040.7h0M479.3 1950.1h0M461.9 1974.5h0M365.3 1794.4h0M330.1 1839.4h0M537.9 1989.6h0M384.5 1851.0h0M498.3 1867.3h0M484.1 2060.8h0M399.3 1910.4h0M392.1 1853.3h0M433.9 2112.4h0M448.5 2057.7h0M352.9 1993.9h0M333.4 1928.6h0M438.7 2183.0h0M399.2 1970.5h0M281.2 1982.5h0M340.3 1846.6h0M305.5 1979.6h0M371.0 2025.9h0M380.8 1967.1h0M483.1 2036.7h0M441.1 2094.6h0M408.1 1882.0h0M347.1 1832.7h0M416.2 1932.6h0M425.7 2039.4h0M346.1 1983.3h0M471.4 1974.7h0M451.1 1950.5h0M337.8 1947.5h0M281.4 2028.7h0M363.8 2083.7h0M320.8 1978.4h0M415.6 1950.0h0M418.0 1902.1h0M330.1 1845.6h0M360.8 1896.9h0M409.3 1935.5h0M355.0 1903.8h0M280.1 1935.6h0M420.0 1851.9h0M379.4 2026.0h0M352.9 1984.0h0M369.1 2180.6h0M479.5 2070.3h0M353.5 2023.9h0M385.0 1998.9h0M360.1 1981.2h0M348.4 1993.0h0M501.8 1848.1h0M314.9 2011.3h0M443.2 1934.8h0M430.8 2004.6h0M428.5 2087.8h0M355.5 2025.0h0M407.2 1907.3h0M425.5 1853.9h0M304.5 2061.4h0M327.5 2115.3h0M458.4 1921.9h0M341.1 1772.6h0M390.3 1824.2h0M490.7 1820.1h0M398.7 1728.4h0M373.4 2083.5h0M367.5 1895.2h0M365.6 2000.1h0M449.1 1946.4h0M269.4 1994.1h0M454.3 2169.1h0M405.0 1982.2h0M361.5 2032.9h0M503.1 1879.3h0M399.7 1875.6h0M352.5 1950.7h0M424.9 1893.5h0M376.5 2087.2h0M425.6 2028.3h0M419.0 1950.3h0M420.4 2012.8h0M394.6 2057.3h0M394.9 2046.3h0M396.0 2031.2h0M353.3 1917.6h0M323.5 2072.9h0M426.0 1985.6h0M432.6 1894.0h0M400.8 1922.3h0M280.3 1943.6h0M341.1 2092.6h0M348.8 1912.4h0M454.9 1966.1h0M312.7 1987.1h0M348.4 2117.2h0M329.6 1901.6h0M226.3 1907.7h0M509.7 1956.0h0M335.7 1992.4h0M376.8 1963.4h0M547.6 2144.4h0M492.8 2113.5h0M338.1 1794.8h0M440.3 2001.8h0M397.4 1956.6h0M438.8 2016.9h0M410.7 2010.4h0M382.3 1934.4h0M480.5 1945.3h0M517.2 2024.1h0M398.7 2065.9h0M364.4 1950.5h0M373.8 1967.1h0M436.8 2150.5h0M426.9 1873.4h0M344.1 1807.8h0M439.5 2044.6h0M415.2 1999.0h0M427.2 2004.8h0M434.5 1987.1h0M334.2 2050.2h0M477.0 1823.0h0M380.6 1867.3h0M426.0 1941.9h0M482.3 2065.1h0M366.2 1925.2h0M358.8 2017.8h0M337.5 2005.7h0M309.0 2059.3h0M424.1 1865.1h0M346.6 1979.5h0M412.0 1715.5h0M407.2 2100.4h0M367.3 1847.9h0M469.6 1988.3h0M406.7 2021.5h0M319.3 1908.0h0M325.3 1867.1h0M375.0 1874.1h0M493.6 2011.3h0M445.5 1821.0h0M381.3 1953.6h0M404.6 2006.3h0M345.6 1886.2h0M453.2 2165.4h0M522.3 1942.1h0M346.4 1983.6h0M423.6 2122.5h0M380.3 1901.5h0M458.7 1903.3h0M341.9 2014.0h0M382.8 1874.3h0M378.5 1930.6h0M380.9 1902.0h0M430.3 1935.6h0M357.8 2060.1h0M337.9 2033.2h0M430.7 1940.9h0M407.8 1836.6h0M409.8 1876.2h0M342.0 1989.8h0M349.7 1978.5h0M419.8 2058.6h0M419.0 2058.0h0M348.7 1934.6h0M434.2 2070.4h0M422.2 1920.6h0M329.3 1883.7h0M463.1 1881.3h0M380.5 2022.3h0M421.3 1905.5h0M515.9 1981.3h0M411.7 2038.1h0M375.6 2027.5h0M386.1 1889.7h0M336.7 2000.2h0M400.8 1953.2h0M367.0 1945.5h0M443.0 2062.8h0M379.4 1989.7h0M281.9 1867.2h0M352.0 1888.0h0M436.9 1785.8h0M424.4 2026.5h0M528.6 1924.4h0M422.3 2095.8h0M451.5 1885.8h0M373.4 1867.4h0M399.0 2026.8h0M477.2 2015.8h0M449.0 2059.1h0M345.2 2025.6h0M453.8 1951.7h0M337.1 1980.8h0M404.3 2027.3h0M286.7 1935.2h0M517.0 2079.3h0M385.9 1942.0h0M378.8 1883.5h0M367.4 1963.8h0M322.5 1960.8h0M411.0 1856.4h0M367.6 1833.0h0M397.4 1986.4h0M363.7 1973.6h0M428.2 2026.4h0M314.3 1939.6h0M308.0 1803.9h0M456.4 2033.2h0M471.4 2033.8h0M364.5 1985.6h0M362.3 2084.9h0M252.8 2002.1h0M361.4 2029.4h0M467.4 1912.6h0M477.2 2061.3h0M299.8 2125.5h0M323.7 1850.3h0M451.8 1905.1h0M408.4 1963.5h0M333.4 2105.8h0M484.5 1974.1h0M490.1 1966.8h0M410.5 1941.3h0M315.3 1937.9h0M337.5 2002.8h0M404.0 1917.9h0M472.3 1999.7h0M504.9 1933.8h0M371.7 1903.8h0M409.2 1953.6h0M397.2 2119.0h0M443.1 1913.8h0M419.5 1945.0h0M376.6 1949.1h0M399.1 2023.0h0M456.1 1971.0h0M346.3 1967.4h0M383.6 1944.5h0M321.9 1956.0h0M285.7 2076.6h0M439.3 2032.3h0M338.9 1988.3h0M472.1 1949.1h0M330.7 1958.0h0M258.9 2048.4h0M421.3 1849.2h0M437.2 2066.0h0M433.7 2025.0h0M487.8 1986.9h0M479.7 1950.2h0M353.8 1939.8h0M332.3 2001.5h0M352.9 1999.2h0M414.1 2108.2h0M501.4 1920.5h0M384.7 1953.3h0M358.0 2123.4h0M469.5 1949.0h0M312.1 1912.5h0M396.7 2103.2h0M318.1 2092.5h0M309.0 1997.7h0M325.3 1930.8h0M251.5 2019.1h0M396.9 1877.8h0M266.9 1961.3h0M393.4 1842.4h0M424.0 1956.5h0M326.5 1898.0h0M247.0 2029.7h0M453.5 1950.1h0M318.9 1869.7h0M376.1 1890.5h0M411.6 1891.5h0M448.5 2068.9h0M358.6 1896.4h0M216.7 1969.4h0M416.9 1885.4h0M461.3 1908.6h0M323.4 2037.3h0M421.7 1788.5h0M352.3 1855.6h0M381.0 1981.9h0M366.6 1979.4h0M448.2 1938.5h0M317.9 1881.8h0M444.3 2114.2h0M383.8 1998.8h0M345.7 1916.3h0M451.9 1922.1h0M404.6 1976.8h0M463.7 1986.5h0M390.7 1940.3h0M362.1 2053.5h0M522.5 1830.5h0M455.6 1880.8h0M357.0 1939.7h0M367.5 1933.9h0M357.9 2120.5h0M307.1 1910.0h0M347.6 1982.5h0M316.7 1964.9h0M401.0 2133.5h0M432.7 1961.1h0M400.4 2124.4h0M387.5 1907.1h0M357.0 1934.9h0M447.0 1880.6h0M359.5 1964.0h0M338.7 2021.8h0M370.6 2008.8h0M424.8 2094.0h0M498.0 1892.2h0M315.5 1866.7h0M422.5 2011.4h0M394.1 1963.1h0M485.1 2042.7h0M407.6 2019.5h0M304.5 2067.5h0M517.7 1979.0h0M368.6 2072.8h0M364.9 1975.0h0M431.0 1953.7h0M436.7 1801.2h0M249.0 2029.8h0M426.3 1986.2h0M371.5 1971.0h0M421.1 1869.2h0M409.9 1900.1h0M519.3 1998.3h0M411.1 2053.8h0M451.2 2048.7h0M356.2 1980.3h0M447.8 1986.5h0M402.3 1918.9h0M406.3 2085.8h0M323.4 1850.9h0M323.4 1835.2h0M470.9 2128.4h0M424.7 1975.3h0M477.4 2057.5h0M259.7 1961.9h0M541.1 1934.1h0M352.9 1914.9h0M488.9 1930.3h0M420.3 2070.4h0M406.2 1969.6h0M333.5 1862.5h0M459.5 1857.3h0M459.1 2074.2h0M484.6 1952.3h0M345.2 1976.2h0M472.4 2014.5h0M423.8 1957.4h0M450.2 1801.8h0M325.5 2100.7h0M423.3 2027.9h0M282.2 1895.8h0M369.7 1959.2h0M465.7 1919.8h0M402.8 1906.4h0M381.7 1999.7h0M419.9 2052.5h0M320.6 2034.2h0M422.1 1900.4h0M472.9 1911.0h0M373.5 2013.0h0M479.4 1933.2h0M482.8 2002.3h0M349.8 2029.9h0M399.2 1906.7h0M386.4 2074.0h0M416.0 1946.9h0M443.3 1848.9h0M434.0 2081.1h0M326.7 1874.2h0M344.4 1950.3h0M350.8 1966.5h0M336.1 1991.8h0M429.2 2006.3h0M361.5 2038.8h0M303.3 1912.3h0M390.7 2076.7h0M372.5 2020.0h0M492.1 2135.4h0M498.0 1900.6h0M411.2 2010.9h0M435.2 2011.8h0M388.5 1972.2h0M314.0 2029.3h0M414.6 1919.3h0M501.8 1969.2h0M357.0 2018.5h0M421.8 2023.6h0M390.3 2033.4h0M402.8 2070.7h0M415.0 1899.3h0M335.3 2017.1h0M451.1 1844.8h0M431.8 1962.6h0M412.1 1900.0h0M329.9 1918.8h0M347.8 1933.2h0M401.8 1972.2h0M507.4 1888.6h0M369.8 1976.8h0M432.2 1881.2h0M310.8 1990.3h0M418.1 2018.0h0M433.7 1838.9h0M458.6 1958.2h0M518.8 1935.6h0M268.5 1958.8h0M407.0 1995.5h0M408.0 1923.8h0M297.4 1953.9h0M376.8 1912.7h0M399.1 1942.8h0M276.5 1897.8h0M346.2 1946.5h0M491.7 1965.1h0M427.9 1790.7h0M466.9 1922.9h0M426.9 1876.9h0M393.5 2036.9h0M394.0 1987.0h0M350.8 1908.0h0M411.4 1952.6h0M403.1 1912.1h0M372.7 2031.5h0M478.4 1934.7h0M357.5 1978.6h0M449.9 1991.8h0M459.2 1952.4h0M339.2 1809.4h0M445.4 1989.8h0M357.6 1997.9h0M327.7 2054.8h0M456.2 2066.6h0M369.7 2088.0h0M443.9 2102.2h0M295.9 2046.5h0M472.5 1944.5h0M451.8 1978.4h0M481.2 1948.6h0M398.7 1869.8h0M516.7 1899.1h0M334.2 1892.9h0M400.8 1973.8h0M421.5 2099.5h0M454.0 1846.8h0M406.3 1953.5h0M440.3 1979.3h0M474.2 1980.5h0M511.1 1888.8h0M464.6 2046.2h0M353.2 1856.8h0M357.6 2000.8h0M493.0 1845.5h0M379.3 1862.1h0M442.3 1981.7h0M397.9 2031.5h0M413.9 2092.3h0M379.1 1919.1h0M396.6 1965.8h0M471.3 1936.2h0M365.2 1912.2h0M350.8 1803.4h0M403.8 2011.4h0M405.7 1904.2h0M450.0 2029.1h0M411.1 2022.5h0M389.7 2002.8h0M427.5 1866.7h0M366.5 1908.8h0M419.1 1751.2h0M412.7 1967.4h0M385.4 2002.1h0M308.3 1987.3h0M351.4 1916.9h0M476.7 1940.2h0M458.2 1965.6h0M378.2 1936.5h0M310.7 1939.8h0M404.0 2087.1h0M440.0 2038.2h0M341.3 1906.2h0M417.6 2013.0h0M333.4 2055.9h0M358.3 1991.0h0M368.0 2030.4h0M446.9 2054.8h0M342.6 1981.3h0M527.9 1969.4h0M423.5 1979.5h0M366.3 2113.6h0M488.3 1911.1h0M426.1 2125.8h0M423.7 1976.0h0M454.0 2039.0h0M324.9 1900.5h0M489.9 1921.4h0M393.6 1914.5h0M508.8 1864.7h0M406.6 1936.4h0M378.7 1866.0h0M348.9 1951.8h0M410.7 1813.2h0M401.3 1895.1h0M392.8 1931.1h0M388.7 1948.1h0M423.1 1969.1h0M296.2 1765.3h0M310.5 1992.5h0M296.4 1882.4h0M503.7 1937.4h0M383.6 1996.4h0M433.0 1924.2h0M401.5 1795.6h0M414.4 2016.7h0M292.7 2045.0h0M507.8 1750.5h0M382.9 2086.3h0M435.7 1907.6h0M358.4 1935.6h0M435.3 1894.6h0M307.7 1978.3h0M348.8 2110.3h0M333.5 1990.6h0M381.5 1841.5h0M364.3 1797.7h0M417.3 1885.5h0M320.9 1832.6h0M477.7 2010.8h0M334.9 1952.5h0M431.3 2015.7h0M395.0 1788.9h0M495.2 1955.4h0M476.9 1857.5h0M441.8 2080.8h0M463.2 1862.3h0M379.6 2099.1h0M345.8 2025.9h0M384.2 1839.3h0M451.4 2060.3h0M433.0 1989.0h0M455.0 1798.1h0M392.3 2113.7h0M424.0 2059.5h0M380.4 1996.9h0M325.6 2011.9h0M411.6 1935.3h0M393.7 1975.1h0M407.2 2032.9h0M455.4 1783.6h0M410.0 2063.8h0M326.1 1952.7h0M537.1 1914.2h0M454.7 1988.6h0M309.4 1945.6h0M285.9 1937.3h0M449.3 2023.0h0M412.8 1921.5h0M433.3 2073.1h0M441.1 2052.8h0M422.4 2006.5h0M342.0 2097.3h0M332.1 1891.8h0M353.1 1905.3h0M474.8 1950.3h0M379.5 1944.3h0M395.1 2081.7h0M485.0 1930.8h0M497.7 2019.8h0M413.9 2080.0h0M402.7 1996.0h0M404.8 1869.3h0M320.9 1885.2h0M343.2 1917.9h0M362.8 2062.6h0M396.2 2034.6h0M415.5 1894.5h0M378.6 1839.9h0M292.2 2000.0h0M392.5 1973.9h0M452.9 1850.9h0M385.1 1774.7h0M342.0 2016.9h0M302.5 1854.1h0M375.4 2109.7h0M439.3 1950.0h0M430.5 1973.1h0M369.4 1920.0h0M420.0 1955.4h0M439.3 1918.1h0M442.9 1929.9h0M464.0 2050.4h0M351.7 2161.8h0M415.4 1908.1h0M319.3 1974.2h0M401.7 1900.9h0M328.6 1925.5h0M330.0 1910.0h0M340.9 2002.6h0M242.3 2137.1h0M366.8 1961.8h0M314.7 2058.3h0M384.8 1935.4h0M338.7 2016.4h0M421.7 1911.5h0M490.1 1888.3h0M464.8 1980.0h0M312.1 1942.7h0M425.6 1930.0h0M398.8 1957.4h0M418.3 1909.4h0M503.4 1993.3h0M481.4 1944.6h0M405.6 1882.3h0M396.2 2094.6h0M412.1 1904.0h0M361.2 2015.7h0M383.8 2139.3h0M407.6 1968.3h0M437.4 2105.5h0M303.7 1905.8h0M353.0 1797.8h0M384.2 1958.1h0M444.5 2020.6h0M433.0 2017.7h0M368.5 2210.8h0M482.5 1939.2h0M340.5 2009.7h0M454.5 2007.9h0M440.9 2050.6h0M419.6 1887.9h0M365.2 1815.6h0M449.4 1921.2h0M405.2 2147.5h0M347.1 1967.9h0M346.3 1810.7h0M453.0 1958.7h0M390.7 2032.5h0M382.4 2025.0h0M469.5 1908.5h0M420.3 1979.3h0M457.5 2175.0h0M335.5 2097.9h0M401.2 2023.5h0M417.2 1955.4h0M321.3 1967.0h0M342.3 2090.6h0M421.4 1918.3h0M372.9 2061.6h0M310.8 1983.0h0M403.3 1890.1h0M456.7 1932.9h0M456.8 1983.6h0M357.5 1957.3h0M453.8 1888.0h0M346.3 1958.6h0M427.3 2018.7h0M337.7 1866.3h0M388.8 1947.5h0M411.2 1837.0h0M364.7 1872.3h0M488.2 1792.3h0M339.7 1921.7h0M290.8 1927.7h0M349.0 1834.1h0M365.4 2076.3h0M401.9 2079.9h0M468.8 1977.5h0M376.4 1780.3h0M273.7 1983.8h0M397.8 1980.1h0M343.0 1941.7h0M330.8 2038.5h0M399.3 1796.4h0M359.6 2069.2h0M332.5 1872.3h0M337.0 1919.1h0M399.4 1951.4h0M403.2 1916.8h0M432.0 2084.4h0M342.3 1989.6h0M412.2 1980.7h0M392.0 2006.0h0M381.8 1913.1h0M349.1 2028.8h0M364.0 1815.5h0M366.6 1923.2h0M444.9 2051.2h0M330.7 2070.4h0M414.5 2096.2h0M364.4 2021.7h0M437.4 2098.2h0M319.8 1964.8h0M401.9 1950.0h0M343.6 1946.0h0M399.4 2128.9h0M397.8 2055.7h0M365.1 1986.4h0M393.1 1974.4h0M310.6 1967.2h0M546.8 1967.1h0M319.0 2159.9h0M422.0 1997.2h0M305.7 1943.1h0M381.4 1954.5h0M336.5 2022.3h0M318.2 2062.7h0M394.1 1931.0h0M304.5 1996.2h0M416.1 1844.3h0M492.5 1947.5h0M305.6 2068.7h0M333.4 1892.2h0M311.6 1887.8h0M378.0 1875.5h0M409.6 1880.0h0M387.3 1777.2h0M361.6 1958.4h0M429.5 1934.4h0M399.4 1993.0h0M341.9 2009.7h0M410.3 1919.4h0M321.3 2070.2h0M456.2 1980.7h0M456.2 2086.1h0M384.9 2012.7h0M426.3 2005.6h0M386.3 1926.7h0M438.0 1983.2h0M488.9 2003.9h0M398.9 1861.6h0M386.5 1988.5h0M385.3 1904.9h0M225.1 1889.8h0M400.7 2098.5h0M326.5 2007.9h0M317.9 2043.0h0M379.7 1964.7h0M413.8 1910.0h0M354.4 2046.7h0M311.1 1886.9h0M438.3 2024.8h0M346.0 1900.7h0M399.5 2120.7h0M479.1 1939.3h0M361.0 1956.7h0M290.8 1987.5h0M369.1 2052.0h0M346.1 1991.3h0M357.5 1919.4h0M496.0 1889.9h0M387.1 1997.4h0M503.8 1990.4h0M368.1 1987.7h0M494.9 2011.6h0M431.8 2153.8h0M342.4 2062.0h0M345.0 2070.5h0M424.9 2020.0h0M410.6 1989.1h0M223.9 1865.1h0M518.1 1974.8h0M386.8 2016.9h0M449.6 1983.1h0M455.1 2019.3h0M359.9 1980.9h0M454.2 1891.6h0M397.6 1903.8h0M378.6 1837.0h0M400.8 1913.0h0M457.9 1937.8h0M513.6 2061.4h0M351.2 2139.3h0M401.1 1999.7h0M319.6 1958.4h0M355.5 1858.2h0M329.5 2078.4h0M361.6 1963.0h0M346.7 1927.1h0M361.2 1953.3h0M394.2 2034.9h0M388.2 1951.4h0M342.4 2011.3h0M416.5 1936.1h0M286.1 1953.1h0M269.3 2084.8h0M393.2 2068.0h0M378.4 2033.2h0M489.0 2031.2h0M330.3 1832.7h0M357.3 1975.4h0M320.2 1797.8h0M351.1 1943.9h0M278.6 1943.4h0M430.5 1858.0h0M394.2 1945.6h0M400.8 1977.2h0M328.8 1998.1h0M505.4 1984.9h0M302.0 1926.7h0M494.7 1936.5h0M393.3 1844.9h0M293.7 1944.5h0M405.3 1896.6h0M406.5 1921.5h0M262.8 1928.5h0M420.0 2145.0h0M298.4 1981.4h0M406.3 1990.2h0M394.5 2083.2h0M455.4 1898.1h0M336.9 1955.8h0M300.1 1966.7h0M432.1 1908.7h0M369.5 1897.0h0M394.6 1996.4h0M327.1 2034.0h0M329.7 1962.1h0M403.2 1873.7h0M367.3 1865.4h0M446.3 1943.5h0M299.2 2019.9h0M364.6 2114.2h0M379.4 2011.9h0M321.2 1936.1h0M378.6 2032.1h0M466.0 1966.0h0M379.5 1880.6h0M348.2 1945.6h0M450.3 2109.6h0M373.7 1900.9h0M331.1 2028.8h0M471.1 2014.7h0M486.2 1963.4h0M365.3 1976.7h0M318.2 1940.0h0M354.8 1799.1h0M391.6 2007.7h0M467.8 1947.0h0M457.1 1891.5h0M461.3 1899.7h0M382.2 1846.9h0M490.7 1925.7h0M456.4 1952.9h0M405.9 2023.0h0M321.4 1997.2h0M370.0 1878.2h0M454.7 1948.2h0M468.4 1973.1h0M370.5 1914.0h0M393.0 1910.7h0M448.7 1914.5h0M474.1 1932.6h0M388.3 1909.9h0M529.0 1790.0h0M441.5 2059.0h0M461.0 2117.4h0M482.2 1825.2h0M401.8 1882.9h0M380.9 1945.5h0M455.0 2035.2h0M392.1 1895.9h0M413.2 1969.7h0M367.1 2040.2h0M471.4 1894.4h0M469.3 1870.1h0M363.9 1828.4h0M412.9 2110.1h0M319.6 1907.4h0M329.7 1970.0h0M454.8 1839.3h0M436.8 2127.0h0M374.1 1959.9h0M425.6 1795.9h0M336.8 2004.2h0M389.9 2023.5h0M332.2 1947.6h0M344.9 1864.0h0M430.6 2105.9h0M336.5 1994.2h0M427.9 2075.8h0M350.2 1831.7h0M418.9 1895.5h0M315.6 1933.5h0M388.5 1975.3h0M378.0 1784.8h0M261.4 1999.2h0M470.3 2003.9h0M326.8 2041.8h0M333.9 2072.9h0M409.4 2035.1h0M341.9 2014.5h0M270.8 2070.6h0M318.3 1957.9h0M446.1 2043.9h0M401.4 1833.8h0M472.9 1936.6h0M311.1 2093.3h0M553.6 1937.8h0M462.7 2052.7h0M420.7 2024.3h0M415.2 1795.0h0M350.8 1926.3h0M343.7 1974.1h0M391.1 2025.5h0M527.2 1904.9h0M441.1 2120.4h0M394.1 1829.3h0M392.7 2073.4h0M432.2 1844.9h0M413.5 1955.7h0M366.9 2039.8h0M244.0 2095.4h0M506.0 1935.2h0M337.9 1843.7h0M419.2 1918.9h0M274.7 1791.3h0M427.7 2048.2h0M315.5 2092.0h0M363.2 1978.2h0M334.0 2055.5h0M381.4 1961.8h0M414.6 1903.0h0M477.0 1994.2h0M355.8 1864.3h0M405.3 1977.1h0M383.4 1866.4h0M471.7 1975.1h0M453.7 2016.4h0M384.2 1908.0h0M315.4 2043.6h0M381.5 2085.7h0M482.9 2013.8h0M400.5 2058.7h0M499.0 1962.0h0M437.8 2108.6h0M338.8 2027.7h0M388.1 2019.7h0M454.4 1960.1h0M424.3 2116.6h0M443.9 2021.9h0M406.9 1982.6h0M464.1 1957.2h0M375.7 1927.7h0M381.2 1990.1h0M399.1 1958.6h0M537.3 1886.5h0M410.7 2034.6h0M400.9 1985.1h0M322.6 1983.7h0M446.1 1901.3h0M424.0 2048.5h0M403.4 1986.5h0M308.7 2072.9h0M536.1 2081.2h0M499.0 1735.9h0M352.4 1926.0h0M399.3 1919.1h0M282.8 1944.6h0M295.6 1934.1h0M446.3 2121.9h0M426.5 2030.3h0M283.2 1861.6h0M430.4 2015.1h0M401.2 1903.3h0M365.3 2001.2h0M500.4 1958.5h0M254.9 2158.3h0M434.8 1917.8h0M479.9 2029.6h0M364.2 1916.6h0M444.2 1971.3h0M477.7 1913.9h0M349.7 1851.5h0M379.5 2143.1h0M259.8 2001.7h0M325.5 1884.0h0M512.3 1792.4h0M362.9 1766.0h0M350.5 2006.7h0M391.3 2050.0h0M437.2 1920.6h0M395.7 2005.1h0M368.8 1771.4h0M364.3 1990.4h0M404.3 1800.9h0M338.3 2021.2h0M342.8 2043.3h0M322.3 1801.9h0M317.7 2158.5h0M344.6 1905.4h0M419.6 1914.6h0M268.7 1911.9h0M455.2 1820.1h0M310.1 1944.5h0M403.6 1904.2h0M500.1 1933.8h0M314.2 1976.2h0M404.4 1962.8h0M376.7 2141.9h0M483.8 2006.5h0M381.7 2029.0h0M441.7 1989.2h0M336.8 2060.7h0M426.2 1860.2h0M436.7 2053.6h0M434.4 1939.6h0M381.3 1910.0h0M370.8 2069.4h0M432.1 1874.7h0M423.0 2072.5h0M487.2 2012.9h0M344.5 1939.9h0M355.7 1909.6h0M315.4 1973.4h0M407.0 1914.1h0M508.6 1929.7h0M444.7 2142.6h0M382.0 2132.9h0M422.3 2134.0h0M445.6 1884.8h0M351.9 1837.2h0M359.3 1909.0h0M411.2 1783.0h0M279.1 1929.4h0M352.9 2039.2h0M372.7 1899.4h0M420.9 1818.7h0M411.6 2051.2h0M448.2 1897.4h0M501.3 2002.5h0M422.7 2055.6h0M478.9 1884.1h0M394.6 1951.6h0M395.3 2010.0h0M436.3 1960.3h0M445.5 2082.5h0M413.5 1833.5h0M271.6 1931.4h0M381.6 1953.5h0M398.6 1958.9h0M474.0 1963.1h0M364.2 1922.0h0M431.8 1905.3h0M376.4 1953.9h0M341.8 1820.9h0M313.3 1864.1h0M325.8 1921.1h0M414.0 1919.7h0M310.5 2064.6h0M386.5 1778.9h0M383.3 1840.3h0M367.0 1920.8h0M411.7 1810.6h0M401.6 2050.3h0M306.1 2025.4h0M422.5 1987.6h0M486.0 1899.5h0M364.5 1995.8h0M429.5 1968.7h0M414.3 1944.3h0M417.2 1923.7h0M409.0 1909.1h0M366.0 1826.0h0M350.7 1960.2h0M350.1 1969.2h0M460.5 1950.0h0M347.6 1934.1h0M276.8 2040.8h0M480.9 1862.6h0M568.1 1882.8h0M444.4 1974.1h0M491.1 2056.3h0M460.2 2088.1h0M409.1 2021.4h0M337.8 2129.9h0M395.2 2023.3h0M404.4 1902.3h0M335.1 1920.4h0M376.2 1870.8h0M399.5 2012.3h0M418.2 1915.6h0M393.1 2080.4h0M448.9 1941.2h0M370.6 2038.1h0M266.7 2019.2h0M328.1 1916.3h0M373.4 2039.5h0M291.4 2013.7h0M485.1 1876.6h0M423.6 2163.6h0M377.6 2039.8h0M367.7 1974.4h0M250.4 1946.4h0M510.9 2119.7h0M356.6 2002.9h0M368.9 1957.6h0M343.8 2093.5h0M365.3 2101.9h0M374.6 2108.2h0M379.9 1856.8h0M353.4 1982.4h0M452.1 2030.0h0M330.1 2104.7h0M414.4 1991.5h0M356.7 2060.9h0M388.6 1846.2h0M394.1 2002.3h0M379.9 1930.6h0M413.4 1850.1h0M447.8 1914.5h0M312.0 1998.2h0M487.0 2071.2h0M318.8 1894.1h0M439.3 1996.7h0M426.3 2029.3h0M292.4 2100.5h0M319.3 1989.0h0M340.6 2009.7h0M476.9 2022.1h0M354.5 1972.5h0M395.3 1950.2h0M450.7 1895.9h0M431.4 1880.7h0M441.2 2040.4h0M410.7 2073.8h0M486.4 1975.3h0M416.3 1861.5h0M342.1 2071.9h0M272.3 2106.7h0M447.8 1915.7h0M410.2 1906.8h0M475.3 1912.2h0M481.1 1967.9h0M331.9 2052.6h0M436.1 2020.2h0M467.4 1925.8h0M305.2 1961.2h0M419.3 1998.7h0M348.7 2013.2h0M320.6 1988.2h0M438.0 2002.5h0M434.4 1836.4h0M382.0 1947.4h0M381.0 1935.3h0M406.9 2031.0h0M450.6 1961.9h0M384.6 2003.8h0M302.9 2042.0h0M360.3 2042.5h0M421.4 2000.9h0M482.4 2071.1h0M434.5 1888.9h0M341.4 1929.5h0M378.9 1910.5h0M338.8 2079.8h0M285.6 2197.1h0M394.6 1967.6h0M274.9 1983.4h0M423.3 2051.0h0M279.2 1905.1h0M490.2 1980.1h0M477.0 2033.6h0M474.0 1921.5h0M442.8 1977.5h0M268.8 1999.4h0M353.6 1993.9h0M393.0 1827.6h0M477.9 1954.9h0M408.9 1791.3h0M400.7 1989.8h0M430.8 1858.7h0M474.0 1846.6h0M429.5 2015.0h0M440.0 1879.1h0M424.6 1785.1h0M440.4 1973.6h0M433.5 1995.0h0M293.0 2090.9h0M409.1 2065.4h0M262.4 2062.9h0M367.5 1888.0h0M435.1 2003.3h0M528.3 2155.5h0M384.4 2019.2h0M429.1 1977.3h0M336.9 1910.1h0M311.8 1899.4h0M424.1 2075.8h0M254.0 1843.1h0M358.8 1998.2h0M409.2 2101.1h0M412.1 1899.5h0M457.8 1789.8h0M375.3 1993.5h0M435.8 1937.4h0M455.1 1962.6h0M329.4 1967.7h0M445.4 2003.5h0M453.9 2019.8h0M457.0 2044.7h0M263.8 1921.4h0M430.0 1859.6h0M411.6 1884.2h0M426.7 1856.7h0M453.8 1814.1h0M333.0 1804.8h0M534.0 1984.6h0M324.2 1975.8h0M400.5 2042.5h0M341.8 1939.4h0M449.8 1971.3h0M495.4 2195.0h0M475.4 2042.1h0M413.3 1646.3h0M385.4 1829.4h0M301.2 1843.5h0M434.3 1882.3h0M471.7 1943.3h0M352.9 2005.7h0M340.4 1891.2h0M369.5 2057.7h0M289.3 2053.5h0M411.7 1990.7h0M319.6 1964.3h0M458.9 1985.7h0M422.1 2008.3h0M396.7 1950.9h0M413.5 2063.4h0M440.6 1832.1h0M323.6 1957.8h0M422.4 1867.8h0M408.7 1877.1h0M490.9 2103.8h0M412.9 2076.4h0M363.2 1878.0h0M381.1 1990.4h0M372.5 1980.5h0M331.9 1944.6h0M446.2 2002.4h0M350.0 1990.6h0M443.1 1945.9h0M409.4 1978.1h0M453.7 2003.5h0M459.6 1983.9h0M436.2 1936.9h0M373.5 1865.5h0M424.4 2049.3h0M459.0 1977.8h0M418.8 1993.5h0M339.0 1989.1h0M408.7 2013.5h0M363.5 2183.0h0M445.3 1951.1h0M463.1 1983.2h0M428.8 1925.7h0M457.5 1962.0h0M392.0 2001.7h0M379.4 2071.3h0M380.6 2049.6h0M382.7 1868.2h0M417.7 1985.8h0M418.6 1926.8h0M323.2 2049.2h0M466.9 1951.8h0M394.1 1848.5h0M416.0 1875.0h0M410.4 2072.6h0M370.4 1932.6h0M339.1 1916.2h0M344.3 2035.4h0M356.9 2028.6h0M447.5 1960.6h0M389.6 1968.8h0M366.2 2118.6h0M304.0 1964.3h0M473.9 1899.7h0M508.9 1913.9h0M418.0 2083.8h0M479.6 1984.7h0M474.1 1888.0h0M453.8 1893.7h0M402.0 1905.5h0M389.9 2003.7h0M465.3 2077.1h0M477.1 2057.3h0M383.5 2132.6h0M412.2 1962.5h0M316.3 1909.0h0M382.3 1971.9h0M301.4 1968.3h0M360.0 1960.5h0M381.8 1962.3h0M419.3 2037.0h0M337.6 1977.3h0M387.4 2168.7h0M423.6 1997.8h0M393.9 1892.1h0M469.6 1839.9h0M309.9 1964.4h0M322.2 2065.2h0M477.8 1946.4h0M304.0 2108.2h0M495.5 1972.5h0M436.2 1949.1h0M376.4 1936.4h0M281.0 2093.0h0M428.1 1996.4h0M414.5 2009.0h0M419.1 2180.2h0M339.3 1902.3h0M425.0 1849.0h0M449.0 1955.2h0M267.1 1931.0h0M345.3 2147.8h0M347.2 2032.6h0M370.7 1993.2h0M338.9 2075.5h0M440.0 1877.7h0M469.3 2008.6h0M346.4 1870.3h0M393.8 1998.0h0M349.8 1956.3h0M448.9 1816.3h0M488.2 2026.2h0M334.4 1995.0h0M279.3 2012.1h0M514.4 2080.7h0M450.8 1922.7h0M501.5 1943.4h0M364.9 1870.3h0M378.1 1857.4h0M406.0 1906.3h0M353.1 1998.9h0M488.9 1968.4h0M360.2 1927.9h0M432.3 1839.5h0M402.2 1853.8h0M365.5 2086.2h0M392.0 2073.7h0M422.8 1872.9h0M467.9 1845.9h0M336.9 1987.9h0M383.7 2062.5h0M492.1 2050.5h0M395.8 2001.6h0M431.1 2028.1h0M354.1 2071.5h0M373.1 2018.9h0M324.4 1983.0h0M336.4 1960.3h0M230.8 1896.9h0M336.2 2071.8h0M308.9 2024.2h0M309.3 2061.4h0M489.2 1959.7h0M394.4 1939.6h0M358.6 1846.1h0M451.2 2091.1h0M453.2 1794.3h0M362.6 1995.9h0M397.8 1980.7h0M227.7 1963.3h0M344.9 2043.6h0M464.8 2075.5h0M364.8 2023.2h0M431.3 1845.5h0M310.2 1905.9h0M457.3 2069.1h0M319.9 1914.2h0M365.3 2051.5h0M450.4 2020.0h0M318.6 1984.8h0M312.6 1973.3h0M203.7 1881.1h0M441.7 2072.1h0M391.2 1816.8h0M416.6 2026.2h0M371.5 1851.6h0M345.9 2109.5h0M351.4 1990.9h0M354.2 1979.4h0M390.7 1743.2h0M381.6 1856.4h0M514.4 2086.2h0M473.2 1850.7h0M391.4 1933.1h0M366.7 2058.1h0M361.8 1932.2h0M447.0 1900.6h0M375.1 1791.0h0M393.6 2024.0h0M368.4 1946.4h0M410.8 1971.6h0M417.9 1805.8h0M344.5 2031.6h0M348.6 1935.5h0M364.0 2040.0h0M388.7 2100.4h0M367.5 1953.2h0M476.0 2049.9h0M277.0 1985.9h0M379.6 1855.5h0M392.3 2085.6h0M297.3 1995.7h0M389.2 2220.8h0M555.4 1890.4h0M365.4 2004.9h0M298.3 2015.3h0M389.4 1956.0h0M419.5 2184.0h0M372.8 1960.6h0M301.4 1902.8h0M420.0 1944.4h0M387.9 1927.3h0M346.9 1885.0h0M431.8 1974.6h0M312.9 2033.3h0M443.2 1962.1h0M379.7 2097.1h0M317.4 1999.8h0M454.5 1852.0h0M343.4 2002.4h0M365.7 1858.7h0M359.6 1882.2h0M389.6 1905.1h0M417.6 1886.5h0M378.2 1980.5h0M432.0 1870.0h0M359.5 1909.9h0M463.7 2007.5h0M355.8 1963.5h0M401.3 1947.1h0M476.9 1818.0h0M512.9 2093.1h0M447.0 1937.5h0M294.0 2031.1h0M497.5 2026.3h0M479.0 1976.6h0M458.1 1994.5h0M375.8 1864.3h0M364.6 2018.9h0M435.9 2006.6h0M405.1 2028.8h0M424.5 2004.9h0M371.9 1989.4h0M386.9 1896.8h0M407.9 1858.5h0M375.8 1830.0h0M338.3 2068.9h0M508.5 2007.4h0M369.5 1775.7h0M374.4 2009.3h0M390.8 1913.6h0M433.5 1913.7h0M410.2 1941.6h0M368.6 2118.7h0M481.0 2031.2h0M334.5 2036.4h0M414.7 2025.0h0M463.9 1871.5h0M413.8 1990.9h0M426.0 2003.1h0M380.0 2070.3h0M341.3 2157.7h0M457.0 2015.7h0M321.1 1858.4h0M311.3 1985.1h0M423.3 2025.1h0M403.2 1952.8h0M265.6 1917.5h0M429.5 1941.2h0M462.3 1965.3h0M470.3 2082.0h0M225.4 1917.2h0M476.8 2084.2h0M388.5 1989.8h0M451.0 2092.5h0M477.9 1895.5h0M360.6 1891.5h0M375.1 2046.3h0M424.6 1988.3h0M399.4 2157.6h0M436.2 1930.4h0M427.0 1952.9h0M379.3 1932.1h0M240.8 1854.9h0M387.1 1837.6h0M334.4 1830.2h0M268.7 1973.5h0M379.3 1833.3h0M403.9 2118.8h0M415.4 1958.5h0M308.4 2012.2h0M434.0 1821.3h0M367.3 2056.0h0M390.5 1737.8h0M402.8 1977.9h0M405.1 1949.3h0M444.3 2008.9h0M529.5 1979.4h0M418.2 1973.2h0M335.0 1967.9h0M395.0 1795.6h0M536.7 1993.8h0M447.5 2001.7h0M396.5 2020.1h0M490.0 2041.2h0M370.4 2038.0h0M441.3 1913.5h0M414.3 2005.3h0M381.5 1991.0h0M365.0 1897.2h0M367.3 1883.8h0M568.8 2064.9h0M394.4 1853.5h0M450.7 2062.5h0M302.5 1940.3h0M477.8 2014.2h0M498.2 1919.3h0M373.9 1919.6h0M332.4 1873.0h0M398.5 2153.7h0M390.2 1998.1h0M266.1 1999.8h0M381.2 1903.8h0M293.2 2074.9h0M455.5 1931.5h0M347.0 1973.1h0M337.2 1806.8h0M336.5 2103.7h0M302.9 1968.5h0M383.9 1846.5h0M466.8 2166.1h0M434.3 1984.8h0M463.8 2050.3h0M235.6 2028.5h0M407.3 1999.8h0M446.4 1972.8h0M416.7 1892.6h0M345.4 1959.0h0M374.8 2103.7h0M471.5 1968.3h0M443.7 1940.9h0M308.9 1975.7h0M385.2 2022.0h0M397.5 1962.5h0M402.8 2064.8h0M411.3 1977.5h0M469.7 1855.1h0M247.9 1932.3h0M438.6 1842.0h0M330.0 2071.1h0M363.8 2033.3h0M395.9 1970.6h0M424.7 1824.9h0M428.9 1892.7h0M370.5 1856.6h0M386.6 2060.6h0M480.8 2069.3h0M390.4 1943.0h0M368.4 1838.2h0M556.9 2054.5h0M464.3 1961.6h0M391.4 1973.0h0M404.4 1829.6h0M400.1 1998.8h0M307.2 2055.0h0M360.1 2071.6h0M380.2 1917.3h0M365.3 1944.4h0M416.8 1874.7h0M446.3 1912.7h0M342.4 2021.5h0M297.2 2021.7h0M391.7 1981.9h0M374.6 1927.9h0M426.6 2031.8h0M351.9 1978.0h0M438.7 1928.8h0M436.7 1932.0h0M509.2 1982.0h0M382.3 1980.7h0M318.0 1865.0h0M320.7 2043.1h0M443.0 1964.5h0M265.4 1791.8h0M365.2 2124.9h0M469.7 2039.4h0M297.6 1937.8h0M301.6 1950.5h0M490.0 2072.9h0M304.8 1943.5h0M399.8 1866.0h0M457.9 1864.2h0M394.2 2004.8h0M375.1 1784.9h0M367.9 2032.4h0M329.2 1778.8h0M376.8 1944.5h0M326.0 1968.1h0M421.1 2085.0h0M337.8 1931.1h0M371.8 1940.3h0M442.0 1924.7h0M330.5 2120.2h0M237.3 1841.8h0M417.7 1829.1h0M485.1 1937.8h0M465.8 2009.3h0M321.4 1980.0h0M563.1 1935.9h0M373.7 1809.7h0M460.5 1969.6h0M351.8 1980.9h0M407.6 1957.8h0M492.5 1746.0h0M387.7 1984.6h0M369.6 1983.9h0M464.6 1936.2h0M430.8 2093.7h0M319.2 1956.8h0M430.9 2184.9h0M484.4 1841.9h0M460.0 1786.9h0M406.0 2115.2h0M361.9 2001.3h0M378.7 1867.6h0M394.2 2072.1h0M330.0 2032.3h0M403.5 1821.5h0M383.7 2046.9h0M416.2 2177.5h0M438.0 1960.2h0M346.3 2044.5h0M460.1 2047.8h0M371.3 1918.8h0M371.6 2091.9h0M423.9 1952.0h0M374.0 1797.1h0M384.2 1702.6h0M394.0 2023.3h0M460.0 1948.4h0M365.8 1870.2h0M383.7 1958.7h0M418.4 1982.5h0M410.6 1942.0h0M372.9 2000.4h0M336.5 1871.3h0M425.9 1833.3h0M399.3 1911.8h0M245.7 2040.4h0M292.4 2032.2h0M345.2 1945.9h0M413.4 1953.4h0M331.6 1853.6h0M405.1 1941.0h0M355.9 1918.6h0M385.2 1944.5h0M326.7 1986.4h0M388.5 2036.7h0M388.3 1855.9h0M345.1 2029.5h0M337.2 1885.8h0M335.9 1785.5h0M427.2 1960.7h0M317.4 1980.7h0M428.1 2015.4h0M421.6 2045.1h0M382.6 1997.7h0M365.0 1830.4h0M400.1 2017.8h0M352.8 2092.6h0M464.5 2057.7h0M439.1 1945.8h0M405.3 2081.2h0M417.0 1920.1h0M453.7 2000.3h0M369.6 1993.3h0M402.1 1937.9h0M369.4 1910.7h0M440.0 2021.7h0M350.4 2016.4h0M349.9 1895.9h0M379.6 2020.1h0M300.1 1871.0h0M420.2 1913.6h0M370.6 1896.5h0M381.2 1942.9h0M400.8 1878.2h0M393.9 1788.8h0M474.2 2086.5h0M436.5 1950.3h0M327.5 1824.2h0M480.2 2000.8h0M370.5 2059.2h0M422.5 2044.9h0M432.8 1924.7h0M367.7 1992.4h0M367.4 2009.7h0M356.4 2037.2h0M312.6 1946.9h0M386.8 1956.5h0M206.1 1987.2h0M451.9 1874.0h0M374.8 1896.3h0M438.2 1980.1h0M450.1 1933.3h0M344.9 1976.5h0M470.1 1982.1h0M490.3 2042.9h0M368.2 1948.5h0M398.8 1995.0h0M421.1 2028.3h0M350.0 2025.6h0M530.0 2034.5h0M237.3 2122.0h0M430.8 2085.4h0M434.0 1901.7h0M393.8 1900.0h0M384.8 1916.7h0M473.7 1807.3h0M385.0 2032.4h0M382.6 1892.8h0M345.8 1916.7h0M470.5 1916.0h0M445.3 1891.5h0M298.1 1897.6h0M454.4 1853.0h0M317.0 2016.2h0M391.2 1909.9h0M455.4 2048.9h0M389.8 2106.8h0M486.0 1979.2h0M406.2 1972.1h0M421.7 2036.9h0M451.9 2050.3h0M449.6 1878.2h0M434.5 2140.6h0M455.4 1953.6h0M475.1 1941.2h0M410.4 1968.0h0M481.5 2166.8h0M439.9 2137.0h0M379.6 1769.7h0M367.4 1916.9h0M398.1 1946.3h0M364.9 2034.2h0M406.7 1879.2h0M415.1 2002.5h0M418.0 2047.6h0M392.0 1966.8h0M474.9 1946.3h0M388.3 2085.1h0M428.7 1966.8h0M436.4 1996.6h0M278.6 1877.0h0M367.7 1957.1h0M345.0 1773.0h0M375.1 1917.8h0M323.9 1906.2h0M362.7 1907.9h0M334.2 1938.5h0M392.6 1919.5h0M361.1 1776.6h0M353.8 1998.5h0M393.9 2043.5h0M342.0 1896.1h0M425.1 2053.2h0M400.1 2027.8h0M334.6 2067.6h0M353.4 1988.9h0M433.9 1977.0h0M325.9 1895.9h0M401.9 2041.0h0M381.9 1932.5h0M339.3 1901.4h0M378.6 2075.6h0M440.7 2039.6h0M370.1 2009.0h0M281.3 2059.8h0M433.0 1880.0h0M427.6 1839.7h0M352.7 1973.5h0M380.1 2052.2h0M456.6 2039.6h0M305.5 1970.1h0M523.8 2005.3h0M353.8 1876.0h0M365.3 2097.3h0M431.8 2162.3h0M421.4 2060.6h0M350.9 2189.2h0M402.4 2082.2h0M510.5 2058.4h0M479.3 1912.3h0M435.6 2005.6h0M435.6 2034.0h0M409.7 1942.6h0M443.0 2013.5h0M353.3 1968.8h0M291.3 2013.7h0M335.9 1985.9h0M379.4 1836.9h0M284.2 2024.9h0M397.0 1829.3h0M359.8 1946.1h0M386.8 1825.2h0M334.0 1892.0h0M305.9 1930.3h0M392.1 2063.8h0M508.8 1870.1h0M391.5 1956.9h0M374.9 1976.7h0M463.9 1890.5h0M392.1 1851.4h0M447.2 2042.9h0M410.5 1914.0h0M396.2 1922.6h0M386.6 2061.5h0M449.4 1995.7h0M322.2 1954.8h0M479.6 1876.6h0M395.3 2152.0h0M296.7 1902.6h0M445.3 2019.0h0M355.4 2052.4h0M412.5 1948.2h0M386.4 2008.6h0M397.0 1866.3h0M316.8 1953.2h0M421.2 2073.4h0M309.0 1865.9h0M407.6 2065.6h0M371.1 1971.2h0M404.8 1911.3h0M388.7 1902.5h0M406.2 1758.1h0M436.0 1997.9h0M391.6 1901.7h0M396.6 2053.6h0M357.0 1809.0h0M370.3 1925.9h0M375.9 1971.3h0M337.4 1854.0h0M400.0 1987.4h0M342.8 1835.0h0M406.2 1959.9h0M471.7 1876.4h0M400.6 1993.5h0M405.2 1945.8h0M343.3 1998.5h0M364.5 1947.6h0M302.0 1926.0h0M377.6 1987.9h0M352.9 1921.6h0M440.7 1936.1h0M426.5 2058.2h0M377.9 1990.1h0M354.5 1925.0h0M424.1 1946.6h0M449.8 2035.0h0M392.2 1763.9h0M352.6 1787.1h0M293.9 1972.3h0M335.4 2021.2h0M397.1 1943.8h0M376.7 1871.3h0M397.1 1870.3h0M484.6 1991.5h0M476.5 1982.0h0M450.8 1897.4h0M318.9 2054.4h0M429.8 2146.2h0M522.9 1998.3h0M517.3 2010.3h0M328.4 2016.0h0M362.3 2099.8h0M428.8 1957.4h0M362.2 1956.3h0M398.5 1937.5h0M374.8 2020.3h0M391.6 1909.3h0M477.4 1866.2h0M513.5 2117.7h0M464.4 1868.1h0M387.5 1895.7h0M398.8 2041.9h0M503.0 1959.7h0M416.0 2023.3h0M357.8 1883.8h0M393.5 2013.1h0M392.5 2042.9h0M390.9 2040.6h0M317.0 1868.7h0M347.8 1931.4h0M406.5 1996.4h0M435.7 1965.4h0M356.5 1909.8h0M469.0 2040.0h0M380.2 1955.2h0M318.8 1809.6h0M350.7 2036.8h0M487.7 1931.1h0M438.2 1893.2h0M408.8 1893.9h0M419.1 2030.2h0M394.8 2035.0h0M418.0 1955.3h0M396.9 1896.3h0M233.4 2138.6h0M321.6 1903.0h0M404.7 1939.6h0M379.9 2001.2h0M452.9 1868.1h0M439.7 1877.2h0M457.7 2008.3h0M478.0 1798.9h0M406.1 1947.2h0M454.0 1913.7h0M378.7 1937.8h0M491.2 1952.3h0M290.0 1907.2h0M355.7 2023.1h0M386.9 2012.5h0M395.5 1855.0h0M335.9 1841.2h0M332.3 2005.3h0M349.1 1962.7h0M475.8 1880.9h0M387.8 2029.7h0M423.8 1915.1h0M355.4 1991.1h0M362.0 1971.7h0M384.8 2002.9h0M337.8 1879.8h0M377.3 2145.4h0M536.7 1921.8h0M382.5 2111.5h0M390.1 1924.2h0M291.7 2072.9h0M380.2 1948.4h0M455.7 2018.9h0M486.7 1887.0h0M443.1 1951.5h0M415.9 2114.7h0M267.3 2031.8h0M372.5 1900.5h0M411.0 1961.2h0M526.1 1914.5h0M369.7 1938.8h0M400.5 1994.5h0M373.3 1966.2h0M427.7 1876.0h0M434.8 1915.6h0M323.4 1987.1h0M423.1 1973.0h0M366.6 1928.5h0M459.2 1849.6h0M398.0 2074.7h0M385.7 1918.5h0M388.3 1945.2h0M476.6 1971.6h0M321.7 2027.8h0M474.6 2105.9h0M311.9 2062.4h0M430.0 1920.0h0M414.9 2049.3h0M231.2 1924.6h0M361.0 1987.0h0M435.1 1801.4h0M505.9 1885.8h0M374.8 2047.3h0M394.8 2121.2h0M434.6 1908.3h0M382.6 1954.1h0M472.9 1998.3h0M385.0 2049.0h0M506.2 2137.4h0M434.2 1807.0h0M378.4 2005.2h0M481.8 2113.4h0M353.5 1974.7h0M501.8 1874.0h0M431.2 2113.6h0M407.6 2004.3h0M420.0 2089.9h0M338.7 1990.3h0M397.1 1910.4h0M408.6 1830.2h0M390.5 1987.8h0M380.7 2040.1h0M406.8 1973.5h0M394.6 1964.0h0M406.8 1966.2h0M358.3 2066.3h0M425.0 1929.1h0M412.1 2215.0h0M383.1 1927.9h0M396.2 1922.9h0M310.2 2017.5h0M365.6 2131.7h0M426.9 1978.6h0M296.4 1758.3h0M342.1 1869.6h0M365.5 1894.7h0M332.3 2060.6h0M538.5 2097.4h0M341.4 1970.5h0M419.8 2096.6h0M411.5 1893.8h0M351.8 2043.5h0M470.8 2127.4h0M484.9 2007.1h0M445.9 1840.0h0M433.1 1990.7h0M501.9 1969.6h0M307.7 1784.1h0M481.8 2066.5h0M344.7 2071.6h0M441.1 1954.1h0M387.9 1927.4h0M454.5 1984.7h0M459.0 2077.5h0M354.2 1943.9h0M446.2 2029.4h0M441.6 1858.3h0M436.5 1894.0h0M421.1 1903.5h0M453.5 1964.0h0M471.9 1857.8h0M348.4 1919.7h0M400.1 2057.4h0M454.3 1874.5h0M363.5 1896.5h0M357.8 2095.1h0M412.1 1998.7h0M265.2 1908.5h0M428.9 1967.5h0M344.5 1928.4h0M411.4 1861.3h0M378.9 1957.2h0M373.7 2029.1h0M352.7 1977.6h0M510.5 1981.9h0M336.3 1990.4h0M397.3 2000.7h0M400.8 2118.1h0M472.2 1866.8h0M497.6 1836.9h0M340.6 1947.6h0M471.5 2089.9h0M327.3 2041.1h0M407.2 2051.5h0M455.8 1980.8h0M447.3 2030.3h0M483.8 1947.6h0M380.8 2000.5h0M467.2 2040.4h0M600.2 1982.9h0M385.3 2088.1h0M417.2 2101.2h0M373.6 1785.7h0M404.7 1864.0h0M416.3 1889.5h0M414.2 1985.7h0M438.5 2026.5h0M270.4 2019.3h0M430.7 1777.8h0M403.5 1992.4h0M335.6 1936.4h0M313.9 1840.7h0M378.6 1842.4h0M493.2 1997.8h0M509.4 2021.2h0M374.8 2036.2h0M281.6 2101.0h0M361.2 2104.4h0M422.3 1966.9h0M372.6 1963.8h0M428.6 2015.1h0M501.6 1960.5h0M529.2 1970.4h0M387.6 1965.1h0M351.4 1914.5h0M246.0 1829.2h0M430.3 2021.9h0M298.9 1947.5h0M438.5 2127.9h0M387.5 1978.0h0M451.1 1961.0h0M443.5 2059.7h0M399.5 1889.5h0M377.8 2082.9h0M372.0 1864.4h0M348.0 1835.9h0M467.0 2144.4h0M405.3 1864.7h0M441.4 2001.1h0M333.8 1894.1h0M421.6 2107.9h0M523.7 2019.9h0M399.5 2156.1h0M363.8 1941.2h0M408.9 2032.4h0M452.0 1994.7h0M368.9 1965.3h0M345.4 2071.8h0M427.9 1827.7h0M449.8 1995.6h0M371.1 2029.1h0M472.1 1946.8h0M366.2 1915.4h0M320.5 2106.0h0M343.7 1825.9h0M377.1 1954.6h0M427.7 1953.5h0M407.1 2052.3h0M338.1 1885.1h0M301.5 1967.2h0M430.7 1993.6h0M357.9 2100.5h0M352.1 1965.1h0M382.6 1891.9h0M406.5 1918.7h0M498.6 1988.3h0M471.4 2096.1h0M342.5 1912.6h0M492.6 2025.4h0M477.7 1982.4h0M347.8 2068.6h0M457.7 2019.6h0M378.8 1979.6h0M437.1 1972.1h0M380.5 1960.6h0M421.5 1997.4h0M271.7 1862.2h0M421.8 2059.6h0M422.9 2010.2h0M435.2 2078.2h0M264.9 1925.6h0M384.2 1939.7h0M451.3 1944.2h0M468.2 1763.1h0M290.3 1988.5h0M398.7 1937.7h0M320.8 1858.8h0M402.0 1950.9h0M332.6 1948.7h0M417.2 1952.7h0M363.5 2048.1h0M350.9 1950.4h0M427.6 2095.5h0M444.5 1936.8h0M344.0 1922.5h0M445.1 2187.1h0M281.8 1704.7h0M457.1 1921.1h0M367.0 1854.5h0M413.7 1963.0h0M275.1 1948.9h0M380.4 1981.4h0M333.1 2041.8h0M431.0 1952.5h0M401.4 2038.0h0M420.3 2048.4h0M437.2 1888.5h0M360.8 2167.2h0M358.4 1979.2h0M400.1 1918.7h0M384.0 1943.8h0M300.8 1916.2h0M388.0 2047.8h0M380.4 1827.9h0M404.8 1877.0h0M462.3 1929.1h0M369.0 1991.6h0M391.7 1873.6h0M414.8 1764.7h0M371.8 2046.6h0M371.3 1789.9h0M446.5 1929.4h0M397.1 2090.1h0M442.4 1810.2h0M392.5 2056.4h0M351.8 1948.2h0M461.4 2011.8h0M391.8 2078.2h0M368.0 2063.0h0M419.6 1947.9h0M391.1 1985.4h0M317.0 1842.0h0M489.6 1773.9h0M405.3 2009.5h0M333.8 1858.1h0M457.2 1875.3h0M421.5 2048.7h0M300.3 1922.3h0M475.0 1808.0h0M473.0 1910.9h0M358.4 1894.5h0M378.7 1888.1h0M434.8 1923.6h0M341.1 1955.5h0M306.5 1951.4h0M393.2 2062.6h0M309.2 1924.5h0M315.8 1889.2h0M445.8 2025.0h0M277.9 1968.4h0M368.5 1922.2h0M394.2 2013.1h0M409.7 2031.6h0M367.5 1888.7h0M447.6 1898.3h0M421.8 1847.5h0M442.5 1922.9h0M341.2 2118.6h0M355.4 1895.5h0M414.7 1913.7h0M417.2 2076.3h0M414.6 1884.5h0M474.5 1969.8h0M459.9 1897.0h0M448.6 1976.3h0M445.1 1965.7h0M381.9 1920.7h0M350.2 1889.1h0M582.8 2052.4h0M412.2 2064.3h0M387.1 2098.0h0M401.0 2006.5h0M505.8 1773.7h0M428.9 2143.4h0M533.9 2054.3h0M422.3 2002.7h0M384.0 1859.4h0M295.1 2008.2h0M501.0 1932.1h0M423.6 2125.8h0M492.7 1934.9h0M253.1 1757.0h0M271.2 2058.1h0M411.6 1825.0h0M343.7 1987.5h0M421.0 1899.0h0M425.3 2009.1h0M392.8 1941.3h0M475.2 2031.8h0M372.2 1977.5h0M445.6 2028.1h0M406.2 1935.5h0M398.5 1964.9h0M444.1 1948.0h0M332.9 2015.3h0M354.9 2008.0h0M326.1 1987.8h0M340.9 1933.0h0M428.4 2074.0h0M423.8 1976.0h0M356.9 2057.3h0M523.8 2068.3h0M380.3 1871.2h0M345.6 1934.9h0M522.6 1994.7h0M266.1 1958.6h0M365.0 2007.0h0M305.9 1759.8h0M435.6 2061.4h0M471.0 1999.8h0M341.1 1995.1h0M452.8 1914.8h0M302.1 2039.1h0M427.3 1944.7h0M497.7 2154.6h0M364.2 1827.3h0M540.5 1937.8h0M361.6 1936.2h0M374.7 1887.1h0M354.3 1891.6h0M320.7 1989.9h0M387.5 1878.8h0M394.7 1952.2h0M468.6 2029.8h0M363.5 2143.1h0M306.9 2022.7h0M387.9 2098.9h0M356.3 1882.5h0M406.3 1912.1h0M348.4 1972.8h0M337.8 1741.2h0M416.8 1869.7h0M437.1 1972.0h0M423.3 2014.8h0M497.9 1925.6h0M368.8 1958.5h0M406.8 2085.4h0M411.6 1830.2h0M285.2 1858.1h0M371.0 1970.1h0M379.8 2027.4h0M479.6 1859.5h0M369.0 1907.9h0M412.9 1919.2h0M437.0 1910.5h0M384.7 2055.6h0M437.0 1844.7h0M404.2 1954.4h0M454.7 1957.1h0M491.0 1932.3h0M327.6 1966.0h0M484.4 1845.3h0M283.5 2101.9h0M483.0 1962.5h0M426.1 2036.4h0M388.6 1968.8h0M351.3 1929.3h0M438.0 1928.6h0M576.7 2047.2h0M435.5 1859.2h0M329.9 1988.5h0M345.9 1956.3h0M423.3 1940.2h0M381.1 1955.1h0M436.0 1934.0h0M426.9 2110.3h0M439.9 2015.8h0M444.3 1991.2h0M486.1 2066.0h0M408.8 2048.3h0M408.7 1940.9h0M389.9 1948.9h0M421.0 1931.9h0M424.0 1902.1h0M369.0 1834.9h0M362.6 2001.4h0M315.0 1972.1h0M415.7 1979.2h0M399.5 1940.4h0M408.5 2021.1h0M395.6 1953.8h0M383.5 1934.1h0M423.7 2049.7h0M341.6 1899.7h0M399.5 2101.0h0M204.1 1985.1h0M412.4 2061.1h0M393.7 1790.9h0M354.2 2112.0h0M393.5 2025.5h0M313.2 1740.7h0M404.2 1945.2h0M303.7 2033.2h0M411.2 1811.4h0M420.4 1969.0h0M349.9 1961.8h0M332.5 1870.7h0M384.7 1973.9h0M335.4 2038.2h0M359.9 1967.8h0M361.4 1872.9h0M341.4 1890.4h0M393.8 2135.4h0M374.0 1977.6h0M386.3 2126.2h0M307.8 2029.8h0M411.1 2060.8h0M339.5 2030.2h0M365.1 1805.4h0M381.8 1972.1h0M502.8 1851.8h0M397.5 1879.2h0M517.5 1957.4h0M450.2 1929.6h0M365.5 1932.6h0M409.4 2060.2h0M384.2 2008.9h0M516.3 1975.1h0M440.4 2011.1h0M444.3 2016.7h0M387.8 1900.3h0M376.3 1966.6h0M519.7 1825.0h0M355.2 1942.4h0M332.3 1995.1h0M420.9 1974.7h0M472.4 2045.1h0M433.3 1901.4h0M379.7 1998.0h0M305.3 1970.8h0M384.2 2151.3h0M439.3 1949.2h0M464.7 1890.4h0M341.3 2015.6h0M389.1 1982.5h0M352.1 1920.9h0M356.7 1875.4h0M311.0 1971.9h0M426.0 1968.3h0M311.5 1924.4h0M436.0 2054.6h0M360.9 2180.0h0M329.4 1836.1h0M423.9 1818.0h0M428.1 1941.6h0M454.9 2008.5h0M379.8 2035.4h0M490.8 2098.8h0M435.5 2070.8h0M396.6 1968.7h0M445.7 1944.7h0M378.1 1930.0h0M392.0 2147.0h0M420.3 2057.9h0M324.2 1994.8h0M352.9 1933.0h0M434.0 1970.6h0M491.1 1908.4h0M474.9 2063.1h0M378.3 1895.8h0M355.3 1928.4h0M401.3 1957.1h0M442.4 2041.6h0M320.3 1952.2h0M382.6 1873.8h0M348.0 2165.9h0M444.4 2018.4h0M280.9 1983.8h0M550.7 2070.3h0M382.4 1970.2h0M377.0 2063.7h0M414.7 1893.2h0M371.7 1917.6h0M326.6 1982.3h0M414.9 1985.2h0M424.5 1974.9h0M249.7 2074.8h0M362.6 1867.9h0M323.2 1849.9h0M406.9 1956.4h0M393.3 1924.4h0M409.6 1907.6h0M331.6 1853.1h0M457.5 1851.4h0M463.3 1880.9h0M382.5 1891.0h0M399.5 2056.0h0M403.7 2005.6h0M356.8 1943.8h0M401.2 1923.6h0M471.6 2028.1h0M415.9 1951.6h0M419.8 1872.1h0M335.2 1830.5h0M410.0 1982.6h0M424.4 1946.8h0M363.9 1894.0h0M406.7 2001.0h0M342.2 2020.9h0M452.5 2034.9h0M394.0 1956.3h0M361.0 2098.6h0M450.4 1864.5h0M330.5 1996.8h0M369.4 1998.4h0M353.1 2178.0h0M291.4 1840.0h0M365.3 1918.4h0M348.7 1957.9h0M472.7 1986.8h0M441.9 1807.8h0M414.9 1990.8h0M332.2 1959.2h0M399.9 1933.3h0M397.8 1777.7h0M403.9 1892.2h0M352.6 1903.3h0M406.8 2023.4h0M375.6 2031.6h0M336.3 1901.6h0M307.6 1998.0h0M480.1 1969.3h0M527.7 2099.6h0M337.2 1907.2h0M453.1 2067.6h0M449.0 1962.0h0M363.5 1887.7h0M445.3 2014.2h0M350.0 2179.4h0M379.0 2026.7h0M320.1 2067.2h0M308.2 2123.5h0M325.5 2104.9h0M427.8 1963.0h0M335.3 1904.8h0M413.2 1868.8h0M492.7 2003.0h0M341.2 1854.8h0M532.0 2096.1h0M416.2 2030.7h0M325.7 1986.5h0M335.7 2110.8h0M313.1 2064.0h0M424.5 1910.6h0M559.7 2145.7h0M358.2 1885.3h0M394.2 2116.9h0M362.1 1958.1h0M508.0 1900.4h0M446.2 2008.3h0M336.1 1834.3h0M442.7 1913.4h0M494.6 2036.4h0M378.1 1956.4h0M304.5 2042.8h0M338.2 1871.6h0M495.9 1935.0h0M432.4 1888.1h0M379.6 1842.3h0M514.2 1918.2h0M415.7 1914.4h0M386.0 2059.9h0M365.3 1836.8h0M364.8 1969.5h0M481.2 1942.3h0M448.9 1948.7h0M377.0 1897.9h0M410.4 1937.6h0M399.5 1977.7h0M483.4 1805.5h0M186.5 1863.3h0M444.3 1918.0h0M349.0 1930.1h0M402.0 1799.0h0M328.6 1998.8h0M326.8 1923.3h0M325.4 2003.3h0M348.6 2025.6h0M464.4 2149.6h0M321.9 2038.6h0M367.7 2009.9h0M474.3 1913.3h0M434.4 1871.4h0M400.6 2003.9h0M417.2 1927.4h0M426.6 1878.1h0M362.1 2040.7h0M481.6 1809.5h0M353.0 2077.6h0M348.8 2064.6h0M345.9 2132.9h0M460.9 1995.5h0M328.1 2072.6h0M415.9 1991.1h0M312.9 2029.3h0M459.4 2028.4h0M329.0 2072.2h0M424.7 1959.1h0M456.5 1907.3h0M385.3 1906.5h0M410.1 2141.3h0M381.7 1773.4h0M286.5 1886.1h0M469.7 1904.7h0M345.0 2058.6h0M325.5 1949.7h0M414.6 2047.4h0M427.3 1923.7h0M466.9 1878.8h0M435.6 2058.8h0M317.4 1995.0h0M424.9 1943.7h0M586.4 1919.4h0M513.9 1826.9h0M378.0 2028.4h0M330.4 1973.7h0M487.4 1945.0h0M325.9 1814.6h0M453.9 1935.1h0M356.5 2040.2h0M399.3 2101.9h0M423.9 1975.3h0M477.5 1924.4h0M288.4 1824.5h0M399.2 2031.6h0M351.2 2015.2h0M333.1 2048.6h0M382.8 1973.9h0M363.8 1857.7h0M368.3 2075.5h0M385.4 1972.5h0M412.1 2193.5h0M381.8 2001.7h0M501.8 1929.5h0M398.2 1987.8h0M426.7 2091.7h0M447.2 1949.8h0M436.2 1984.3h0M420.1 1940.3h0M490.7 2174.4h0M367.3 1994.0h0M304.0 1781.8h0M485.2 2123.3h0M403.0 1829.5h0M456.3 1981.6h0M398.9 1803.1h0M393.1 2003.8h0M412.6 1907.6h0M367.0 1815.3h0M384.5 1946.6h0M397.6 2023.6h0M286.1 2048.4h0M391.9 1981.1h0M478.9 1961.2h0M381.3 2106.2h0M316.9 2099.1h0M442.6 1850.2h0M396.3 2130.4h0M379.5 1868.5h0M304.8 2087.4h0M344.0 1925.9h0M382.1 1911.7h0M400.3 1871.5h0M298.0 1958.2h0M311.5 1875.5h0M320.9 1866.2h0M359.1 2060.4h0M449.3 1967.5h0M418.9 1956.3h0M392.7 1977.7h0M391.7 1840.0h0M326.0 1965.3h0M478.6 1921.7h0M338.3 2121.3h0M419.4 1877.5h0M340.5 2059.3h0M341.2 1934.3h0M369.1 2002.7h0M363.1 2082.8h0M417.1 1932.3h0M419.0 1938.6h0M378.8 1860.3h0M365.0 1933.6h0M459.8 2075.0h0M433.0 1997.2h0M433.0 2032.6h0M411.9 2016.4h0M369.3 1904.0h0M363.7 2139.2h0M251.8 1915.6h0M440.9 2066.9h0M390.4 1978.3h0M399.9 1976.3h0M378.0 1952.0h0M424.7 1961.2h0M343.9 1930.2h0M416.6 1949.9h0M373.0 1963.7h0M376.6 2042.7h0M485.2 1889.5h0M421.2 1774.8h0M407.2 1876.1h0M498.2 2119.2h0M501.2 1992.5h0M436.5 1972.6h0M382.4 1987.2h0M346.1 1939.0h0M381.3 2164.7h0M466.8 1856.7h0M361.8 2059.2h0M346.3 1790.0h0M368.5 1951.4h0M406.9 1923.6h0M419.2 2074.5h0M440.0 2069.2h0M290.7 2092.8h0M379.4 2011.9h0M511.6 1898.6h0M355.0 2039.3h0M336.7 2041.7h0M371.4 2036.9h0M316.7 1870.4h0M365.8 1975.5h0M294.2 1949.0h0M453.1 2064.8h0M429.9 1940.5h0M372.9 2031.7h0M363.2 1956.5h0M424.8 1900.8h0M397.5 1851.9h0M445.2 1769.7h0M383.1 2055.5h0M478.6 1889.8h0M354.7 1904.8h0M389.8 1973.6h0M248.0 2078.1h0M411.8 1783.2h0M399.5 1704.6h0M535.5 1926.1h0M443.8 1995.3h0M338.7 1987.8h0M408.9 1955.3h0M415.7 1998.5h0M422.1 1760.9h0M470.9 2018.3h0M481.2 2119.9h0M471.7 1902.2h0M493.3 1912.6h0M373.9 1876.2h0M424.5 2003.8h0M397.5 1935.3h0M352.7 1942.1h0M460.2 1910.4h0M403.2 1954.4h0M409.2 1974.5h0M522.4 1919.4h0M451.0 1893.2h0M554.8 2060.7h0M448.9 2014.9h0M449.4 1941.7h0M526.5 2003.6h0M385.2 2087.1h0M359.7 2029.2h0M417.2 1835.6h0M277.4 1883.9h0M328.2 1976.2h0M293.8 1910.2h0M327.0 1951.3h0M365.5 1927.4h0M432.1 1943.9h0M400.5 2102.6h0M305.8 1944.8h0M431.5 2061.4h0M435.4 1939.7h0M362.3 1836.7h0M349.6 1814.6h0M306.0 1992.6h0M314.4 1899.1h0M426.6 1907.3h0M294.5 1950.0h0M387.6 2070.7h0M424.1 1869.1h0M429.1 1871.2h0M376.9 1849.1h0M460.5 1896.9h0M387.3 2026.9h0M371.6 1951.7h0M480.9 2140.0h0M283.4 1907.4h0M443.2 1837.2h0M335.4 2000.2h0M368.1 2008.3h0M430.9 1993.4h0M441.5 1906.4h0M459.7 1995.4h0M441.0 1946.3h0M311.2 1885.4h0M510.5 2008.8h0M382.7 1938.0h0M334.3 2074.8h0M444.8 1880.2h0M403.8 1976.5h0M310.3 2048.6h0M328.8 2066.4h0M370.9 1827.1h0M475.0 2017.7h0M291.2 2068.1h0M303.7 2112.7h0M341.5 1991.6h0M391.0 2007.9h0M430.9 1823.8h0M353.7 1927.6h0M381.0 1840.7h0M418.3 1962.1h0M316.9 2021.7h0M379.2 1993.5h0M310.5 2074.4h0M290.7 1860.4h0M442.6 1909.6h0M370.5 1993.0h0M432.0 1968.9h0M511.1 1904.0h0M421.3 1983.6h0M415.6 2105.7h0M352.7 1970.1h0M417.3 2017.9h0M310.2 1925.8h0M523.1 2131.8h0M311.6 1957.4h0M403.5 2032.7h0M407.6 1972.7h0M367.2 1974.2h0M265.3 1922.1h0M276.9 1767.5h0M334.7 1913.2h0M416.7 1995.2h0M460.1 1871.4h0M410.8 1866.4h0M311.7 1933.7h0M457.9 2027.0h0M469.1 1994.8h0M313.2 1875.6h0M465.4 1951.3h0M530.1 1963.2h0M370.1 2043.4h0M395.9 1990.0h0M327.1 2002.9h0M342.5 1780.7h0M454.4 1889.8h0M266.3 2017.0h0M372.1 1995.6h0M397.0 2028.4h0M387.3 2035.1h0M398.2 2076.8h0M336.0 2010.3h0M401.6 2149.4h0M428.6 1867.4h0M346.2 2028.2h0M271.4 2081.8h0M370.9 1845.3h0M346.8 1868.7h0M466.2 1997.5h0M393.8 1859.5h0M315.6 2032.3h0M406.7 2088.0h0M325.3 2019.3h0M438.8 1860.4h0M468.7 1909.0h0M389.7 2055.9h0M453.7 1986.3h0M339.5 1990.4h0M459.8 1944.2h0M369.9 2114.5h0M421.0 1892.5h0M416.5 1838.9h0M377.5 1924.6h0M393.9 2018.5h0M361.4 1855.2h0M322.8 2007.0h0M388.4 1935.7h0M396.2 1973.6h0M385.9 2038.7h0M289.0 2124.4h0M300.0 1992.1h0M376.6 2071.5h0M386.1 1925.1h0M380.1 2035.4h0M456.1 2044.4h0M313.5 1910.5h0M425.2 2014.3h0M378.0 1956.0h0M393.9 2027.8h0M417.9 1990.4h0M405.5 1900.6h0M365.8 1816.8h0M487.8 2132.0h0M454.1 1881.2h0M359.4 2025.2h0M293.9 2032.9h0M422.8 1953.4h0M469.7 2013.4h0M397.9 1876.1h0M355.2 1971.9h0M361.8 1908.0h0M431.0 1939.5h0M529.1 1970.4h0M346.4 1945.9h0M310.4 1974.9h0M368.7 2198.5h0M436.3 1964.4h0M461.1 2074.7h0M362.9 1944.0h0M311.1 1964.9h0M426.7 2016.7h0M364.3 1978.3h0M315.4 2088.5h0M508.7 2049.3h0M517.9 2011.5h0M372.3 1874.3h0M439.6 1989.3h0M339.8 1882.0h0M438.9 1951.1h0M285.9 1976.7h0M354.3 1964.9h0M445.9 1972.4h0M397.6 1919.4h0M373.1 2075.2h0M475.7 2061.1h0M419.7 2140.9h0M435.1 1989.0h0M315.4 1991.2h0M392.8 1986.8h0M312.9 2097.6h0M457.9 1957.6h0M449.4 1971.8h0M399.2 1968.7h0M307.2 1943.2h0M564.5 1934.1h0M497.2 2138.6h0M506.2 1961.9h0M486.4 1948.3h0M442.3 1925.7h0M384.3 1941.6h0M496.9 1971.3h0M366.1 1985.7h0M385.8 1954.9h0M573.2 1833.9h0M414.4 1888.8h0M416.7 2003.2h0M316.4 1860.6h0M515.0 2143.8h0M367.8 2099.1h0M486.5 2066.8h0M415.8 2161.6h0M426.4 1960.1h0M410.9 2062.0h0M419.9 1884.8h0M397.9 1986.4h0M491.2 1845.2h0M412.7 1878.6h0M345.2 1997.1h0M406.4 2072.5h0M341.4 1912.9h0M387.3 1880.6h0M448.0 2051.8h0M337.3 1894.9h0M325.7 2003.7h0M339.8 1882.2h0M484.3 2142.8h0M399.8 1929.2h0M345.9 2091.7h0M486.0 2109.3h0M321.8 1849.4h0M403.9 2004.5h0M311.1 1881.4h0M512.6 2014.9h0M412.4 1911.4h0M413.4 2151.0h0M387.0 2038.8h0M401.4 1965.3h0M407.9 1905.7h0M411.7 2048.2h0M504.0 1918.8h0M426.8 1854.1h0M388.3 1946.1h0M448.8 2082.5h0M344.7 2084.9h0M436.0 2072.2h0M442.5 2035.6h0M286.1 1947.4h0M294.3 1961.0h0M330.3 2091.9h0M359.6 2032.0h0M238.5 2122.6h0M477.0 1976.2h0M509.0 1953.9h0M454.2 1986.5h0M412.6 2069.8h0M377.5 2117.7h0M294.7 2065.4h0M417.1 2045.5h0M401.2 1812.2h0M403.5 1888.6h0M399.7 2058.8h0M463.6 2164.4h0M438.1 2058.4h0M392.6 1979.2h0M341.0 2074.4h0M339.6 1811.7h0M382.4 1945.2h0M339.5 2034.5h0M321.7 1930.2h0M377.5 2037.0h0M380.8 2021.5h0M400.6 1992.4h0M505.4 1947.0h0M440.0 1969.1h0M393.1 2095.2h0M372.8 2056.0h0M450.9 1900.1h0M461.6 2066.2h0M339.5 1894.8h0M430.1 1964.8h0M427.6 2037.1h0M342.7 1985.2h0M336.3 1904.2h0M392.6 1918.3h0M250.4 1944.1h0M388.7 1986.0h0M434.4 2024.0h0M477.7 1906.7h0M400.0 1938.4h0M380.2 1860.7h0M426.8 1942.8h0M408.0 1983.9h0M372.9 2068.5h0M288.1 2133.3h0M412.2 2007.0h0M496.0 1976.4h0M341.2 1987.4h0M371.0 1964.0h0M338.5 1866.6h0M528.7 1947.4h0M494.0 2083.2h0M356.4 2028.9h0M461.6 2024.7h0M423.2 1948.2h0M316.4 1909.1h0M386.6 1940.8h0M393.2 2091.1h0M347.0 2007.1h0M341.7 2006.0h0M392.2 1883.9h0M360.1 1933.6h0M352.6 1960.5h0M296.0 1915.5h0M401.6 1915.3h0M444.9 1996.8h0M377.7 1914.7h0M459.1 1959.2h0M489.0 1941.2h0M361.2 2033.4h0M438.9 1981.6h0M348.0 2083.9h0M345.0 2067.8h0M467.0 1972.6h0M454.3 1885.8h0M329.4 1927.1h0M433.4 1978.0h0M302.9 1965.4h0M390.9 1924.6h0M301.9 1919.9h0M451.0 1904.0h0M450.3 1990.1h0M283.6 1930.0h0M422.7 2026.8h0M476.2 1888.2h0M513.1 1981.0h0M241.0 1945.8h0M364.5 2046.7h0M374.2 2135.5h0M431.3 2071.4h0M384.1 1941.0h0M481.5 1902.1h0M378.8 2135.7h0M455.9 2076.9h0M431.3 1901.1h0M408.9 1910.3h0M545.5 1840.7h0M257.0 2076.2h0M401.3 2134.6h0M289.0 1951.6h0M374.9 1935.5h0M401.6 1899.9h0M370.6 2061.6h0M420.0 2025.0h0M398.9 1873.4h0M475.8 1961.5h0M457.2 1954.1h0M411.0 2014.3h0M490.5 2027.2h0M436.0 1919.6h0M411.2 1922.7h0M382.0 2053.5h0M426.1 2020.2h0M388.4 2000.1h0M379.8 2052.4h0M446.3 2027.8h0M431.7 2064.1h0M414.3 1967.6h0M457.9 2069.2h0M404.0 1939.6h0M416.6 1957.2h0M532.2 2063.4h0M314.6 1940.6h0M311.0 1931.3h0M285.4 1873.4h0M364.9 2033.2h0M550.8 1896.2h0M354.3 2019.4h0M415.5 1979.6h0M371.4 1940.7h0M433.9 2019.9h0M445.9 1992.6h0M333.0 1944.7h0M358.5 2238.8h0M336.0 2102.0h0M370.8 1908.9h0M432.7 2043.9h0M359.4 2051.6h0M364.5 1905.1h0M359.3 1886.5h0M339.2 1892.9h0M448.4 1875.7h0M367.4 2102.1h0M358.4 2022.6h0M387.5 1974.5h0M372.6 2029.9h0M434.0 1924.4h0M376.9 1938.6h0M416.3 2131.2h0M398.6 1994.6h0M474.5 1932.1h0M461.7 1784.1h0M359.3 1849.4h0M385.7 1921.7h0M280.8 1994.9h0M427.8 2018.8h0M315.1 1983.2h0M437.9 1947.1h0M380.5 1979.9h0M378.5 1933.6h0M278.9 1936.7h0M452.2 2052.4h0M338.4 1924.0h0M411.3 1854.4h0M257.1 2029.5h0M391.7 1880.4h0M410.6 1984.5h0M294.3 1877.0h0M332.8 1859.3h0M421.3 1896.8h0M411.3 1896.2h0M308.6 1954.8h0M342.5 1797.6h0M352.0 1809.2h0M214.5 1831.8h0M442.2 1986.0h0M486.3 1857.2h0M360.5 2000.8h0M552.1 2170.0h0M379.1 2028.4h0M352.3 2053.2h0M589.4 1947.3h0M328.5 1904.6h0M375.3 1895.5h0M333.8 1978.6h0M456.0 1935.0h0M456.6 1993.2h0M462.5 2273.8h0M443.4 1885.0h0M435.9 1909.0h0M417.9 2041.8h0M447.1 1884.8h0M521.0 1959.8h0M441.7 2103.2h0M410.6 1844.7h0M358.6 1983.0h0M411.1 1883.5h0M382.6 1912.5h0M359.3 2048.7h0M404.1 1965.2h0M331.0 1963.1h0M411.0 2041.5h0M429.2 1890.7h0M368.6 1904.4h0M421.5 1957.9h0M333.2 1856.5h0M445.4 1931.3h0M376.7 1998.8h0M474.9 1992.6h0M448.1 1844.9h0M504.3 1862.0h0M367.6 2038.9h0M286.4 2002.2h0M384.8 1963.7h0M418.3 1840.5h0M314.7 1850.2h0M458.5 1985.4h0M330.6 2066.3h0M362.7 1785.6h0M375.8 1915.0h0M459.7 2050.2h0M297.4 1986.0h0M471.2 1998.4h0M472.7 1852.1h0M456.4 1882.8h0M382.5 1940.2h0M462.5 2001.5h0M278.1 1868.4h0M390.5 2069.5h0M389.3 1864.4h0M209.2 1914.9h0M417.9 1961.0h0M469.5 1966.7h0M346.2 1973.2h0M375.2 1782.6h0M373.4 1991.4h0M365.4 2053.6h0M409.9 1849.7h0M340.0 1796.0h0M397.7 2101.6h0M409.6 1925.1h0M395.3 1992.6h0M396.9 1837.3h0M552.0 2012.1h0M381.8 2043.7h0M481.8 1856.6h0M397.6 2003.2h0M388.2 2033.6h0M367.1 1984.8h0M367.0 2030.0h0M473.5 2147.9h0M345.1 1798.9h0M345.7 1961.7h0M375.5 2019.1h0M396.4 1802.2h0M397.9 2014.4h0M283.5 1957.8h0M508.5 2027.6h0M410.2 1867.3h0M499.4 1904.9h0M348.4 1918.0h0M394.2 1833.2h0M445.6 1978.7h0M364.9 2028.7h0M317.1 1818.4h0M455.0 1952.0h0M395.3 1996.5h0M373.9 2077.0h0M274.7 1927.8h0M352.0 1901.3h0M458.7 1973.8h0M381.1 2129.3h0M392.1 1886.6h0M383.9 1956.7h0M391.0 1787.5h0M504.8 1863.7h0M447.7 2115.2h0M384.6 1958.7h0M397.2 2109.9h0M359.2 2011.5h0M362.8 2043.8h0M408.6 1876.4h0M470.8 1880.4h0M200.0 2014.1h0M379.4 2111.5h0M342.1 1987.6h0M445.7 2004.0h0M428.0 1961.7h0M331.8 2028.9h0M374.7 1990.6h0M364.5 2064.7h0M359.0 1857.9h0M473.1 2007.0h0M427.1 2174.9h0M374.0 1958.5h0M331.5 1977.7h0M354.2 2054.4h0M452.8 1878.5h0M368.3 1911.4h0M304.9 1912.7h0M404.6 2142.9h0M414.1 1892.6h0M395.7 2006.2h0M297.6 1864.7h0M366.9 1931.2h0M437.4 2041.1h0M277.7 1931.3h0M421.7 2056.9h0M402.7 1918.1h0M456.5 2077.5h0M447.9 2016.2h0M375.0 1910.0h0M394.0 1746.3h0M362.0 1957.8h0M348.2 1875.7h0M404.8 1841.3h0M380.8 1838.5h0M296.1 1937.8h0M496.8 2001.8h0M469.0 1967.3h0M394.9 1871.2h0M348.3 1967.7h0M401.2 2100.8h0M454.0 1907.8h0M388.9 1909.2h0M470.6 2087.5h0M386.1 2013.7h0M490.1 2003.5h0M411.5 1944.5h0M330.3 1995.0h0M421.0 1941.5h0M476.1 1837.9h0M476.3 2161.8h0M392.0 2078.5h0M422.0 1822.3h0M316.3 1865.2h0M503.3 2078.0h0M312.2 1987.1h0M324.4 1899.2h0M308.8 1814.7h0M446.8 1962.8h0M476.4 2118.2h0M307.8 1940.8h0M390.9 2008.0h0M394.2 2006.8h0M486.9 1905.4h0M445.5 1897.4h0M384.0 1845.9h0M374.9 1934.7h0M440.3 2024.6h0M436.2 1999.3h0M386.0 1927.9h0M358.6 1842.6h0M382.2 1958.4h0M399.8 1924.3h0M300.5 2004.6h0M494.3 2004.3h0M390.3 1995.0h0M526.0 2074.9h0M339.1 1949.6h0M390.0 1817.2h0M275.0 1961.4h0M461.5 1807.1h0M364.4 1938.2h0M469.8 2043.7h0M368.6 1804.0h0M436.9 1926.6h0M425.7 2024.9h0M430.1 2087.7h0M511.4 1804.0h0M450.8 1974.0h0M392.0 1905.9h0M406.7 1994.5h0M371.7 2053.0h0M453.3 1972.5h0M396.9 1962.0h0M381.2 1991.2h0M320.2 1963.5h0M410.7 1790.7h0M422.5 1971.9h0M395.5 1851.5h0M312.5 2015.3h0M358.3 2101.0h0M308.5 1991.5h0M407.6 2108.9h0M350.2 1961.7h0M420.3 1812.8h0M529.9 2093.4h0M381.9 2010.7h0M342.0 1995.6h0M407.7 1942.9h0M441.4 1862.3h0M348.3 2037.7h0M369.8 1973.3h0M482.1 2142.1h0M325.6 1944.2h0M416.4 2054.1h0M477.1 2190.2h0M442.2 1955.8h0M407.5 2050.1h0M447.7 1948.9h0M328.3 2061.1h0M385.9 1949.7h0M380.7 2068.8h0M379.9 2055.2h0M397.0 1968.4h0M422.3 1992.0h0M356.0 1946.3h0M518.6 2023.6h0M382.8 1955.3h0M414.5 1888.0h0M420.9 2040.6h0M504.1 1799.3h0M396.0 1866.4h0M415.0 2257.4h0M351.6 1979.5h0M411.6 2020.9h0M282.3 1994.8h0M373.5 1972.0h0M294.4 2073.6h0M395.8 1976.8h0M315.5 1873.4h0M348.5 1999.0h0M388.8 1997.7h0M367.8 1853.2h0M327.3 2055.4h0M417.7 1892.9h0M355.5 2032.6h0M373.2 2139.1h0M366.7 1976.4h0M367.4 1851.4h0M345.2 1849.3h0M409.0 1914.8h0M481.4 2024.3h0M396.8 1924.9h0M340.2 1995.0h0M340.9 2011.6h0M313.2 1952.2h0M339.1 1896.0h0M363.9 1940.1h0M487.9 1781.6h0M373.4 2010.4h0M410.7 1993.9h0M382.7 1931.2h0M407.0 1949.2h0M461.4 1897.1h0M421.4 1903.2h0M439.0 1884.4h0M544.3 1871.4h0M335.9 2024.2h0M527.2 1943.6h0M424.7 1923.5h0M429.8 2072.2h0M368.7 1968.1h0M409.3 1948.2h0M340.9 2065.7h0M385.5 1990.2h0M362.6 2081.0h0M428.1 2058.3h0M285.7 2088.6h0M383.1 1903.5h0M467.5 2010.2h0M376.2 1909.2h0M384.0 2058.3h0M341.3 1995.0h0M444.7 1931.8h0M392.9 1999.6h0M546.1 1920.8h0M369.7 1838.1h0M405.5 1725.1h0M389.1 1911.4h0M512.8 1989.7h0M419.4 1866.3h0M375.4 1952.1h0M306.3 1933.4h0M222.7 1920.1h0M356.5 1917.7h0M304.4 2018.3h0M443.0 2018.3h0M457.8 1900.0h0M441.5 2051.0h0M366.1 1955.5h0M335.6 2143.7h0M431.8 1942.2h0M461.5 1973.0h0" stroke="#008000" stroke-opacity="0.14" stroke-width="3.0" stroke-linecap="round" fill="none"/>
<path d="M458.2 2082.9h0M325.1 2160.7h0M390.2 1895.2h0M354.3 2031.4h0M540.5 2111.3h0M427.8 2008.4h0M314.0 1873.5h0M440.4 2053.2h0M202.4 1894.0h0M420.2 1987.4h0M174.9 1994.0h0M334.9 1804.7h0M188.4 1974.1h0M369.7 2030.7h0M569.9 2013.2h0M552.7 1908.6h0M671.9 1820.3h0M311.1 2042.3h0M404.9 2011.5h0M366.6 2065.8h0M338.4 1991.0h0M368.1 1986.5h0M405.3 1986.2h0M383.2 2060.0h0M254.5 1994.7h0M422.8 2028.0h0M453.2 1929.5h0M492.8 1848.6h0M353.2 2125.9h0M429.7 1963.1h0M365.4 2149.8h0M511.4 1906.7h0M369.2 1961.3h0M272.8 2041.8h0M400.5 1877.4h0M545.6 2036.7h0M570.7 2018.1h0M334.9 2192.7h0M290.3 1817.4h0M366.2 1844.1h0M315.0 2020.6h0M342.9 2021.7h0M461.9 1895.5h0M362.2 2066.1h0M363.0 1902.0h0M210.3 1978.1h0M244.7 1916.8h0M424.9 1967.4h0M311.1 1976.9h0M442.0 1990.5h0M391.2 1886.9h0M348.0 2029.9h0M456.0 2049.1h0M476.1 2028.1h0M467.2 1850.0h0M186.1 1900.5h0M330.4 2090.4h0M419.6 1833.7h0M379.2 2207.4h0M476.0 1804.5h0M419.5 2135.5h0M346.2 2109.7h0M317.5 1869.4h0M357.5 1870.8h0M486.9 2190.9h0M342.4 1823.6h0M536.8 1852.9h0M347.5 1974.2h0M327.8 2054.6h0M391.1 1844.2h0M377.6 1849.6h0M447.6 1857.4h0M381.2 1948.7h0M399.8 1939.1h0M406.8 2175.7h0M438.9 1926.3h0M291.5 1896.5h0M375.8 2161.1h0M261.8 2189.4h0M489.3 2146.0h0M393.8 1909.9h0M438.8 2002.2h0M359.7 2178.2h0M260.5 1818.6h0M394.6 1986.6h0M442.1 1991.1h0M322.1 2173.7h0M413.6 2028.1h0M463.8 2021.8h0M376.5 2092.5h0M387.1 2091.2h0M357.6 1968.7h0M425.1 2113.5h0M434.0 1886.4h0M282.1 1984.1h0M418.6 1833.8h0M350.8 1845.4h0M395.7 2047.6h0M503.8 1855.1h0M342.3 1945.4h0M434.2 1915.2h0M247.1 2038.9h0M318.9 2167.6h0M425.0 1975.7h0M455.5 2039.6h0M302.0 2038.4h0M229.1 2010.6h0M505.0 1979.1h0M323.7 2062.0h0M467.8 1808.2h0M666.3 1961.5h0M224.7 2115.6h0M372.9 1988.5h0M485.9 1986.3h0M465.6 1921.3h0M400.4 1817.0h0M353.7 2004.0h0M528.3 2134.9h0M346.3 1914.6h0M375.3 2075.0h0M501.9 1989.1h0M350.9 1973.0h0M354.1 2037.2h0M371.8 1852.8h0M413.6 1908.3h0M278.9 2230.6h0M476.7 1959.5h0M377.7 2209.4h0M450.2 1904.4h0M718.1 1837.7h0M410.7 2047.8h0M447.1 1853.8h0M412.1 1802.9h0M217.7 2008.1h0M447.4 1985.5h0M431.3 1962.4h0M394.5 2014.7h0M333.5 1992.0h0M404.6 1934.0h0M311.7 1715.4h0M367.7 2075.5h0M554.5 1961.1h0M459.9 1749.0h0M309.6 1904.4h0M472.3 2005.0h0M263.4 2105.3h0M139.7 1964.9h0M282.9 1710.1h0M252.9 1933.7h0M405.4 1834.9h0M359.9 1937.4h0M492.6 1945.8h0M476.7 2020.9h0M413.7 1737.8h0M400.4 2104.9h0M307.8 2011.9h0M429.1 2032.1h0M311.5 1956.1h0M302.5 1860.3h0M308.1 1990.9h0M314.5 1892.6h0M387.5 2039.3h0M501.7 2066.9h0M381.1 1850.7h0M317.8 1988.8h0M445.6 1959.3h0M284.0 2017.5h0M257.5 1792.7h0M252.9 1918.1h0M440.1 2178.0h0M461.3 1991.1h0M391.3 1896.7h0M327.8 1793.9h0M475.0 1835.6h0M392.3 2267.5h0M515.0 1973.6h0M344.6 1962.6h0M288.9 1930.8h0M291.3 1866.2h0M494.6 2105.7h0M382.1 1883.1h0M413.5 2130.5h0M323.2 1907.7h0M368.8 1944.7h0M225.1 2068.5h0M523.8 2124.3h0M456.5 2059.0h0M408.4 1950.4h0M365.5 1941.5h0M438.6 1795.8h0M425.6 1840.7h0M312.0 1898.3h0M430.8 2031.4h0M408.2 1902.6h0M336.9 2094.2h0M483.5 1963.1h0M334.7 2038.1h0M291.5 1959.2h0M386.4 2042.3h0M574.6 2055.3h0M436.3 1864.7h0M484.0 1992.7h0M436.6 1931.6h0M382.0 1994.6h0M409.0 2002.7h0M340.4 2132.8h0M364.8 1842.8h0M488.9 2011.9h0M380.2 2107.3h0M401.8 2048.9h0M197.6 1939.3h0M278.9 1974.8h0M348.0 1869.0h0M381.9 1817.4h0M632.6 2042.5h0M331.5 1883.8h0M374.2 1876.9h0M302.3 1962.5h0M466.1 1995.1h0M357.6 1920.5h0M446.9 1995.9h0M340.6 2079.4h0M421.8 2203.4h0M447.7 1954.9h0M204.9 2014.4h0M396.1 2010.9h0M368.0 2131.6h0M375.7 2109.5h0M413.0 2038.2h0M388.7 1827.5h0M325.7 1808.5h0M377.2 2115.6h0M285.0 1999.8h0M292.6 2044.4h0M262.1 1959.3h0M274.4 1831.9h0M426.8 1954.3h0M465.6 2124.5h0M362.3 1928.7h0M381.9 1813.0h0M334.0 1904.7h0M294.5 2098.8h0M470.9 1891.0h0M410.0 2033.3h0M309.0 2015.9h0M335.1 1966.2h0M415.4 1907.1h0M434.0 1944.1h0M407.6 2036.0h0M382.3 1939.3h0M386.6 1977.9h0M434.8 2073.4h0M339.0 2209.3h0M381.8 1953.0h0M390.1 2058.0h0M448.9 2089.9h0M374.3 1886.1h0M365.5 1981.8h0M273.5 1907.3h0M355.7 1825.4h0M211.8 2055.2h0M411.5 2019.7h0M388.7 2081.0h0M392.1 1960.5h0M374.4 2036.7h0M262.7 2073.7h0M402.8 1931.7h0M466.5 2048.2h0M356.0 2054.0h0M319.3 1708.5h0M528.7 1922.0h0M326.5 1856.7h0M238.2 1933.5h0M453.5 1946.0h0M368.5 2035.8h0M382.9 2034.6h0M516.1 2102.8h0M453.4 1929.6h0M371.3 1872.8h0M430.5 2003.4h0M270.5 1838.9h0M344.1 1927.3h0M483.4 2070.3h0M597.7 2017.7h0M413.2 1900.0h0M312.5 1902.6h0M397.6 1896.5h0M335.0 2126.3h0M291.4 2044.9h0M293.9 1899.1h0M530.9 2252.8h0M371.3 1839.6h0M394.9 2060.1h0M436.6 2013.8h0M415.5 1911.9h0M376.2 2141.2h0M467.2 2053.6h0M517.4 1943.3h0M375.0 2038.5h0M458.8 1744.9h0M332.9 1810.4h0M472.5 2015.3h0M435.3 1999.0h0M374.7 1904.5h0M395.2 1871.7h0M327.1 1907.9h0M438.2 1865.7h0M423.6 1780.4h0M372.6 2008.7h0M357.0 1954.0h0M496.0 2143.5h0M455.0 1802.4h0M493.4 2104.8h0M541.2 2140.7h0M350.0 1991.9h0M373.3 2093.3h0M472.6 1809.0h0M422.2 2114.2h0M411.9 1895.0h0M399.8 2072.7h0M470.4 1945.7h0M371.6 1966.3h0M381.6 1927.5h0M312.2 2003.0h0M304.6 1838.0h0M418.3 1838.8h0M336.5 1821.2h0M523.6 1971.0h0M265.2 1793.6h0M398.8 1931.6h0M213.0 2064.5h0M400.2 1916.4h0M343.5 2110.5h0M399.9 2010.8h0M235.0 2000.5h0M399.3 2117.4h0M285.3 1926.2h0M431.1 2004.8h0M453.4 2078.8h0M239.1 2049.7h0M462.2 1807.1h0M414.4 1993.9h0M468.1 1993.9h0M384.2 1854.1h0M585.3 2044.5h0M438.2 2055.5h0M378.2 1952.8h0M372.8 2060.1h0M356.0 1843.4h0M573.9 2024.9h0M467.7 2004.3h0M404.6 2081.9h0M427.3 1831.5h0M229.4 1874.5h0M401.8 1888.5h0M478.9 1997.0h0M318.6 1979.2h0M98.8 1936.4h0M485.4 1963.7h0M318.9 2034.9h0M289.1 1973.8h0M531.0 2162.1h0M453.0 2071.0h0M363.8 1989.9h0M256.1 2025.8h0M404.1 2027.1h0M362.9 1775.7h0M354.6 2145.7h0M336.5 2009.3h0M614.5 2080.9h0M324.6 2004.9h0M309.9 1876.7h0M535.9 2015.9h0M304.8 1920.1h0M358.1 2033.6h0M407.6 2244.3h0M454.3 2101.7h0M494.3 1996.1h0M465.1 2000.1h0M281.7 1893.0h0M543.6 2077.3h0M419.2 1828.7h0M423.6 2019.5h0M386.1 2048.0h0M430.2 1880.0h0M354.8 2054.6h0M516.0 1972.2h0M471.0 2020.5h0M500.7 1970.1h0M408.7 1851.9h0M273.4 1967.9h0M457.4 1913.5h0M383.6 2026.8h0M361.5 1830.0h0M359.9 1960.1h0M319.1 1916.2h0M342.0 1968.6h0M437.7 2073.1h0M420.3 1867.4h0M426.0 2100.7h0M461.6 1959.7h0M396.1 1836.1h0M289.7 2037.3h0M511.3 2064.4h0M372.7 1947.6h0M340.6 2051.1h0M401.3 1819.4h0M179.2 2209.5h0M408.5 2117.9h0M582.2 1980.1h0M372.0 1975.5h0M509.0 1826.3h0M369.6 2093.2h0M489.1 1979.7h0M376.6 2014.4h0M379.6 1958.2h0M351.1 1843.4h0M571.4 1948.8h0M387.8 1875.1h0M394.5 2069.8h0M469.6 2087.3h0M433.2 2060.0h0M311.8 1812.0h0M398.9 1863.6h0M220.0 2002.9h0M377.9 1770.9h0M319.5 2133.0h0M490.1 1831.3h0M443.5 2200.5h0M297.1 1958.4h0M435.3 1831.2h0M318.8 2100.4h0M436.4 2114.1h0M410.1 1874.9h0M384.6 2150.1h0M443.4 1959.2h0M440.5 2170.9h0M445.7 2039.5h0M362.1 1848.0h0M298.0 2106.8h0M305.3 2024.9h0M601.5 1948.9h0M479.1 1923.3h0M325.3 1929.8h0M319.1 2030.6h0M363.9 1880.6h0M402.8 1940.1h0M408.4 1903.0h0M551.0 2126.0h0M263.7 2150.2h0M321.1 1971.3h0M445.7 1944.8h0M351.4 2072.0h0M257.5 1960.1h0M379.0 2111.9h0M370.8 2119.2h0M437.2 2068.4h0M451.6 2070.0h0M385.9 1990.4h0M404.6 1866.1h0M418.1 1915.0h0M476.8 2037.7h0M427.1 1823.9h0M378.1 1862.2h0M512.0 1809.2h0M297.6 1918.3h0M471.6 1944.0h0M306.7 1996.2h0M614.0 1983.6h0M385.0 1924.3h0M326.7 1888.4h0M365.4 1893.8h0M392.5 1784.4h0M324.5 1952.5h0M374.6 1921.7h0M418.4 1919.4h0M458.0 1896.7h0M343.4 1855.6h0M362.3 1805.9h0M469.8 1926.4h0M459.9 2068.1h0M538.3 1957.7h0M305.4 2042.5h0M405.7 1973.7h0M482.5 1918.0h0M417.4 2131.4h0M409.7 1983.5h0M228.3 2036.2h0M262.5 2004.4h0M496.5 1988.7h0M445.1 1925.5h0M459.3 1914.1h0M503.2 1928.8h0M230.0 2001.5h0M574.7 1883.1h0M272.8 2137.9h0M480.5 1883.1h0M396.2 1881.9h0M433.9 1976.1h0M378.1 2048.6h0M366.5 2096.7h0M345.9 1942.5h0M441.6 1881.1h0M281.2 1901.9h0M338.2 2212.9h0M263.9 2051.7h0M610.1 1728.4h0M511.9 1723.2h0M452.2 2004.8h0M369.6 2035.7h0M428.3 2017.5h0M299.7 1845.7h0M323.7 2105.7h0M431.8 2216.8h0M388.0 2197.0h0M346.9 2019.7h0M357.6 2011.3h0M372.9 1901.8h0M341.5 1937.1h0M492.8 2151.3h0M418.8 1861.9h0M220.2 1983.7h0M561.0 2078.8h0M410.1 2081.6h0M492.8 2162.0h0M246.5 1977.2h0M361.9 2066.4h0M442.2 1894.1h0M419.6 1905.0h0M462.0 1858.9h0M354.1 1951.9h0M398.6 1782.0h0M459.9 1939.0h0M399.3 2006.9h0M367.6 1981.7h0M400.9 2157.2h0M362.2 2048.0h0M315.7 1798.6h0M416.6 2089.8h0M410.5 2112.0h0M387.6 1987.3h0M393.3 1837.7h0M474.2 2038.3h0M361.6 2150.6h0M263.4 1920.5h0M171.6 2043.9h0M555.5 1969.6h0M394.8 2045.4h0M538.7 2015.9h0M339.1 2014.7h0M362.8 2061.8h0M490.5 1909.9h0M459.7 1821.8h0M282.3 2087.8h0M413.9 1815.4h0M333.3 2190.7h0M565.2 1836.2h0M441.4 2132.8h0M224.5 1970.7h0M360.0 1919.5h0M474.7 1938.6h0M483.7 1879.9h0M317.9 1911.5h0M567.5 2216.7h0M224.8 2004.2h0M247.1 2117.1h0M256.3 1844.6h0M256.1 2097.2h0M442.3 2066.3h0M448.8 2000.9h0M489.1 1903.6h0M350.5 1847.9h0M386.1 1823.3h0M446.7 2014.3h0M503.9 1943.0h0M349.6 1951.8h0M415.2 2104.0h0M254.6 2058.3h0M301.7 2179.4h0M373.7 1943.8h0M398.6 2107.5h0M344.1 2057.0h0M319.8 1860.1h0M219.2 2045.3h0M339.9 1980.0h0M315.6 2052.4h0M402.8 1901.8h0M443.7 1922.8h0M307.3 2188.1h0M371.6 2039.5h0M277.0 1978.0h0M362.5 1849.7h0M438.7 2037.8h0M428.6 2178.0h0M373.5 2108.4h0M444.9 1916.9h0M360.4 1776.5h0M439.9 2001.6h0M432.8 1939.3h0M523.5 1912.7h0M447.8 2085.1h0M407.0 1908.8h0M316.2 1844.7h0M445.3 2007.0h0M434.3 2140.8h0M470.0 2121.8h0M383.3 2168.3h0M417.9 1986.4h0M396.6 2035.8h0M547.2 1923.8h0M451.1 1861.8h0M336.8 2008.5h0M732.5 2307.1h0M437.3 1843.2h0M436.5 1861.2h0M337.1 2040.0h0M522.1 1767.5h0M359.0 1808.1h0M268.1 1936.7h0M533.9 1913.6h0M480.7 1904.8h0M392.1 1987.9h0M570.9 1934.2h0M435.0 2024.2h0M481.7 1933.4h0M407.7 1912.7h0M250.5 1876.4h0M400.2 1890.9h0M462.4 1963.5h0M342.4 2102.5h0M536.8 1909.1h0M390.5 1983.2h0M368.8 1946.2h0M372.3 1980.8h0M467.8 2145.4h0M429.6 1932.6h0M332.9 1777.5h0M416.7 1969.3h0M329.0 1960.1h0M491.3 2069.2h0M548.4 2086.1h0M575.8 2111.0h0M485.8 2053.3h0M385.0 2115.8h0M384.7 1958.3h0M485.5 1863.6h0M257.0 1914.0h0M538.8 1770.4h0M410.6 1873.9h0M242.8 1874.3h0M364.6 1957.0h0M643.4 2210.3h0M268.9 1997.4h0M418.9 2028.7h0M247.1 1987.3h0M455.7 1986.8h0M309.7 1973.9h0M410.5 1980.2h0M239.0 1864.1h0M456.7 2080.4h0M247.7 2015.7h0M513.5 1795.2h0M472.1 2053.8h0M410.0 1842.6h0M491.7 2061.4h0M437.4 1815.4h0M314.0 1961.7h0M496.5 2126.6h0M490.8 2001.8h0M265.4 1875.4h0M304.6 2040.0h0M413.2 2057.2h0M342.7 1989.6h0M430.2 1977.3h0M478.6 2108.4h0M382.4 2015.2h0M467.4 2067.2h0M195.9 1905.6h0M442.8 1889.0h0M291.7 1991.9h0M217.1 2129.3h0M413.1 1903.6h0M383.8 2112.8h0M376.9 1891.1h0M287.3 2039.9h0M370.0 2051.4h0M250.8 1923.3h0M467.3 1969.7h0M360.8 1967.5h0M316.7 2041.6h0M367.9 1972.6h0M377.8 1949.9h0M345.3 1921.2h0M394.0 1882.4h0M325.9 1870.8h0M189.3 2077.9h0M491.5 1930.3h0M380.7 1983.2h0M225.1 2066.6h0M337.6 1930.3h0M328.5 1935.2h0M315.7 1962.1h0M225.9 1964.1h0M455.1 2065.3h0M386.3 2089.6h0M418.6 2005.7h0M412.2 1794.5h0M328.2 1931.6h0M378.3 1856.3h0M452.4 1948.8h0M332.3 2100.1h0M434.8 2065.7h0M308.8 2009.3h0M316.5 1921.3h0M374.7 2087.8h0M334.3 1852.2h0M269.8 2011.8h0M329.6 2117.4h0M455.1 2035.3h0M430.4 2020.5h0M534.1 1984.9h0M445.9 1747.5h0M513.5 1995.4h0M304.0 2121.7h0M332.9 2126.8h0M484.3 1986.9h0M524.2 1958.2h0M479.7 1953.7h0M323.6 2080.0h0M491.0 2031.7h0M431.4 2015.4h0M393.1 1739.1h0M496.4 1927.7h0M609.1 1898.2h0M438.1 1961.0h0M443.1 2082.6h0M458.5 1830.3h0M290.4 2056.0h0M500.7 1958.1h0M325.0 1899.9h0M359.8 1960.1h0M488.7 1958.8h0M388.3 1900.0h0M464.9 1986.3h0M421.0 2000.2h0M528.6 1984.0h0M343.2 1911.0h0M447.9 2078.8h0M211.6 1948.0h0M334.7 1819.5h0M313.7 1973.7h0M432.9 1997.6h0M375.9 1969.4h0M340.6 2056.9h0M443.3 1911.4h0M290.6 2093.3h0M474.0 1991.2h0M342.7 2014.7h0M450.3 2028.1h0M316.6 1965.9h0M431.5 1857.6h0M421.7 1908.1h0M487.7 2029.9h0M476.7 2024.7h0M316.2 1989.0h0M331.9 1926.5h0M507.6 2108.0h0M174.7 1953.8h0M221.9 1980.0h0M420.4 1793.3h0M266.3 1744.0h0M294.4 1895.0h0M216.5 2074.6h0M517.0 2030.1h0M450.0 2023.3h0M295.2 2195.5h0M316.4 2093.3h0M374.6 2026.2h0M434.1 1818.7h0M379.6 1957.2h0M453.5 1878.4h0M301.9 1895.8h0M168.3 1843.0h0M477.4 1905.8h0M307.4 1903.5h0M437.3 2021.4h0M330.7 1808.3h0M354.9 1875.4h0M270.6 1924.4h0M346.9 1966.7h0M272.7 2059.4h0M350.3 1849.9h0M478.8 1999.3h0M506.3 1988.5h0M509.4 1883.4h0M531.8 1805.8h0M465.8 1944.2h0M422.1 1947.9h0M508.4 1866.8h0M416.0 1913.1h0M273.7 1751.2h0M449.7 1919.3h0M324.2 2052.9h0M371.0 1955.0h0M345.8 1994.6h0M432.5 1990.3h0M448.2 1983.4h0M264.2 1892.0h0M313.2 2103.6h0M492.1 2066.1h0M412.1 2110.2h0M410.6 1859.0h0M275.7 1881.6h0M399.5 2089.5h0M281.4 2145.4h0M401.3 1886.2h0M489.8 1866.1h0M333.3 2010.3h0M332.7 2035.5h0M223.5 2058.2h0M258.6 2034.8h0M434.3 1996.7h0M362.1 2058.6h0M509.2 1849.0h0M448.2 2045.8h0M408.6 1995.9h0M584.6 1995.4h0M257.6 1959.3h0M474.0 2030.5h0M302.8 1934.6h0M438.9 2054.5h0M352.2 1843.9h0M368.1 2123.8h0M435.8 1989.9h0M453.1 1887.8h0M332.8 1935.7h0M380.4 2029.4h0M315.7 2159.6h0M442.7 1853.3h0M366.5 2015.3h0M213.8 1877.7h0M310.0 1972.1h0M448.5 2018.8h0M308.4 1755.3h0M434.9 2043.7h0M416.4 1931.7h0M281.6 1770.0h0M459.7 1933.8h0M307.8 2027.6h0M432.1 2027.1h0M505.5 1912.9h0M263.9 1835.6h0M313.2 1895.1h0M394.6 1915.5h0M427.5 1839.6h0M557.0 1995.0h0M519.7 1899.9h0M307.0 2090.5h0M408.4 1963.2h0M431.0 2038.7h0M430.7 1980.8h0M644.9 2075.1h0M162.2 1839.8h0M461.5 1997.4h0M389.9 2075.1h0M400.0 1955.6h0M385.4 1974.7h0M376.9 2208.2h0M337.6 1968.2h0M462.9 1987.7h0M390.5 1861.8h0M390.0 1998.3h0M414.9 1974.0h0M343.1 1896.6h0M484.6 2101.9h0M351.4 1906.4h0M304.2 2066.5h0M536.9 2137.0h0M377.4 2026.3h0M286.1 1984.2h0M331.3 1964.3h0M491.6 1779.3h0M325.2 1993.1h0M377.3 1856.0h0M437.1 2017.7h0M433.5 2191.6h0M371.0 1971.4h0M406.2 2087.5h0M377.0 1994.9h0M599.4 1771.8h0M306.0 1832.6h0M278.3 2085.3h0M454.5 1896.3h0M455.9 1957.7h0M396.9 2129.0h0M417.5 2002.7h0M243.8 1942.2h0M352.6 1848.4h0M469.7 1920.7h0M526.2 1951.0h0M311.4 2234.3h0M476.4 2000.1h0M452.2 1807.6h0M346.4 1984.7h0M436.5 1969.4h0M338.8 2105.0h0M289.1 1967.4h0M185.0 2175.4h0M575.1 1928.0h0M592.0 2024.3h0M411.7 1927.6h0M514.9 1808.1h0M377.2 2108.4h0M235.2 1975.9h0M474.0 1810.3h0M544.2 1984.9h0M230.0 2005.4h0M383.3 2133.2h0M339.0 1964.8h0M445.2 1834.2h0M446.7 1972.6h0M348.2 1921.7h0M359.7 1957.6h0M550.7 1981.0h0M443.0 1890.2h0M471.3 2075.8h0M320.1 2212.9h0M432.1 1834.4h0M367.2 1885.6h0M474.3 2175.3h0M635.0 1934.7h0M358.7 2161.0h0M396.9 1889.7h0M377.7 1948.2h0M439.3 2023.0h0M261.8 1876.6h0M421.6 2105.6h0M459.9 2034.3h0M356.5 2052.9h0M365.8 2099.0h0M462.1 2024.9h0M346.2 2014.0h0M407.7 1884.8h0M355.8 2082.2h0M339.7 1948.2h0M505.2 1901.0h0M406.4 1969.7h0M368.6 2002.6h0M524.6 2127.9h0M355.5 2004.8h0M538.1 2070.3h0M367.5 1864.6h0M455.1 2051.3h0M441.5 1894.7h0M414.6 2046.6h0M357.8 1965.5h0M523.6 2055.6h0M333.2 2036.7h0M482.6 1788.9h0M309.2 2038.1h0M312.5 1945.5h0M308.2 1982.9h0M386.9 2029.0h0M295.9 1968.5h0M441.1 2012.9h0M391.4 1735.0h0M231.4 2079.8h0M524.9 1889.8h0M375.0 1849.6h0M428.2 1879.5h0M515.8 1861.7h0M289.9 2049.7h0M387.7 2025.9h0M514.6 2156.7h0M187.8 1919.5h0M525.1 1944.8h0M255.1 1890.1h0M434.9 2013.3h0M378.1 1850.4h0M543.0 2108.4h0M394.9 1680.6h0M463.7 1852.7h0M354.2 2118.6h0M460.8 2001.0h0M384.1 1858.2h0M248.2 2074.0h0M410.7 1915.1h0M571.6 2063.3h0M344.8 1761.5h0M418.1 1926.7h0M272.9 2144.7h0M302.2 1887.6h0M308.3 1797.1h0M545.0 1943.3h0M499.5 2042.7h0M490.5 2083.3h0M414.3 2058.0h0M497.9 1822.7h0M385.0 2044.1h0M420.4 2075.2h0M322.5 2060.2h0M535.6 2016.6h0M443.6 1853.7h0M394.1 1769.3h0M378.2 1978.3h0M374.6 1634.0h0M305.6 2102.0h0M380.1 2043.0h0M301.2 1989.3h0M344.5 2031.7h0M250.9 1894.0h0M411.5 2089.3h0M374.3 2021.4h0M147.0 2012.6h0M235.9 1828.8h0M433.8 1807.8h0M409.7 1907.0h0M265.3 1905.7h0M421.1 1869.2h0M313.3 2139.8h0M358.0 2252.6h0M493.4 2003.5h0M418.2 1947.5h0M369.7 1985.8h0M214.5 1905.0h0M293.0 1883.8h0M322.8 1704.0h0M404.8 1980.2h0M360.9 1909.4h0M412.6 1841.3h0M447.9 1955.0h0M383.3 1957.3h0M374.2 2141.7h0M381.2 2016.4h0M403.5 1904.3h0M331.6 1971.4h0M260.0 1925.7h0M381.7 2074.5h0M360.9 2125.5h0M417.3 2058.5h0M419.9 2226.6h0M325.7 2062.4h0M694.6 2112.1h0M447.3 2233.4h0M331.1 2244.4h0M343.6 2017.5h0M512.8 1917.6h0M572.3 1944.5h0M321.1 1974.8h0M417.6 2014.8h0M408.9 1876.2h0M275.6 1983.8h0M472.5 2054.8h0M457.4 1836.6h0M385.9 1911.6h0M458.1 2022.2h0M324.4 1974.5h0M323.3 1998.7h0M420.4 2027.9h0M484.0 2019.7h0M307.1 1805.7h0M359.8 2015.9h0M393.1 1888.4h0M250.4 1862.3h0M491.3 2252.6h0M509.4 2075.4h0M280.8 1857.5h0M622.0 1723.4h0M378.7 2072.3h0M274.2 2028.1h0M262.5 1916.3h0M338.1 1898.3h0M224.8 1876.5h0M408.6 1911.4h0M316.5 1996.6h0M406.4 2066.6h0M498.6 2042.6h0M287.8 2012.1h0M368.8 2017.7h0M283.9 1928.3h0M416.4 1983.1h0M562.2 1888.6h0M453.0 2078.2h0M340.4 1810.9h0M304.8 2040.0h0M441.8 1958.5h0M333.7 2043.7h0M263.6 2145.6h0M301.2 1738.0h0M458.9 1943.3h0M440.8 1848.1h0M314.6 1856.6h0M307.8 1861.4h0M529.1 1853.8h0M644.7 1887.5h0M385.4 1906.1h0M412.1 1974.0h0M406.8 1964.9h0M360.3 1988.5h0M391.2 2060.8h0M459.0 1822.0h0M285.5 1814.9h0M464.5 1902.5h0M456.5 2002.2h0M374.7 1959.7h0M338.8 1960.3h0M461.8 1988.5h0M360.1 1971.5h0M444.8 1756.3h0M394.1 1821.8h0M524.8 1981.0h0M293.3 2001.2h0M423.2 1877.4h0M307.5 1875.2h0M501.4 1909.0h0M309.6 1918.2h0M330.1 1994.6h0M412.2 2117.1h0M614.5 2002.6h0M419.2 2095.8h0M430.9 1863.1h0M450.9 2002.1h0M478.9 2027.2h0M411.6 1939.6h0M392.8 2151.2h0M441.1 2015.8h0M478.2 1914.2h0M258.3 1871.7h0M402.4 1993.5h0M496.5 1965.4h0M358.4 2084.4h0M431.7 2115.3h0M451.6 1840.2h0M269.4 2036.3h0M457.5 1854.7h0M329.8 2039.9h0M462.1 1981.2h0M343.9 1932.6h0M267.6 1966.4h0M439.9 1909.6h0M396.6 2041.0h0M468.8 1864.5h0M521.2 2147.3h0M195.7 2127.6h0M210.0 1692.0h0M390.8 1716.6h0M392.6 2038.8h0M371.6 1904.9h0M528.4 1894.3h0M424.8 2061.3h0M219.2 1992.4h0M409.4 1883.3h0M467.7 2143.9h0M342.9 2145.7h0M462.6 2030.3h0M416.1 1830.3h0M507.9 1927.0h0M557.7 1995.0h0M295.5 1830.4h0M405.8 1925.9h0M423.1 1820.7h0M418.4 1919.1h0M507.8 1947.6h0M279.4 2049.5h0M365.9 2001.8h0M442.4 1848.2h0M321.5 2048.8h0M379.2 2096.3h0M305.7 2157.9h0M341.3 1961.8h0M423.9 1968.1h0M408.3 1878.9h0M595.8 1990.8h0M280.9 1877.4h0M263.1 2089.9h0M447.4 1849.5h0M388.2 2188.6h0M362.2 1907.7h0M559.5 2147.6h0M451.9 1764.2h0M431.4 2059.8h0M356.8 1992.7h0M288.8 2005.5h0M564.4 1916.5h0M646.3 1821.1h0M343.4 2065.9h0M461.5 1795.0h0M387.0 2014.2h0M460.4 1988.9h0M335.7 1985.3h0M476.3 1917.8h0M466.0 2010.0h0M310.2 1881.1h0M362.2 1982.1h0M359.4 2264.0h0M416.4 1894.9h0M176.9 1886.4h0M381.3 1951.0h0M441.3 1856.7h0M359.3 2046.9h0M413.3 2155.6h0M349.4 1953.4h0M518.9 2037.9h0M413.8 2049.5h0M279.4 1919.5h0M455.6 1921.4h0M541.8 1812.1h0M473.7 1975.7h0M393.7 1956.2h0M308.7 1809.4h0M374.8 1951.3h0M346.4 1845.6h0M428.3 2069.5h0M421.3 2082.6h0M555.3 1952.6h0M292.9 2037.4h0M327.5 1797.1h0M373.9 2050.9h0M451.8 1940.0h0M344.0 1973.1h0M388.6 1974.4h0M439.5 1960.8h0M390.9 1978.5h0M593.5 1883.7h0M510.1 1911.1h0M320.8 2062.7h0M448.1 2022.7h0M187.5 1926.6h0M560.0 1944.1h0M317.0 2113.5h0M445.6 1797.6h0M421.9 1841.1h0M386.7 1979.4h0M490.3 2032.1h0M351.1 2080.3h0M496.6 2037.4h0M275.7 1880.2h0M381.6 1901.7h0M377.3 1934.6h0M411.2 2014.2h0M302.2 1876.6h0M423.5 1942.4h0M281.8 1974.4h0M337.0 1965.5h0M497.1 1913.0h0M316.5 2075.2h0M403.1 1942.7h0M410.6 2009.6h0M283.9 1880.1h0M396.5 2055.7h0M378.2 2002.9h0M391.1 1897.4h0M417.3 1957.2h0M229.6 2028.9h0M313.7 2168.7h0M322.1 1906.4h0M257.0 1847.1h0M383.5 1940.1h0M460.1 2101.3h0M367.1 1995.3h0M526.6 1885.6h0M338.2 2134.8h0M483.1 1935.2h0M351.4 1917.7h0M407.4 2101.9h0M536.6 1853.5h0M504.5 1903.4h0M485.6 1810.5h0M295.6 1792.9h0M636.7 1829.8h0M447.7 1813.4h0M435.5 1860.0h0M284.6 1884.5h0M421.9 2076.9h0M402.9 1852.3h0M204.3 1859.2h0M471.4 1987.3h0M345.7 1937.4h0M376.3 2058.9h0M365.8 2054.6h0M450.3 1997.2h0M405.8 2028.5h0M543.2 1975.8h0M358.6 2043.0h0M307.8 2017.3h0M396.9 2171.0h0M429.3 2039.3h0M442.8 1935.4h0M460.1 2157.4h0M292.3 2247.6h0M533.5 2080.0h0M304.8 1962.1h0M384.6 1987.9h0M466.3 2053.2h0M362.2 2024.8h0M387.1 1955.3h0M457.0 2031.4h0M473.9 2058.1h0M256.0 1926.9h0M352.7 2229.5h0M413.4 2183.5h0M350.1 2217.3h0M422.0 1939.1h0M302.7 1941.7h0M354.0 2006.7h0M365.2 1951.9h0M271.0 1873.6h0M360.0 2063.1h0M382.4 1870.4h0M398.8 1816.2h0M388.0 1955.2h0M299.2 1956.1h0M490.7 1958.1h0M405.3 1906.4h0M332.7 2070.0h0M326.9 1833.7h0M342.1 1960.5h0M520.8 1990.9h0M501.9 1824.4h0M408.6 2069.6h0M390.9 2183.2h0M372.0 1826.9h0M331.6 2000.2h0M415.5 2070.9h0M338.7 1801.0h0M394.0 1771.9h0M506.2 1992.2h0M244.3 2101.5h0M441.5 2050.7h0M522.0 1873.5h0M574.4 2007.0h0M368.1 2106.0h0M516.5 2054.7h0M470.4 1885.1h0M261.9 1930.1h0M483.0 1901.7h0M336.6 2031.1h0M283.0 1830.7h0M514.7 1869.0h0M259.8 2034.2h0M430.1 1906.8h0M386.4 2046.9h0M437.1 1988.3h0M535.0 1996.3h0M200.9 1949.9h0M514.2 1853.8h0M398.5 1954.9h0M433.1 1902.2h0M269.2 2073.0h0M396.3 1884.4h0M243.2 1890.3h0M463.9 1993.8h0M424.7 1995.5h0M316.1 1947.5h0M322.3 2057.1h0M536.0 1938.5h0M587.8 1906.1h0M333.6 1919.6h0M419.5 2173.2h0M422.7 1995.0h0M446.4 1974.9h0M456.6 2003.2h0M336.5 1922.7h0M492.8 2076.2h0M472.2 2000.4h0M364.4 1929.7h0M442.7 1971.6h0M549.1 2165.8h0M383.3 1992.8h0M569.2 2064.6h0M303.8 1923.0h0M461.2 1761.2h0M459.0 2025.3h0M422.0 1911.3h0M457.9 2023.7h0M352.4 2129.0h0M418.0 2058.5h0M333.9 2045.5h0M352.7 1950.4h0M441.8 1965.3h0M403.3 1950.6h0M366.0 2084.2h0M314.7 1857.0h0M374.1 1975.0h0M330.0 1901.0h0M306.0 1793.3h0M360.9 1983.9h0M541.6 1803.9h0M460.6 1993.1h0M507.5 1908.9h0M462.8 1760.5h0M422.8 1967.6h0M385.4 2064.4h0M562.0 1920.4h0M573.3 2021.9h0M419.3 1883.6h0M286.4 1857.6h0M419.5 2041.2h0M288.7 1840.8h0M392.1 2206.0h0M442.7 2123.4h0M394.9 1970.7h0M482.6 1932.8h0M413.5 1970.0h0M477.0 2085.4h0M290.5 2090.9h0M184.5 2075.0h0M455.9 2038.4h0M349.8 1970.3h0M406.5 2091.9h0M436.2 1954.7h0M537.5 1953.8h0M179.1 1925.0h0M266.6 1940.3h0M243.5 1949.7h0M437.2 2002.4h0M388.0 1792.7h0M333.6 2023.6h0M319.6 2098.0h0M401.2 2007.6h0M298.5 1769.1h0M323.7 2140.7h0M467.5 2016.6h0M553.1 1786.7h0M425.8 1830.0h0M321.0 1754.5h0M226.5 1898.3h0M394.4 1774.6h0M298.3 2022.0h0M349.1 1932.0h0M384.3 1916.0h0M497.1 1952.8h0M536.4 1863.7h0M436.9 2098.5h0M438.9 1822.0h0M347.0 1904.4h0M416.0 2079.8h0M405.2 1923.6h0M289.1 1765.5h0M315.8 1927.5h0M380.2 2076.5h0M268.7 1944.7h0M399.3 2004.2h0M466.4 1946.8h0M558.8 2172.5h0M303.9 1914.0h0M364.2 2020.5h0M320.5 1920.5h0M433.3 2233.5h0M422.0 2170.7h0M364.5 2150.4h0M368.3 1846.4h0M399.1 1802.2h0M405.8 2034.1h0M403.0 1934.5h0M439.2 2014.6h0M440.7 1801.2h0M554.1 2090.7h0M324.5 1941.1h0M509.2 2109.0h0M373.5 1956.6h0M366.3 1975.4h0M424.7 1636.9h0M310.2 1946.4h0M445.9 1950.5h0M315.2 2084.9h0M272.6 1868.7h0M544.6 2109.7h0M229.0 1919.0h0M371.4 1964.8h0M407.5 1934.7h0M442.8 1841.9h0M386.4 1965.5h0M550.7 1897.5h0M367.4 1990.5h0M451.1 1842.6h0M514.8 2015.0h0M450.0 2008.4h0M469.6 1808.8h0M178.5 2072.2h0M427.4 2052.9h0M466.0 2004.6h0M476.1 2019.0h0M497.5 1846.1h0M338.4 2123.4h0M259.4 2094.5h0M381.0 1974.4h0M465.6 1917.8h0M411.8 1826.3h0M442.8 1858.6h0M517.4 2060.5h0M304.1 1884.9h0M455.0 2048.6h0M443.5 1884.4h0M367.3 2182.0h0M220.3 2184.8h0M334.2 2066.1h0M384.5 2006.2h0M361.6 2069.1h0M423.6 1943.9h0" stroke="#008000" stroke-opacity="0.09" stroke-width="3.0" stroke-linecap="round" fill="none"/>
</g>
<path d="M395 1715.5L395 2251.5M584.5 1794L205.5 2173M663 1983.5L127 1983.5M584.5 2173L205.5 1794" stroke="#b0b0b0" stroke-width="2.7" fill="none"/>
<circle cx="395" cy="1983.5" r="67.3" fill="none" stroke="#b0b0b0" stroke-width="2.7"/>
<circle cx="395" cy="1983.5" r="134.6" fill="none" stroke="#b0b0b0" stroke-width="2.7"/>
<circle cx="395" cy="1983.5" r="201.9" fill="none" stroke="#b0b0b0" stroke-width="2.7"/>
<circle cx="395" cy="1983.5" r="268" fill="none" stroke="#000" stroke-width="1.7"/>
<text x="396" y="1697" font-size="31" text-anchor="middle" font-weight="normal" fill="#000">0°</text>
<text x="602.5" y="1783.5" font-size="31" text-anchor="middle" font-weight="normal" fill="#000">45°</text>
<text x="690" y="1993.5" font-size="31" text-anchor="middle" font-weight="normal" fill="#000">90°</text>
<text x="603.5" y="2201" font-size="31" text-anchor="middle" font-weight="normal" fill="#000">135°</text>
<text x="395" y="2287" font-size="31" text-anchor="middle" font-weight="normal" fill="#000">180°</text>
<text x="185" y="2201" font-size="31" text-anchor="middle" font-weight="normal" fill="#000">225°</text>
<text x="98.5" y="1993.5" font-size="31" text-anchor="middle" font-weight="normal" fill="#000">270°</text>
<text x="185" y="1783.5" font-size="31" text-anchor="middle" font-weight="normal" fill="#000">315°</text>
<text x="487.5" y="2012.5" font-size="31" text-anchor="middle" font-weight="normal" fill="#000">1000</text>
<text x="542.5" y="2049.5" font-size="31" text-anchor="middle" font-weight="normal" fill="#000">2000</text>
<text x="600" y="2085" font-size="31" text-anchor="middle" font-weight="normal" fill="#000">3000</text>
<text x="22" y="1008" font-size="47" text-anchor="start" font-weight="bold" fill="#000">g</text>
<rect x="934.5" y="1455" width="148" height="201.4" fill="#ce2726"/>
<rect x="934.5" y="1345" width="148" height="110.4" fill="#e95739"/>
<rect x="934.5" y="1210" width="148" height="135.4" fill="#f88e52"/>
<rect x="934.5" y="1135" width="148" height="75.4" fill="#fdbe6e"/>
<rect x="934.5" y="1124" width="148" height="11.4" fill="#fee493"/>
<rect x="934.5" y="1118" width="148" height="6.4" fill="#fefebd"/>
<rect x="934.5" y="1083.5" width="148" height="34.9" fill="#def193"/>
<rect x="934.5" y="1044" width="148" height="39.9" fill="#b7e075"/>
<rect x="934.5" y="1024" width="148" height="20.4" fill="#84ca66"/>
<rect x="934.5" y="1018.5" width="148" height="5.9" fill="#4baf5c"/>
<rect x="934.5" y="1013.3" width="148" height="5.6" fill="#158f4b"/>
<rect x="1089" y="1404.5" width="148" height="251.9" fill="#ce2726"/>
<rect x="1089" y="1324" width="148" height="80.9" fill="#e95739"/>
<rect x="1089" y="1231" width="148" height="93.4" fill="#f88e52"/>
<rect x="1089" y="1176" width="148" height="55.4" fill="#fdbe6e"/>
<rect x="1089" y="1163.5" width="148" height="12.9" fill="#fee493"/>
<rect x="1089" y="1156" width="148" height="7.9" fill="#fefebd"/>
<rect x="1089" y="1110.5" width="148" height="45.9" fill="#def193"/>
<rect x="1089" y="1067.5" width="148" height="43.4" fill="#b7e075"/>
<rect x="1089" y="1035" width="148" height="32.9" fill="#84ca66"/>
<rect x="1089" y="1020.5" width="148" height="14.9" fill="#4baf5c"/>
<rect x="1089" y="1014" width="148" height="6.9" fill="#158f4b"/>
<text x="904" y="1024.4" font-size="31.5" text-anchor="end" font-weight="normal" fill="#262626">1.0</text>
<text x="904" y="1152.9" font-size="31.5" text-anchor="end" font-weight="normal" fill="#262626">0.8</text>
<text x="904" y="1281.4" font-size="31.5" text-anchor="end" font-weight="normal" fill="#262626">0.6</text>
<text x="904" y="1410.4" font-size="31.5" text-anchor="end" font-weight="normal" fill="#262626">0.4</text>
<text x="904" y="1538.9" font-size="31.5" text-anchor="end" font-weight="normal" fill="#262626">0.2</text>
<text x="904" y="1667.9" font-size="31.5" text-anchor="end" font-weight="normal" fill="#262626">0.0</text>
<text x="1008.5" y="1696.3" font-size="31.5" text-anchor="middle" font-weight="normal" fill="#262626">14</text>
<text x="1162.5" y="1696.3" font-size="31.5" text-anchor="middle" font-weight="normal" fill="#262626">18</text>
<text transform="translate(1085.5 1749) scale(1.155 1)" font-size="31" text-anchor="middle" fill="#111">T<tspan dy="6" font-size="21.7">r</tspan><tspan dy="-6"> [°C]</tspan></text>
<text x="704" y="1008" font-size="47" text-anchor="start" font-weight="bold" fill="#000">h</text>
<rect x="958" y="1890" width="450.5" height="40" fill="#cccccc"/>
<rect x="958" y="2164" width="450.5" height="40.5" fill="#cccccc"/>
<rect x="958" y="2209.5" width="450.5" height="40.5" fill="#cccccc"/>
<rect x="861" y="1803.75" width="68.5" height="34.5" rx="17" ry="15.5" fill="#ce2726"/>
<text x="968" y="1832.2" font-size="31.6" text-anchor="start" font-weight="normal" fill="#262626">01 Inactive 1</text>
<rect x="861" y="1848.9" width="68.5" height="34.5" rx="17" ry="15.5" fill="#e95739"/>
<text x="968" y="1877.35" font-size="31.6" text-anchor="start" font-weight="normal" fill="#262626">02 Inactive 2</text>
<rect x="861" y="1894.05" width="68.5" height="34.5" rx="17" ry="15.5" fill="#f88e52"/>
<text x="968" y="1922.5" font-size="31.6" text-anchor="start" font-weight="normal" fill="#262626">03 Small Twitches</text>
<rect x="861" y="1939.2" width="68.5" height="34.5" rx="17" ry="15.5" fill="#fdbe6e"/>
<text x="968" y="1967.65" font-size="31.6" text-anchor="start" font-weight="normal" fill="#262626">04 Large Twitches</text>
<rect x="861" y="1984.35" width="68.5" height="34.5" rx="17" ry="15.5" fill="#fee493"/>
<text x="968" y="2012.8" font-size="31.6" text-anchor="start" font-weight="normal" fill="#262626">05 Collision//Decelleration</text>
<rect x="861" y="2029.5" width="68.5" height="34.5" rx="17" ry="15.5" fill="#fefebd"/>
<text x="968" y="2057.95" font-size="31.6" text-anchor="start" font-weight="normal" fill="#262626">06 Mode Change 1</text>
<rect x="861" y="2074.65" width="68.5" height="34.5" rx="17" ry="15.5" fill="#def193"/>
<text x="968" y="2103.1" font-size="31.6" text-anchor="start" font-weight="normal" fill="#262626">07 Mode Change 2</text>
<rect x="861" y="2119.8" width="68.5" height="34.5" rx="17" ry="15.5" fill="#b7e075"/>
<text x="968" y="2148.25" font-size="31.6" text-anchor="start" font-weight="normal" fill="#262626">08 Slow Active Swimming</text>
<rect x="861" y="2164.95" width="68.5" height="34.5" rx="17" ry="15.5" fill="#84ca66"/>
<text x="968" y="2193.4" font-size="31.6" text-anchor="start" font-weight="normal" fill="#262626">09 Medium Active Swimming</text>
<rect x="861" y="2210.1" width="68.5" height="34.5" rx="17" ry="15.5" fill="#4baf5c"/>
<text x="968" y="2238.55" font-size="31.6" text-anchor="start" font-weight="normal" fill="#262626">10 Fast Active Swimming 1</text>
<rect x="861" y="2255.25" width="68.5" height="34.5" rx="17" ry="15.5" fill="#158f4b"/>
<text x="968" y="2283.7" font-size="31.6" text-anchor="start" font-weight="normal" fill="#262626">11 Fast Active Swimming 2</text>
</svg>
</body></html>
